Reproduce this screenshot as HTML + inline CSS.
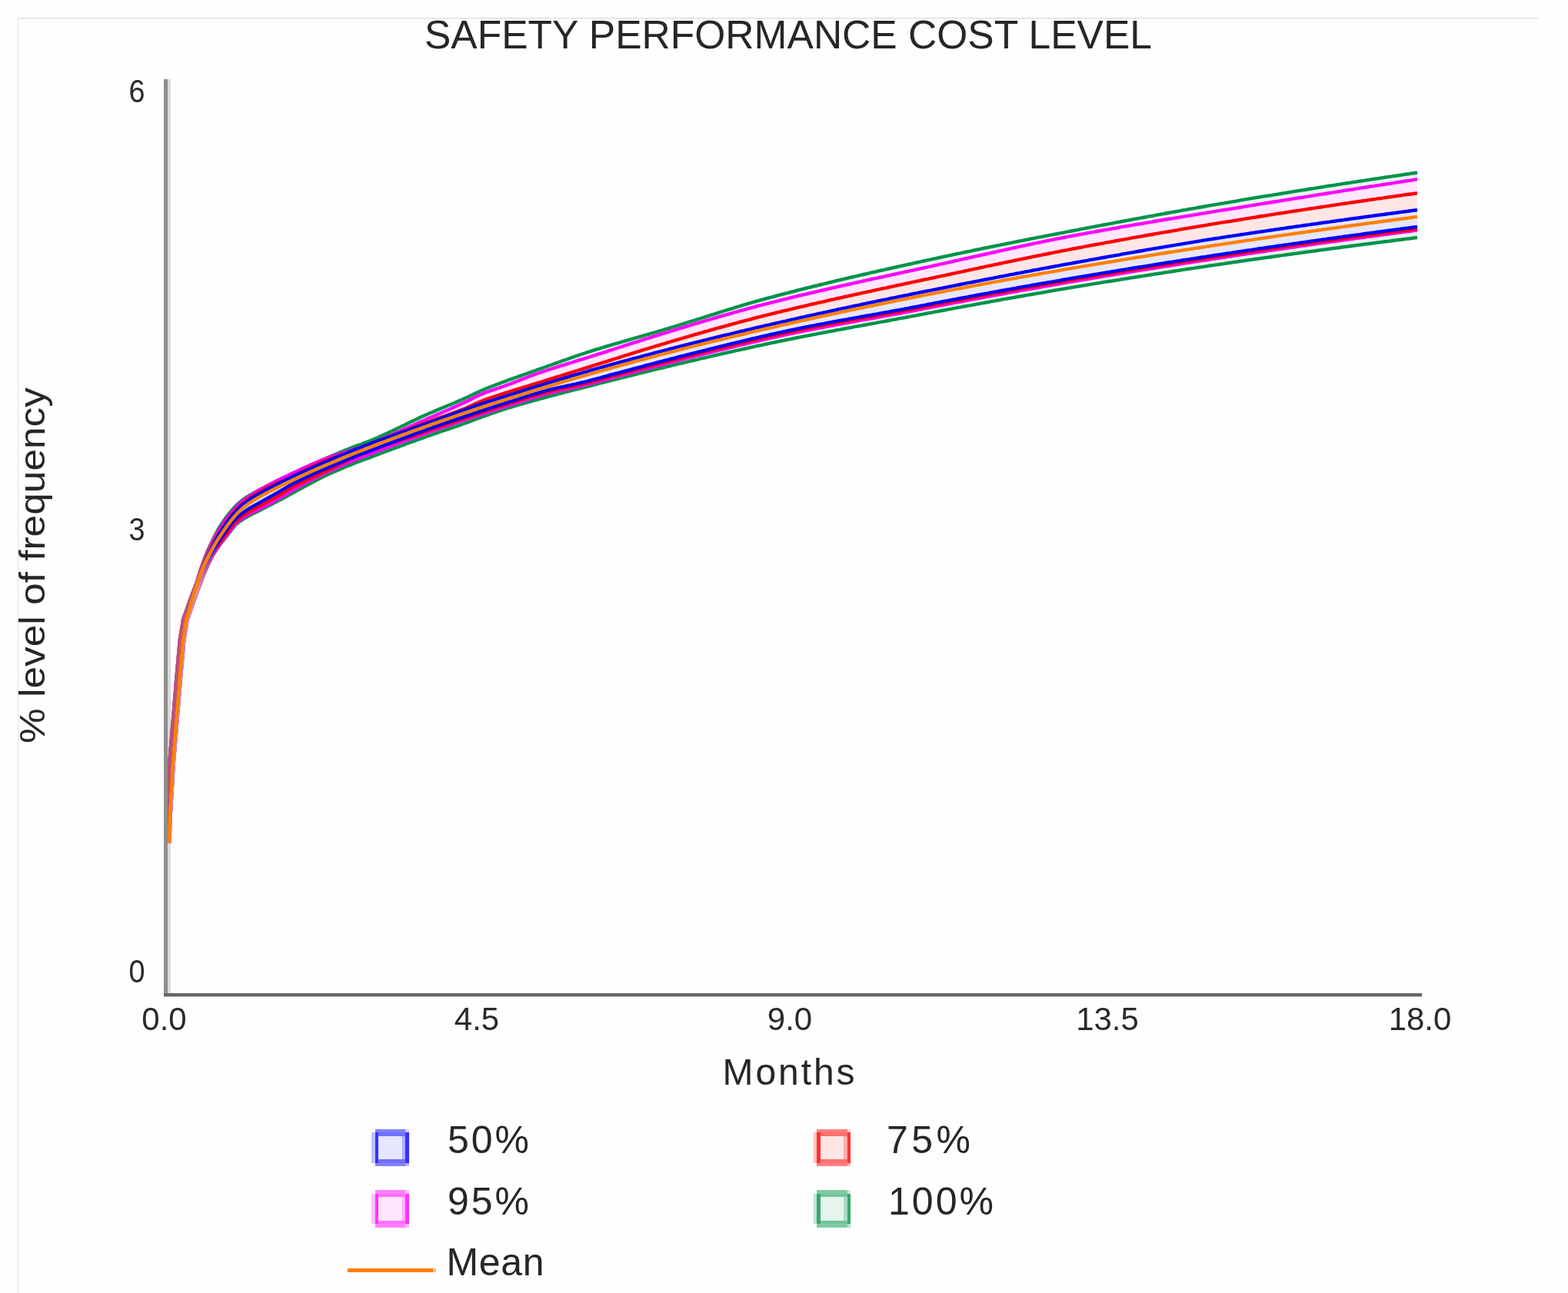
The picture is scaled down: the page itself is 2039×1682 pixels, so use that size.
<!DOCTYPE html>
<html><head><meta charset="utf-8"><title>Safety Performance Cost Level</title>
<style>
html,body{margin:0;padding:0;background:#fefefe;}
body{width:2039px;height:1682px;overflow:hidden;position:relative;}
svg{position:absolute;left:0;top:0;}
</style></head><body>
<svg width="2039" height="1682" viewBox="0 0 2039 1682">
<rect x="23" y="23" width="1977" height="1.3" fill="#dcdcdc"/>
<rect x="23" y="23" width="1.3" height="1659" fill="#e6e6e6"/>
<text x="552" y="62.6" font-size="51.5" fill="#262626" font-family="'Liberation Sans', Arial, sans-serif" textLength="946" lengthAdjust="spacing">SAFETY PERFORMANCE COST LEVEL</text>
<g font-family="'Liberation Sans', Arial, sans-serif" font-size="42" fill="#2a2a2a">
<text transform="translate(178,132.5) scale(0.9,1.03)" text-anchor="middle">6</text>
<text transform="translate(178,702.5) scale(0.9,1.03)" text-anchor="middle">3</text>
<text transform="translate(178,1277.5) scale(0.9,1.03)" text-anchor="middle">0</text>
<text x="213.5" y="1340" text-anchor="middle">0.0</text>
<text x="620" y="1340" text-anchor="middle">4.5</text>
<text x="1027" y="1340" text-anchor="middle">9.0</text>
<text x="1440" y="1340" text-anchor="middle">13.5</text>
<text x="1846.5" y="1340" text-anchor="middle">18.0</text>
</g>
<text x="939.5" y="1411" font-size="48" fill="#262626" font-family="'Liberation Sans', Arial, sans-serif" textLength="172" lengthAdjust="spacing">Months</text>
<text transform="translate(58,967) rotate(-90)" font-size="47" fill="#262626" font-family="'Liberation Sans', Arial, sans-serif" textLength="463" lengthAdjust="spacingAndGlyphs">% level of frequency</text>
<rect x="218" y="103" width="4" height="1189" fill="#d9d9d9"/>
<defs><clipPath id="pc"><rect x="218" y="100" width="1700" height="1192"/></clipPath></defs>
<g clip-path="url(#pc)">
<polygon points="215.0,1096.9 216.0,1064.8 220.1,994.7 224.7,939.7 229.2,884.7 233.8,832.6 238.2,805.3 239.5,801.8 240.7,798.6 241.9,795.4 243.1,792.1 244.2,788.8 245.4,785.4 246.6,782.1 247.8,778.8 249.0,775.5 250.2,772.3 251.4,769.1 252.6,766.0 253.8,762.9 255.0,759.9 256.1,757.0 257.0,754.1 257.8,751.2 258.6,748.4 259.5,745.7 260.3,743.1 261.1,740.5 262.0,738.0 262.8,735.6 263.6,733.2 264.5,730.9 265.3,728.6 266.1,726.4 267.0,724.2 267.8,722.1 268.7,720.0 269.5,717.9 270.4,715.9 271.3,713.9 272.1,712.0 273.0,710.1 273.8,708.2 274.7,706.3 275.6,704.5 276.4,702.7 277.3,700.9 278.2,699.2 279.1,697.4 279.9,695.7 280.8,694.1 281.7,692.4 282.6,690.8 283.4,689.1 284.3,687.5 285.3,686.0 286.2,684.5 287.2,683.0 288.2,681.5 289.1,680.1 290.1,678.6 291.1,677.2 292.1,675.8 293.0,674.4 294.0,673.0 295.1,671.7 296.1,670.3 297.1,669.0 298.2,667.8 299.2,666.5 300.2,665.3 301.3,664.1 302.3,662.9 303.3,661.7 304.4,660.5 305.4,659.4 306.5,658.3 307.5,657.2 308.6,656.2 309.7,655.2 310.7,654.2 311.8,653.3 312.9,652.4 314.0,651.5 315.0,650.7 316.1,649.9 317.2,649.1 318.3,648.4 319.4,647.6 320.4,646.9 321.5,646.2 322.6,645.6 323.6,644.9 324.7,644.3 325.8,643.6 326.8,643.0 327.9,642.4 328.9,641.8 330.0,641.2 331.0,640.6 332.0,640.1 333.1,639.5 334.1,638.9 335.1,638.4 336.2,637.8 337.2,637.3 338.2,636.8 339.2,636.2 340.2,635.7 341.3,635.2 342.3,634.6 343.3,634.1 344.3,633.6 345.3,633.0 346.4,632.5 347.4,632.0 348.4,631.5 349.4,630.9 350.4,630.4 351.4,629.9 352.4,629.4 353.5,628.9 354.5,628.3 355.5,627.8 356.5,627.3 357.5,626.8 358.5,626.3 359.5,625.8 360.5,625.3 361.6,624.8 362.6,624.3 363.6,623.8 364.6,623.3 365.6,622.8 366.6,622.3 367.6,621.8 368.6,621.3 369.6,620.9 370.6,620.4 371.7,619.9 372.7,619.4 373.7,618.9 374.7,618.4 375.7,617.9 376.7,617.5 377.7,617.0 378.7,616.5 379.7,616.0 380.7,615.5 381.7,615.1 382.7,614.6 383.7,614.1 384.7,613.6 385.7,613.2 386.8,612.7 387.8,612.2 388.8,611.8 389.8,611.3 390.8,610.8 391.8,610.4 392.8,609.9 393.8,609.5 394.8,609.0 395.8,608.5 396.7,608.1 399.7,606.8 402.7,605.4 405.8,604.1 408.8,602.7 411.8,601.4 414.8,600.1 417.8,598.8 420.9,597.5 423.9,596.2 427.0,594.8 430.1,593.6 433.1,592.3 436.2,591.0 439.2,589.7 442.3,588.4 445.3,587.2 448.4,585.9 451.5,584.7 454.5,583.5 457.6,582.2 460.6,581.0 463.7,579.9 466.8,578.8 469.9,577.7 472.9,576.5 476.0,575.4 479.1,574.2 482.1,573.0 485.1,571.8 488.1,570.5 491.2,569.2 494.2,567.8 497.2,566.5 500.2,565.1 503.2,563.7 506.2,562.3 509.2,560.9 512.2,559.5 515.2,558.0 518.2,556.6 521.2,555.1 524.2,553.7 527.2,552.2 530.2,550.7 533.2,549.3 536.3,547.8 539.3,546.4 542.3,545.0 545.3,543.5 548.4,542.1 551.4,540.7 554.5,539.4 557.5,538.0 560.6,536.7 563.6,535.4 566.7,534.1 569.8,532.8 572.8,531.6 575.9,530.3 579.0,529.0 582.0,527.8 585.1,526.5 588.2,525.2 591.2,523.9 594.3,522.6 597.4,521.3 600.5,520.0 603.5,518.6 606.6,517.2 609.7,515.7 612.8,514.2 615.9,512.8 619.0,511.3 622.0,509.9 625.0,508.5 628.0,507.2 631.0,505.9 634.0,504.7 637.0,503.5 640.0,502.4 643.0,501.2 646.0,500.1 649.0,499.0 652.0,497.8 655.0,496.7 658.0,495.6 661.0,494.5 664.0,493.4 667.0,492.4 670.0,491.3 673.0,490.2 676.0,489.1 679.0,488.1 682.0,487.0 685.0,486.0 688.0,484.9 691.0,483.8 694.0,482.8 697.0,481.7 700.0,480.7 703.0,479.6 706.0,478.5 709.0,477.5 712.0,476.4 715.0,475.3 718.0,474.2 721.0,473.1 724.0,472.1 727.0,471.0 730.0,469.9 733.0,468.8 736.0,467.8 739.0,466.7 742.0,465.6 745.0,464.6 748.0,463.5 751.0,462.5 754.0,461.5 757.0,460.5 760.0,459.5 763.0,458.5 766.0,457.5 769.0,456.6 772.0,455.6 775.0,454.7 778.0,453.8 781.0,452.9 784.0,452.0 787.0,451.1 790.0,450.2 793.0,449.3 796.0,448.4 799.0,447.5 802.0,446.6 805.0,445.8 808.0,444.9 811.0,444.0 814.0,443.2 817.0,442.3 820.0,441.4 823.0,440.6 826.0,439.7 829.0,438.9 832.0,438.0 835.0,437.2 838.0,436.3 841.0,435.4 844.0,434.6 847.0,433.7 850.0,432.9 853.0,432.0 856.0,431.1 859.0,430.2 862.0,429.3 865.0,428.4 868.0,427.5 871.0,426.6 874.0,425.7 877.0,424.8 880.0,423.9 883.0,422.9 886.0,422.0 889.0,421.1 892.0,420.1 895.0,419.2 898.0,418.2 901.0,417.3 904.0,416.4 907.0,415.4 910.0,414.5 913.0,413.5 916.0,412.6 919.0,411.6 922.0,410.7 925.0,409.7 928.0,408.8 931.0,407.8 934.0,406.9 937.0,405.9 940.0,405.0 943.0,404.0 946.0,403.1 949.0,402.2 952.0,401.3 955.0,400.3 958.0,399.4 961.0,398.5 964.0,397.6 967.0,396.7 970.0,395.8 973.0,394.9 976.0,394.1 979.0,393.2 982.0,392.3 985.0,391.5 988.0,390.6 991.0,389.8 994.0,389.0 997.0,388.2 1000.0,387.4 1003.0,386.6 1006.0,385.8 1009.0,385.0 1012.0,384.2 1015.0,383.4 1018.0,382.6 1021.0,381.8 1024.0,381.1 1027.0,380.3 1030.0,379.5 1033.0,378.8 1036.0,378.0 1039.0,377.2 1042.0,376.5 1045.0,375.7 1048.0,375.0 1051.0,374.2 1054.0,373.5 1057.0,372.7 1060.0,372.0 1063.0,371.3 1066.0,370.5 1069.0,369.8 1072.0,369.1 1075.0,368.3 1078.0,367.6 1081.0,366.9 1084.0,366.2 1087.0,365.4 1090.0,364.7 1093.0,364.0 1096.0,363.3 1099.0,362.6 1102.0,361.9 1105.0,361.2 1108.0,360.5 1111.0,359.8 1114.0,359.1 1117.0,358.4 1120.0,357.7 1123.0,357.0 1126.0,356.3 1129.0,355.6 1132.0,354.9 1135.0,354.2 1138.0,353.6 1141.0,352.9 1144.0,352.2 1147.0,351.5 1150.0,350.8 1153.0,350.2 1156.0,349.5 1159.0,348.8 1162.0,348.1 1165.0,347.5 1168.0,346.8 1171.0,346.1 1174.0,345.5 1177.0,344.8 1180.0,344.1 1183.0,343.5 1186.0,342.8 1189.0,342.2 1192.0,341.5 1195.0,340.8 1198.0,340.2 1201.0,339.5 1204.0,338.9 1207.0,338.2 1210.0,337.6 1213.0,336.9 1216.0,336.3 1219.0,335.6 1222.0,335.0 1225.0,334.3 1228.0,333.7 1231.0,333.1 1234.0,332.4 1237.0,331.8 1240.0,331.2 1243.0,330.5 1246.0,329.9 1249.0,329.3 1252.0,328.6 1255.0,328.0 1258.0,327.4 1261.0,326.8 1264.0,326.1 1267.0,325.5 1270.0,324.9 1273.0,324.3 1276.0,323.7 1279.0,323.0 1282.0,322.4 1285.0,321.8 1288.0,321.2 1291.0,320.6 1294.0,320.0 1297.0,319.4 1300.0,318.8 1303.0,318.2 1306.0,317.6 1309.0,317.0 1312.0,316.4 1315.0,315.8 1318.0,315.2 1321.0,314.6 1324.0,314.0 1327.0,313.4 1330.0,312.8 1333.0,312.2 1336.0,311.6 1339.0,311.0 1342.0,310.4 1345.0,309.8 1348.0,309.2 1351.0,308.7 1354.0,308.1 1357.0,307.5 1360.0,306.9 1363.0,306.3 1366.0,305.7 1369.0,305.2 1372.0,304.6 1375.0,304.0 1378.0,303.4 1381.0,302.8 1384.0,302.3 1387.0,301.7 1390.0,301.1 1393.0,300.5 1396.0,300.0 1399.0,299.4 1402.0,298.8 1405.0,298.2 1408.0,297.7 1411.0,297.1 1414.0,296.5 1417.0,295.9 1420.0,295.4 1423.0,294.8 1426.0,294.2 1429.0,293.7 1432.0,293.1 1435.0,292.5 1438.0,292.0 1441.0,291.4 1444.0,290.8 1447.0,290.3 1450.0,289.7 1453.0,289.1 1456.0,288.6 1459.0,288.0 1462.0,287.5 1465.0,286.9 1468.0,286.3 1471.0,285.8 1474.0,285.2 1477.0,284.7 1480.0,284.1 1483.0,283.6 1486.0,283.0 1489.0,282.5 1492.0,281.9 1495.0,281.4 1498.0,280.8 1501.0,280.3 1504.0,279.7 1507.0,279.2 1510.0,278.6 1513.0,278.1 1516.0,277.5 1519.0,277.0 1522.0,276.4 1525.0,275.9 1528.0,275.4 1531.0,274.8 1534.0,274.3 1537.0,273.7 1540.0,273.2 1543.0,272.7 1546.0,272.1 1549.0,271.6 1552.0,271.1 1555.0,270.6 1558.0,270.0 1561.0,269.5 1564.0,269.0 1567.0,268.5 1570.0,267.9 1573.0,267.4 1576.0,266.9 1579.0,266.4 1582.0,265.9 1585.0,265.3 1588.0,264.8 1591.0,264.3 1594.0,263.8 1597.0,263.3 1600.0,262.8 1603.0,262.3 1606.0,261.8 1609.0,261.3 1612.0,260.7 1615.0,260.2 1618.0,259.7 1621.0,259.2 1624.0,258.7 1627.0,258.2 1630.0,257.7 1633.0,257.2 1636.0,256.7 1639.0,256.2 1642.0,255.7 1645.0,255.2 1648.0,254.8 1651.0,254.3 1654.0,253.8 1657.0,253.3 1660.0,252.8 1663.0,252.3 1666.0,251.8 1669.0,251.3 1672.0,250.8 1675.0,250.3 1678.0,249.9 1681.0,249.4 1684.0,248.9 1687.0,248.4 1690.0,247.9 1693.0,247.4 1696.0,247.0 1699.0,246.5 1702.0,246.0 1705.0,245.5 1708.0,245.1 1711.0,244.6 1714.0,244.1 1717.0,243.6 1720.0,243.2 1723.0,242.7 1726.0,242.2 1729.0,241.7 1732.0,241.3 1735.0,240.8 1738.0,240.3 1741.0,239.9 1744.0,239.4 1747.0,238.9 1750.0,238.5 1753.0,238.0 1756.0,237.6 1759.0,237.1 1762.0,236.6 1765.0,236.2 1768.0,235.7 1771.0,235.3 1774.0,234.8 1777.0,234.3 1780.0,233.9 1783.0,233.4 1786.0,233.0 1789.0,232.5 1792.0,232.1 1795.0,231.6 1798.0,231.2 1801.0,230.7 1804.0,230.3 1807.0,229.8 1810.0,229.4 1813.0,228.9 1816.0,228.5 1819.0,228.1 1822.0,227.6 1825.0,227.2 1828.0,226.7 1831.0,226.3 1834.0,225.8 1837.0,225.4 1840.0,225.0 1843.0,224.5 1843.0,309.0 1840.0,309.4 1837.0,309.8 1834.0,310.2 1831.0,310.5 1828.0,310.9 1825.0,311.3 1822.0,311.7 1819.0,312.0 1816.0,312.4 1813.0,312.8 1810.0,313.2 1807.0,313.6 1804.0,314.0 1801.0,314.3 1798.0,314.7 1795.0,315.1 1792.0,315.5 1789.0,315.9 1786.0,316.3 1783.0,316.7 1780.0,317.0 1777.0,317.4 1774.0,317.8 1771.0,318.2 1768.0,318.6 1765.0,319.0 1762.0,319.4 1759.0,319.8 1756.0,320.2 1753.0,320.6 1750.0,321.0 1747.0,321.4 1744.0,321.8 1741.0,322.2 1738.0,322.6 1735.0,323.0 1732.0,323.4 1729.0,323.8 1726.0,324.2 1723.0,324.6 1720.0,325.0 1717.0,325.4 1714.0,325.8 1711.0,326.2 1708.0,326.6 1705.0,327.0 1702.0,327.4 1699.0,327.8 1696.0,328.2 1693.0,328.6 1690.0,329.0 1687.0,329.5 1684.0,329.9 1681.0,330.3 1678.0,330.7 1675.0,331.1 1672.0,331.5 1669.0,331.9 1666.0,332.4 1663.0,332.8 1660.0,333.2 1657.0,333.6 1654.0,334.0 1651.0,334.5 1648.0,334.9 1645.0,335.3 1642.0,335.7 1639.0,336.2 1636.0,336.6 1633.0,337.0 1630.0,337.4 1627.0,337.9 1624.0,338.3 1621.0,338.7 1618.0,339.2 1615.0,339.6 1612.0,340.0 1609.0,340.5 1606.0,340.9 1603.0,341.3 1600.0,341.8 1597.0,342.2 1594.0,342.6 1591.0,343.1 1588.0,343.5 1585.0,344.0 1582.0,344.4 1579.0,344.9 1576.0,345.3 1573.0,345.7 1570.0,346.2 1567.0,346.6 1564.0,347.1 1561.0,347.5 1558.0,348.0 1555.0,348.4 1552.0,348.9 1549.0,349.3 1546.0,349.8 1543.0,350.2 1540.0,350.7 1537.0,351.2 1534.0,351.6 1531.0,352.1 1528.0,352.5 1525.0,353.0 1522.0,353.5 1519.0,353.9 1516.0,354.4 1513.0,354.8 1510.0,355.3 1507.0,355.8 1504.0,356.2 1501.0,356.7 1498.0,357.2 1495.0,357.6 1492.0,358.1 1489.0,358.6 1486.0,359.1 1483.0,359.5 1480.0,360.0 1477.0,360.5 1474.0,361.0 1471.0,361.4 1468.0,361.9 1465.0,362.4 1462.0,362.9 1459.0,363.3 1456.0,363.8 1453.0,364.3 1450.0,364.8 1447.0,365.3 1444.0,365.8 1441.0,366.2 1438.0,366.7 1435.0,367.2 1432.0,367.7 1429.0,368.2 1426.0,368.7 1423.0,369.2 1420.0,369.7 1417.0,370.2 1414.0,370.7 1411.0,371.2 1408.0,371.7 1405.0,372.2 1402.0,372.7 1399.0,373.2 1396.0,373.7 1393.0,374.2 1390.0,374.7 1387.0,375.2 1384.0,375.7 1381.0,376.2 1378.0,376.7 1375.0,377.2 1372.0,377.7 1369.0,378.2 1366.0,378.7 1363.0,379.2 1360.0,379.8 1357.0,380.3 1354.0,380.8 1351.0,381.3 1348.0,381.8 1345.0,382.3 1342.0,382.9 1339.0,383.4 1336.0,383.9 1333.0,384.4 1330.0,385.0 1327.0,385.5 1324.0,386.0 1321.0,386.5 1318.0,387.1 1315.0,387.6 1312.0,388.1 1309.0,388.7 1306.0,389.2 1303.0,389.7 1300.0,390.3 1297.0,390.8 1294.0,391.4 1291.0,391.9 1288.0,392.4 1285.0,393.0 1282.0,393.5 1279.0,394.1 1276.0,394.6 1273.0,395.2 1270.0,395.7 1267.0,396.3 1264.0,396.8 1261.0,397.4 1258.0,397.9 1255.0,398.5 1252.0,399.0 1249.0,399.6 1246.0,400.1 1243.0,400.7 1240.0,401.2 1237.0,401.8 1234.0,402.3 1231.0,402.9 1228.0,403.5 1225.0,404.0 1222.0,404.6 1219.0,405.2 1216.0,405.7 1213.0,406.3 1210.0,406.8 1207.0,407.4 1204.0,408.0 1201.0,408.6 1198.0,409.1 1195.0,409.7 1192.0,410.3 1189.0,410.8 1186.0,411.4 1183.0,411.9 1180.0,412.5 1177.0,413.1 1174.0,413.6 1171.0,414.2 1168.0,414.7 1165.0,415.3 1162.0,415.8 1159.0,416.4 1156.0,417.0 1153.0,417.5 1150.0,418.1 1147.0,418.6 1144.0,419.2 1141.0,419.7 1138.0,420.3 1135.0,420.8 1132.0,421.4 1129.0,421.9 1126.0,422.5 1123.0,423.0 1120.0,423.6 1117.0,424.1 1114.0,424.7 1111.0,425.2 1108.0,425.8 1105.0,426.3 1102.0,426.9 1099.0,427.5 1096.0,428.0 1093.0,428.6 1090.0,429.1 1087.0,429.7 1084.0,430.3 1081.0,430.8 1078.0,431.4 1075.0,432.0 1072.0,432.5 1069.0,433.1 1066.0,433.7 1063.0,434.2 1060.0,434.8 1057.0,435.4 1054.0,436.0 1051.0,436.6 1048.0,437.1 1045.0,437.7 1042.0,438.3 1039.0,438.9 1036.0,439.5 1033.0,440.1 1030.0,440.7 1027.0,441.3 1024.0,441.9 1021.0,442.5 1018.0,443.1 1015.0,443.7 1012.0,444.4 1009.0,445.0 1006.0,445.6 1003.0,446.2 1000.0,446.9 997.0,447.5 994.0,448.1 991.0,448.8 988.0,449.4 985.0,450.0 982.0,450.7 979.0,451.3 976.0,452.0 973.0,452.6 970.0,453.3 967.0,454.0 964.0,454.6 961.0,455.3 958.0,455.9 955.0,456.6 952.0,457.3 949.0,458.0 946.0,458.6 943.0,459.3 940.0,460.0 937.0,460.7 934.0,461.3 931.0,462.0 928.0,462.7 925.0,463.4 922.0,464.1 919.0,464.8 916.0,465.5 913.0,466.2 910.0,466.9 907.0,467.6 904.0,468.3 901.0,469.0 898.0,469.7 895.0,470.4 892.0,471.1 889.0,471.8 886.0,472.5 883.0,473.2 880.0,473.9 877.0,474.6 874.0,475.4 871.0,476.1 868.0,476.8 865.0,477.5 862.0,478.3 859.0,479.0 856.0,479.7 853.0,480.4 850.0,481.2 847.0,481.9 844.0,482.6 841.0,483.4 838.0,484.1 835.0,484.8 832.0,485.6 829.0,486.3 826.0,487.1 823.0,487.8 820.0,488.6 817.0,489.3 814.0,490.1 811.0,490.8 808.0,491.6 805.0,492.3 802.0,493.1 799.0,493.9 796.0,494.6 793.0,495.4 790.0,496.1 787.0,496.9 784.0,497.7 781.0,498.4 778.0,499.2 775.0,500.0 772.0,500.7 769.0,501.5 766.0,502.3 763.0,503.1 760.0,503.8 757.0,504.6 754.0,505.3 751.0,506.1 748.0,506.9 745.0,507.6 742.0,508.4 739.0,509.2 736.0,509.9 733.0,510.7 730.0,511.5 727.0,512.2 724.0,513.0 721.0,513.8 718.0,514.6 715.0,515.4 712.0,516.2 709.0,517.0 706.0,517.8 703.0,518.6 700.0,519.5 697.0,520.3 694.0,521.1 691.0,522.0 688.0,522.8 685.0,523.6 682.0,524.5 679.0,525.3 676.0,526.2 673.0,527.1 670.0,527.9 667.0,528.8 664.0,529.8 661.0,530.7 658.0,531.6 655.0,532.6 652.0,533.6 649.0,534.6 646.0,535.6 643.0,536.7 640.0,537.7 637.0,538.8 634.0,539.8 631.0,540.9 628.0,542.0 625.0,543.1 622.0,544.2 619.0,545.3 616.1,546.4 613.1,547.5 610.2,548.6 607.3,549.7 604.3,550.7 601.4,551.8 598.5,552.8 595.5,553.8 592.6,554.8 589.6,555.8 586.7,556.8 583.8,557.8 580.8,558.8 577.9,559.8 575.0,560.8 572.0,561.9 569.1,562.9 566.2,563.9 563.2,564.9 560.3,566.0 557.4,567.0 554.4,568.0 551.5,569.1 548.6,570.1 545.6,571.2 542.7,572.2 539.8,573.3 536.8,574.3 533.9,575.4 531.0,576.5 528.0,577.5 525.1,578.6 522.2,579.7 519.3,580.8 516.3,581.8 513.4,582.9 510.5,584.0 507.5,585.1 504.6,586.2 501.7,587.3 498.8,588.4 495.8,589.5 492.9,590.6 490.0,591.7 487.1,592.8 484.1,593.9 481.2,595.1 478.3,596.1 475.3,597.2 472.4,598.3 469.4,599.3 466.5,600.4 463.6,601.5 460.6,602.7 457.7,603.9 454.8,605.1 451.9,606.3 449.0,607.5 446.1,608.7 443.2,610.0 440.3,611.2 437.4,612.5 434.5,613.7 431.6,615.0 428.7,616.3 425.9,617.6 422.9,618.9 420.0,620.3 417.1,621.7 414.2,623.2 411.3,624.7 408.4,626.2 405.5,627.8 404.7,628.2 403.7,628.7 402.8,629.3 401.8,629.8 400.9,630.3 399.9,630.8 398.9,631.3 398.0,631.9 397.0,632.4 396.1,632.9 395.1,633.4 394.2,634.0 393.2,634.5 392.3,635.0 391.3,635.5 390.3,636.1 389.4,636.6 388.4,637.1 387.5,637.6 386.5,638.1 385.5,638.6 384.6,639.2 383.6,639.7 382.7,640.2 381.7,640.7 380.7,641.3 379.8,641.8 378.8,642.3 377.9,642.9 376.9,643.4 376.0,643.9 375.0,644.5 374.0,645.0 373.1,645.5 372.1,646.1 371.2,646.6 370.2,647.1 369.2,647.6 368.3,648.2 367.3,648.7 366.3,649.2 365.4,649.7 364.4,650.2 363.4,650.7 362.4,651.2 361.5,651.7 360.5,652.2 359.5,652.7 358.5,653.2 357.5,653.7 356.5,654.2 355.6,654.7 354.6,655.2 353.6,655.7 352.6,656.2 351.6,656.7 350.7,657.2 349.7,657.8 348.7,658.3 347.7,658.8 346.7,659.3 345.8,659.8 344.8,660.3 343.8,660.9 342.9,661.4 341.9,661.9 340.9,662.4 340.0,662.9 339.0,663.3 338.1,663.8 337.1,664.3 336.2,664.8 335.2,665.3 334.2,665.7 333.3,666.2 332.3,666.7 331.4,667.1 330.4,667.6 329.4,668.1 328.5,668.6 327.5,669.1 326.5,669.6 325.5,670.1 324.5,670.6 323.5,671.2 322.5,671.7 321.5,672.3 320.4,672.9 319.3,673.5 318.2,674.2 317.1,674.8 315.9,675.6 314.8,676.3 313.6,677.1 312.4,677.9 311.2,678.8 310.0,679.7 308.8,680.7 307.6,681.6 306.4,682.7 305.4,683.9 304.4,685.1 303.4,686.4 302.4,687.6 301.4,688.9 300.4,690.3 299.3,691.6 298.3,693.0 297.3,694.3 296.3,695.7 295.2,697.1 294.1,698.4 292.9,699.8 291.8,701.2 290.7,702.6 289.6,704.1 288.4,705.5 287.3,707.0 286.2,708.6 285.1,710.1 283.9,711.7 282.8,713.3 281.7,714.9 280.5,716.6 279.4,718.3 278.2,720.1 277.1,721.9 276.1,723.8 275.1,725.7 274.1,727.7 273.1,729.7 272.0,731.8 271.0,733.9 270.0,736.1 269.0,738.3 268.0,740.6 267.0,742.9 266.0,745.4 264.9,747.9 263.9,750.4 262.9,753.1 261.9,755.8 260.9,758.7 259.8,761.5 258.6,764.5 257.5,767.5 256.3,770.6 255.1,773.8 254.0,777.0 252.8,780.3 251.7,783.6 250.5,786.9 249.4,790.3 248.2,793.6 247.0,797.0 245.9,800.2 244.7,803.4 243.6,806.3 239.3,833.2 234.7,885.1 230.2,940.1 225.6,995.1 221.5,1065.1 220.5,1097.0" fill="#e5f4ec"/>
<polygon points="215.0,1096.9 216.0,1064.8 220.1,994.7 224.7,939.7 229.2,884.7 233.8,832.6 238.2,805.3 239.5,801.8 240.7,798.6 241.9,795.4 243.1,792.1 244.2,788.8 245.4,785.4 246.6,782.1 247.8,778.8 249.0,775.5 250.2,772.3 251.4,769.1 252.6,766.0 253.8,762.9 255.0,759.9 256.1,757.0 257.0,754.1 257.8,751.2 258.6,748.4 259.5,745.7 260.3,743.1 261.1,740.5 262.0,738.0 262.8,735.6 263.6,733.2 264.5,730.9 265.3,728.6 266.1,726.4 267.0,724.2 267.8,722.1 268.7,720.0 269.5,717.9 270.5,715.9 271.4,714.0 272.3,712.1 273.2,710.2 274.2,708.4 275.1,706.5 276.0,704.8 276.9,703.0 277.9,701.3 278.8,699.6 279.7,697.9 280.6,696.2 281.6,694.6 282.5,692.9 283.4,691.3 284.4,689.8 285.3,688.2 286.3,686.7 287.3,685.2 288.3,683.8 289.3,682.3 290.3,680.9 291.3,679.5 292.2,678.1 293.2,676.7 294.2,675.3 295.3,673.9 296.3,672.6 297.3,671.3 298.3,670.0 299.4,668.8 300.4,667.5 301.4,666.3 302.4,665.1 303.5,664.0 304.5,662.8 305.5,661.7 306.6,660.6 307.6,659.5 308.6,658.4 309.6,657.4 310.6,656.3 311.7,655.4 312.7,654.4 313.7,653.5 314.7,652.6 315.8,651.7 316.8,650.8 317.8,650.0 318.9,649.2 319.9,648.4 320.9,647.7 322.0,647.0 323.0,646.2 324.0,645.5 325.1,644.8 326.1,644.2 327.1,643.5 328.2,642.9 329.2,642.2 330.2,641.6 331.2,641.0 332.2,640.4 333.3,639.8 334.3,639.2 335.3,638.7 336.3,638.1 337.3,637.5 338.3,637.0 339.3,636.4 340.3,635.8 341.3,635.3 342.4,634.7 343.4,634.2 344.4,633.6 345.4,633.1 346.4,632.6 347.4,632.0 348.4,631.5 349.4,631.0 350.4,630.4 351.4,629.9 352.4,629.4 353.4,628.8 354.5,628.3 355.5,627.8 356.5,627.3 357.5,626.8 358.5,626.3 359.5,625.8 360.5,625.3 361.5,624.8 362.6,624.3 363.6,623.8 364.6,623.3 365.6,622.8 366.6,622.3 367.6,621.8 368.6,621.3 369.6,620.8 370.6,620.4 371.7,619.9 372.7,619.4 373.7,618.9 374.7,618.4 375.7,617.9 376.7,617.5 377.7,617.0 378.7,616.5 379.7,616.0 380.7,615.5 381.7,615.1 382.7,614.6 383.7,614.1 384.7,613.6 385.7,613.2 386.8,612.7 387.8,612.2 388.8,611.8 389.8,611.3 390.8,610.8 391.8,610.4 392.8,609.9 393.8,609.5 394.8,609.0 395.8,608.5 396.7,608.1 399.7,606.8 402.7,605.4 405.8,604.1 408.8,602.7 411.8,601.4 414.8,600.1 417.8,598.8 420.9,597.5 424.0,596.3 427.1,595.2 430.3,594.1 433.4,593.1 436.6,592.1 439.7,591.1 442.9,590.1 446.0,589.2 449.2,588.2 452.3,587.3 455.4,586.3 458.5,585.2 461.6,584.2 464.7,583.2 467.8,582.2 470.8,581.2 473.9,580.1 477.0,579.0 480.0,577.9 483.0,576.7 486.0,575.4 489.0,574.2 492.0,573.0 495.0,571.7 498.0,570.5 501.0,569.2 504.0,567.9 507.0,566.6 510.0,565.3 513.0,563.9 516.0,562.6 519.0,561.3 522.0,559.9 525.0,558.6 528.0,557.2 531.0,555.9 534.0,554.5 537.0,553.2 540.0,551.8 543.0,550.5 546.0,549.1 549.0,547.8 552.1,546.5 555.1,545.1 558.1,543.8 561.1,542.5 564.1,541.2 567.2,539.9 570.2,538.6 573.2,537.3 576.3,535.9 579.3,534.6 582.3,533.3 585.4,531.9 588.4,530.6 591.5,529.2 594.5,527.9 597.6,526.5 600.6,525.1 603.7,523.7 606.7,522.2 609.8,520.7 612.8,519.2 615.9,517.6 619.0,516.1 622.0,514.7 625.0,513.3 628.0,512.1 631.0,510.9 634.0,509.8 637.0,508.7 640.0,507.7 643.0,506.6 646.0,505.6 649.0,504.6 652.0,503.5 655.0,502.5 658.0,501.4 661.0,500.3 664.0,499.2 667.0,498.1 670.0,496.9 673.0,495.7 676.0,494.6 679.0,493.4 682.0,492.2 685.0,491.0 688.0,489.9 691.0,488.7 694.0,487.6 697.0,486.5 700.0,485.5 703.0,484.5 706.0,483.5 709.0,482.5 712.0,481.5 715.0,480.5 718.0,479.5 721.0,478.6 724.0,477.6 727.0,476.7 730.0,475.7 733.0,474.8 736.0,473.8 739.0,472.9 742.0,472.0 745.0,471.0 748.0,470.1 751.0,469.2 754.0,468.2 757.0,467.3 760.0,466.4 763.0,465.5 766.0,464.5 769.0,463.6 772.0,462.6 775.0,461.7 778.0,460.7 781.0,459.8 784.0,458.8 787.0,457.9 790.0,456.9 793.0,455.9 796.0,455.0 799.0,454.0 802.0,453.0 805.0,452.0 808.0,451.1 811.0,450.1 814.0,449.1 817.0,448.2 820.0,447.2 823.0,446.2 826.0,445.3 829.0,444.3 832.0,443.3 835.0,442.4 838.0,441.4 841.0,440.5 844.0,439.6 847.0,438.6 850.0,437.7 853.0,436.8 856.0,435.8 859.0,434.9 862.0,434.0 865.0,433.1 868.0,432.2 871.0,431.2 874.0,430.3 877.0,429.4 880.0,428.5 883.0,427.6 886.0,426.7 889.0,425.8 892.0,424.9 895.0,424.0 898.0,423.0 901.0,422.1 904.0,421.2 907.0,420.3 910.0,419.5 913.0,418.6 916.0,417.7 919.0,416.8 922.0,415.9 925.0,415.0 928.0,414.1 931.0,413.3 934.0,412.4 937.0,411.5 940.0,410.7 943.0,409.8 946.0,409.0 949.0,408.1 952.0,407.3 955.0,406.4 958.0,405.6 961.0,404.7 964.0,403.9 967.0,403.1 970.0,402.3 973.0,401.4 976.0,400.6 979.0,399.8 982.0,399.0 985.0,398.2 988.0,397.4 991.0,396.7 994.0,395.9 997.0,395.1 1000.0,394.4 1003.0,393.6 1006.0,392.8 1009.0,392.1 1012.0,391.3 1015.0,390.6 1018.0,389.8 1021.0,389.1 1024.0,388.4 1027.0,387.6 1030.0,386.9 1033.0,386.2 1036.0,385.5 1039.0,384.7 1042.0,384.0 1045.0,383.3 1048.0,382.6 1051.0,381.9 1054.0,381.2 1057.0,380.5 1060.0,379.8 1063.0,379.1 1066.0,378.4 1069.0,377.7 1072.0,377.0 1075.0,376.3 1078.0,375.6 1081.0,374.9 1084.0,374.2 1087.0,373.6 1090.0,372.9 1093.0,372.2 1096.0,371.5 1099.0,370.9 1102.0,370.2 1105.0,369.5 1108.0,368.8 1111.0,368.2 1114.0,367.5 1117.0,366.8 1120.0,366.2 1123.0,365.5 1126.0,364.9 1129.0,364.2 1132.0,363.5 1135.0,362.9 1138.0,362.2 1141.0,361.6 1144.0,360.9 1147.0,360.3 1150.0,359.6 1153.0,358.9 1156.0,358.3 1159.0,357.6 1162.0,357.0 1165.0,356.3 1168.0,355.7 1171.0,355.0 1174.0,354.4 1177.0,353.7 1180.0,353.1 1183.0,352.4 1186.0,351.8 1189.0,351.1 1192.0,350.5 1195.0,349.8 1198.0,349.2 1201.0,348.5 1204.0,347.9 1207.0,347.2 1210.0,346.6 1213.0,345.9 1216.0,345.2 1219.0,344.6 1222.0,343.9 1225.0,343.2 1228.0,342.6 1231.0,341.9 1234.0,341.2 1237.0,340.6 1240.0,339.9 1243.0,339.2 1246.0,338.6 1249.0,337.9 1252.0,337.2 1255.0,336.5 1258.0,335.9 1261.0,335.2 1264.0,334.5 1267.0,333.8 1270.0,333.2 1273.0,332.5 1276.0,331.8 1279.0,331.2 1282.0,330.5 1285.0,329.8 1288.0,329.1 1291.0,328.5 1294.0,327.8 1297.0,327.1 1300.0,326.5 1303.0,325.8 1306.0,325.2 1309.0,324.5 1312.0,323.8 1315.0,323.2 1318.0,322.5 1321.0,321.9 1324.0,321.2 1327.0,320.6 1330.0,319.9 1333.0,319.3 1336.0,318.6 1339.0,318.0 1342.0,317.4 1345.0,316.7 1348.0,316.1 1351.0,315.5 1354.0,314.9 1357.0,314.2 1360.0,313.6 1363.0,313.0 1366.0,312.4 1369.0,311.8 1372.0,311.2 1375.0,310.6 1378.0,310.0 1381.0,309.4 1384.0,308.8 1387.0,308.2 1390.0,307.7 1393.0,307.1 1396.0,306.5 1399.0,306.0 1402.0,305.4 1405.0,304.9 1408.0,304.3 1411.0,303.8 1414.0,303.2 1417.0,302.7 1420.0,302.1 1423.0,301.6 1426.0,301.0 1429.0,300.5 1432.0,300.0 1435.0,299.4 1438.0,298.9 1441.0,298.4 1444.0,297.8 1447.0,297.3 1450.0,296.8 1453.0,296.3 1456.0,295.7 1459.0,295.2 1462.0,294.7 1465.0,294.2 1468.0,293.7 1471.0,293.1 1474.0,292.6 1477.0,292.1 1480.0,291.6 1483.0,291.1 1486.0,290.6 1489.0,290.1 1492.0,289.6 1495.0,289.1 1498.0,288.6 1501.0,288.0 1504.0,287.5 1507.0,287.0 1510.0,286.5 1513.0,286.0 1516.0,285.5 1519.0,285.0 1522.0,284.5 1525.0,284.1 1528.0,283.6 1531.0,283.1 1534.0,282.6 1537.0,282.1 1540.0,281.6 1543.0,281.1 1546.0,280.6 1549.0,280.1 1552.0,279.6 1555.0,279.1 1558.0,278.6 1561.0,278.1 1564.0,277.6 1567.0,277.2 1570.0,276.7 1573.0,276.2 1576.0,275.7 1579.0,275.2 1582.0,274.7 1585.0,274.2 1588.0,273.7 1591.0,273.2 1594.0,272.8 1597.0,272.3 1600.0,271.8 1603.0,271.3 1606.0,270.8 1609.0,270.3 1612.0,269.8 1615.0,269.3 1618.0,268.8 1621.0,268.4 1624.0,267.9 1627.0,267.4 1630.0,266.9 1633.0,266.4 1636.0,265.9 1639.0,265.4 1642.0,265.0 1645.0,264.5 1648.0,264.0 1651.0,263.5 1654.0,263.0 1657.0,262.5 1660.0,262.0 1663.0,261.6 1666.0,261.1 1669.0,260.6 1672.0,260.1 1675.0,259.6 1678.0,259.2 1681.0,258.7 1684.0,258.2 1687.0,257.7 1690.0,257.2 1693.0,256.8 1696.0,256.3 1699.0,255.8 1702.0,255.3 1705.0,254.8 1708.0,254.4 1711.0,253.9 1714.0,253.4 1717.0,252.9 1720.0,252.5 1723.0,252.0 1726.0,251.5 1729.0,251.0 1732.0,250.6 1735.0,250.1 1738.0,249.6 1741.0,249.1 1744.0,248.7 1747.0,248.2 1750.0,247.7 1753.0,247.2 1756.0,246.8 1759.0,246.3 1762.0,245.8 1765.0,245.4 1768.0,244.9 1771.0,244.4 1774.0,243.9 1777.0,243.5 1780.0,243.0 1783.0,242.5 1786.0,242.1 1789.0,241.6 1792.0,241.1 1795.0,240.7 1798.0,240.2 1801.0,239.7 1804.0,239.3 1807.0,238.8 1810.0,238.3 1813.0,237.9 1816.0,237.4 1819.0,236.9 1822.0,236.5 1825.0,236.0 1828.0,235.5 1831.0,235.1 1834.0,234.6 1837.0,234.2 1840.0,233.7 1843.0,233.2 1843.0,299.5 1840.0,299.9 1837.0,300.3 1834.0,300.7 1831.0,301.1 1828.0,301.5 1825.0,301.9 1822.0,302.3 1819.0,302.7 1816.0,303.1 1813.0,303.5 1810.0,303.9 1807.0,304.3 1804.0,304.7 1801.0,305.1 1798.0,305.5 1795.0,305.9 1792.0,306.3 1789.0,306.7 1786.0,307.1 1783.0,307.5 1780.0,307.9 1777.0,308.3 1774.0,308.7 1771.0,309.1 1768.0,309.5 1765.0,309.9 1762.0,310.3 1759.0,310.7 1756.0,311.1 1753.0,311.5 1750.0,312.0 1747.0,312.4 1744.0,312.8 1741.0,313.2 1738.0,313.6 1735.0,314.0 1732.0,314.4 1729.0,314.9 1726.0,315.3 1723.0,315.7 1720.0,316.1 1717.0,316.5 1714.0,316.9 1711.0,317.4 1708.0,317.8 1705.0,318.2 1702.0,318.6 1699.0,319.1 1696.0,319.5 1693.0,319.9 1690.0,320.3 1687.0,320.8 1684.0,321.2 1681.0,321.6 1678.0,322.0 1675.0,322.5 1672.0,322.9 1669.0,323.3 1666.0,323.8 1663.0,324.2 1660.0,324.6 1657.0,325.1 1654.0,325.5 1651.0,325.9 1648.0,326.4 1645.0,326.8 1642.0,327.3 1639.0,327.7 1636.0,328.1 1633.0,328.6 1630.0,329.0 1627.0,329.5 1624.0,329.9 1621.0,330.3 1618.0,330.8 1615.0,331.2 1612.0,331.7 1609.0,332.1 1606.0,332.6 1603.0,333.0 1600.0,333.5 1597.0,333.9 1594.0,334.4 1591.0,334.8 1588.0,335.3 1585.0,335.7 1582.0,336.2 1579.0,336.6 1576.0,337.1 1573.0,337.6 1570.0,338.0 1567.0,338.5 1564.0,338.9 1561.0,339.4 1558.0,339.9 1555.0,340.3 1552.0,340.8 1549.0,341.3 1546.0,341.7 1543.0,342.2 1540.0,342.7 1537.0,343.1 1534.0,343.6 1531.0,344.1 1528.0,344.5 1525.0,345.0 1522.0,345.5 1519.0,346.0 1516.0,346.4 1513.0,346.9 1510.0,347.4 1507.0,347.9 1504.0,348.3 1501.0,348.8 1498.0,349.3 1495.0,349.8 1492.0,350.3 1489.0,350.7 1486.0,351.2 1483.0,351.7 1480.0,352.2 1477.0,352.7 1474.0,353.2 1471.0,353.7 1468.0,354.2 1465.0,354.6 1462.0,355.1 1459.0,355.6 1456.0,356.1 1453.0,356.6 1450.0,357.1 1447.0,357.6 1444.0,358.1 1441.0,358.6 1438.0,359.1 1435.0,359.6 1432.0,360.1 1429.0,360.6 1426.0,361.1 1423.0,361.6 1420.0,362.1 1417.0,362.6 1414.0,363.1 1411.0,363.6 1408.0,364.1 1405.0,364.6 1402.0,365.1 1399.0,365.7 1396.0,366.2 1393.0,366.7 1390.0,367.2 1387.0,367.7 1384.0,368.2 1381.0,368.7 1378.0,369.3 1375.0,369.8 1372.0,370.3 1369.0,370.8 1366.0,371.3 1363.0,371.9 1360.0,372.4 1357.0,372.9 1354.0,373.4 1351.0,374.0 1348.0,374.5 1345.0,375.0 1342.0,375.5 1339.0,376.1 1336.0,376.6 1333.0,377.1 1330.0,377.7 1327.0,378.2 1324.0,378.7 1321.0,379.3 1318.0,379.8 1315.0,380.4 1312.0,380.9 1309.0,381.4 1306.0,382.0 1303.0,382.5 1300.0,383.1 1297.0,383.6 1294.0,384.2 1291.0,384.7 1288.0,385.3 1285.0,385.8 1282.0,386.4 1279.0,386.9 1276.0,387.5 1273.0,388.0 1270.0,388.6 1267.0,389.1 1264.0,389.7 1261.0,390.3 1258.0,390.8 1255.0,391.4 1252.0,392.0 1249.0,392.5 1246.0,393.1 1243.0,393.7 1240.0,394.2 1237.0,394.8 1234.0,395.4 1231.0,395.9 1228.0,396.5 1225.0,397.1 1222.0,397.7 1219.0,398.2 1216.0,398.8 1213.0,399.4 1210.0,400.0 1207.0,400.6 1204.0,401.2 1201.0,401.7 1198.0,402.3 1195.0,402.9 1192.0,403.5 1189.0,404.1 1186.0,404.6 1183.0,405.2 1180.0,405.8 1177.0,406.3 1174.0,406.9 1171.0,407.5 1168.0,408.0 1165.0,408.6 1162.0,409.1 1159.0,409.7 1156.0,410.2 1153.0,410.8 1150.0,411.3 1147.0,411.8 1144.0,412.4 1141.0,412.9 1138.0,413.5 1135.0,414.0 1132.0,414.6 1129.0,415.1 1126.0,415.6 1123.0,416.2 1120.0,416.7 1117.0,417.2 1114.0,417.8 1111.0,418.3 1108.0,418.9 1105.0,419.4 1102.0,420.0 1099.0,420.5 1096.0,421.1 1093.0,421.6 1090.0,422.2 1087.0,422.7 1084.0,423.3 1081.0,423.8 1078.0,424.4 1075.0,424.9 1072.0,425.5 1069.0,426.1 1066.0,426.6 1063.0,427.2 1060.0,427.8 1057.0,428.4 1054.0,429.0 1051.0,429.6 1048.0,430.1 1045.0,430.7 1042.0,431.3 1039.0,432.0 1036.0,432.6 1033.0,433.2 1030.0,433.8 1027.0,434.4 1024.0,435.1 1021.0,435.7 1018.0,436.4 1015.0,437.0 1012.0,437.7 1009.0,438.3 1006.0,439.0 1003.0,439.7 1000.0,440.4 997.0,441.0 994.0,441.7 991.0,442.4 988.0,443.1 985.0,443.8 982.0,444.5 979.0,445.2 976.0,445.9 973.0,446.6 970.0,447.3 967.0,448.0 964.0,448.7 961.0,449.4 958.0,450.2 955.0,450.9 952.0,451.6 949.0,452.3 946.0,453.0 943.0,453.8 940.0,454.5 937.0,455.2 934.0,455.9 931.0,456.7 928.0,457.4 925.0,458.1 922.0,458.9 919.0,459.6 916.0,460.4 913.0,461.1 910.0,461.9 907.0,462.6 904.0,463.4 901.0,464.1 898.0,464.9 895.0,465.6 892.0,466.4 889.0,467.1 886.0,467.9 883.0,468.7 880.0,469.4 877.0,470.2 874.0,471.0 871.0,471.7 868.0,472.5 865.0,473.3 862.0,474.1 859.0,474.8 856.0,475.6 853.0,476.4 850.0,477.2 847.0,478.0 844.0,478.8 841.0,479.6 838.0,480.4 835.0,481.1 832.0,481.9 829.0,482.7 826.0,483.5 823.0,484.3 820.0,485.1 817.0,485.9 814.0,486.7 811.0,487.5 808.0,488.3 805.0,489.1 802.0,489.9 799.0,490.7 796.0,491.5 793.0,492.3 790.0,493.1 787.0,494.0 784.0,494.8 781.0,495.6 778.0,496.4 775.0,497.2 772.0,498.0 769.0,498.8 766.0,499.6 763.0,500.4 760.0,501.1 757.0,501.8 754.0,502.5 751.0,503.2 748.0,503.9 745.0,504.5 742.0,505.2 739.0,505.8 736.0,506.5 733.0,507.1 730.0,507.8 727.0,508.4 724.0,509.1 721.0,509.8 718.0,510.5 715.0,511.2 712.0,512.0 709.0,512.8 706.0,513.6 703.0,514.5 700.0,515.4 697.0,516.3 694.0,517.2 691.0,518.2 688.0,519.1 685.0,520.0 682.0,521.0 679.0,521.9 676.0,522.9 673.0,523.8 670.0,524.8 667.0,525.8 664.0,526.7 661.0,527.7 658.0,528.6 655.0,529.6 652.0,530.5 649.0,531.5 646.0,532.5 643.0,533.4 640.0,534.4 637.0,535.3 634.0,536.3 631.0,537.3 628.0,538.3 625.0,539.3 622.0,540.3 619.0,541.3 616.1,542.2 613.1,543.2 610.1,544.2 607.2,545.2 604.2,546.2 601.3,547.2 598.3,548.2 595.3,549.2 592.4,550.2 589.4,551.2 586.5,552.3 583.5,553.3 580.5,554.3 577.6,555.3 574.6,556.4 571.7,557.4 568.7,558.4 565.8,559.4 562.8,560.5 559.9,561.5 556.9,562.6 553.9,563.6 551.0,564.7 548.0,565.7 545.1,566.8 542.1,567.9 539.2,568.9 536.2,570.0 533.3,571.1 530.3,572.2 527.4,573.2 524.4,574.3 521.5,575.4 518.5,576.5 515.6,577.6 512.6,578.7 509.7,579.8 506.7,580.9 503.8,582.0 500.8,583.2 497.9,584.3 494.9,585.4 492.0,586.5 489.0,587.7 486.1,588.8 483.1,589.9 480.2,591.1 477.2,592.2 474.2,593.3 471.3,594.4 468.3,595.5 465.4,596.6 462.4,597.8 459.5,599.0 456.5,600.2 453.6,601.4 450.7,602.7 447.7,603.9 444.8,605.2 441.9,606.5 439.0,607.9 436.1,609.2 433.2,610.5 430.4,611.9 427.5,613.3 424.6,614.6 421.7,616.0 418.8,617.4 415.8,618.9 412.9,620.3 410.0,621.8 407.1,623.3 404.2,624.8 403.3,625.3 402.4,625.8 401.4,626.3 400.5,626.8 399.5,627.3 398.5,627.8 397.6,628.3 396.6,628.8 395.6,629.4 394.7,629.9 393.7,630.4 392.8,630.9 391.8,631.5 390.8,632.0 389.9,632.5 388.9,633.0 388.0,633.6 387.0,634.1 386.1,634.6 385.1,635.2 384.1,635.7 383.2,636.2 382.2,636.8 381.3,637.3 380.3,637.9 379.4,638.5 378.4,639.0 377.5,639.6 376.6,640.2 375.6,640.8 374.7,641.3 373.8,641.9 372.8,642.5 371.9,643.1 370.9,643.6 370.0,644.2 369.1,644.8 368.1,645.4 367.2,645.9 366.2,646.5 365.3,647.1 364.3,647.6 363.3,648.2 362.4,648.7 361.4,649.2 360.4,649.8 359.5,650.3 358.5,650.8 357.5,651.3 356.6,651.9 355.6,652.4 354.6,652.9 353.7,653.5 352.7,654.0 351.7,654.5 350.7,655.1 349.8,655.6 348.8,656.2 347.8,656.7 346.9,657.2 345.9,657.8 344.9,658.3 343.9,658.8 343.0,659.3 342.0,659.9 341.0,660.4 340.1,660.9 339.1,661.4 338.1,661.8 337.2,662.3 336.2,662.8 335.2,663.3 334.2,663.7 333.3,664.2 332.3,664.7 331.3,665.2 330.3,665.6 329.3,666.1 328.3,666.6 327.3,667.1 326.3,667.6 325.3,668.1 324.3,668.6 323.3,669.2 322.3,669.8 321.3,670.3 320.2,671.0 319.1,671.6 318.1,672.3 317.0,673.0 315.9,673.7 314.8,674.5 313.7,675.3 312.5,676.2 311.4,677.1 310.3,678.0 309.1,679.0 308.0,680.0 306.8,681.0 305.7,682.1 304.7,683.3 303.7,684.5 302.7,685.8 301.7,687.1 300.7,688.4 299.7,689.8 298.7,691.1 297.7,692.5 296.6,693.9 295.6,695.3 294.6,696.6 293.5,698.0 292.4,699.4 291.3,700.9 290.2,702.3 289.1,703.8 288.0,705.3 286.9,706.8 285.9,708.4 284.8,709.9 283.7,711.5 282.6,713.2 281.5,714.8 280.4,716.5 279.3,718.3 278.2,720.1 277.1,721.9 276.1,723.8 275.1,725.7 274.1,727.7 273.1,729.7 272.0,731.8 271.0,733.9 270.0,736.1 269.0,738.3 268.0,740.6 267.0,742.9 266.0,745.4 264.9,747.9 263.9,750.4 262.9,753.1 261.9,755.8 260.9,758.7 259.8,761.5 258.6,764.5 257.5,767.5 256.3,770.6 255.1,773.8 254.0,777.0 252.8,780.3 251.7,783.6 250.5,786.9 249.4,790.3 248.2,793.6 247.0,797.0 245.9,800.2 244.7,803.4 243.6,806.3 239.3,833.2 234.7,885.1 230.2,940.1 225.6,995.1 221.5,1065.1 220.5,1097.0" fill="#ffe6ff"/>
<polygon points="216.0,1096.9 217.0,1064.8 221.1,994.8 225.7,939.7 230.2,884.7 234.8,832.7 239.2,805.5 240.4,802.1 241.6,798.9 242.7,795.7 243.9,792.4 245.0,789.0 246.2,785.7 247.4,782.3 248.5,779.0 249.7,775.7 250.8,772.5 252.0,769.3 253.2,766.1 254.3,763.1 255.5,760.1 256.6,757.2 257.5,754.3 258.3,751.4 259.2,748.7 260.0,746.0 260.9,743.4 261.8,740.8 262.6,738.3 263.5,735.9 264.3,733.5 265.2,731.2 266.1,729.0 266.9,726.8 267.8,724.6 268.7,722.5 269.6,720.4 270.4,718.4 271.4,716.5 272.4,714.6 273.4,712.7 274.4,710.9 275.4,709.1 276.4,707.3 277.3,705.5 278.3,703.8 279.3,702.1 280.3,700.5 281.3,698.9 282.3,697.2 283.3,695.7 284.2,694.1 285.2,692.5 286.2,691.0 287.2,689.5 288.2,688.0 289.2,686.6 290.2,685.1 291.2,683.7 292.2,682.3 293.2,680.9 294.2,679.5 295.2,678.1 296.2,676.8 297.2,675.5 298.2,674.1 299.2,672.8 300.2,671.5 301.1,670.3 302.1,669.0 303.1,667.8 304.1,666.6 305.1,665.5 306.1,664.3 307.1,663.2 308.1,662.1 309.1,661.1 310.1,660.0 311.1,659.0 312.1,658.1 313.1,657.1 314.2,656.2 315.2,655.3 316.2,654.4 317.2,653.6 318.2,652.7 319.2,651.9 320.2,651.1 321.2,650.3 322.2,649.6 323.2,648.9 324.2,648.1 325.2,647.4 326.2,646.7 327.2,646.1 328.3,645.4 329.3,644.8 330.3,644.1 331.3,643.5 332.3,642.9 333.3,642.3 334.3,641.7 335.3,641.2 336.4,640.6 337.4,640.1 338.4,639.5 339.4,639.0 340.4,638.4 341.4,637.9 342.5,637.4 343.5,636.8 344.5,636.3 345.5,635.8 346.5,635.3 347.6,634.8 348.6,634.3 349.6,633.8 350.6,633.3 351.6,632.8 352.7,632.3 353.7,631.8 354.7,631.3 355.7,630.8 356.7,630.3 357.8,629.8 358.8,629.4 359.8,628.9 360.8,628.4 361.9,628.0 362.9,627.5 363.9,627.0 365.0,626.6 366.0,626.1 367.0,625.7 368.0,625.2 369.1,624.8 370.1,624.3 371.1,623.9 372.1,623.4 373.1,622.9 374.1,622.5 375.1,622.0 376.2,621.5 377.2,621.0 378.2,620.6 379.2,620.1 380.2,619.6 381.2,619.1 382.2,618.6 383.2,618.1 384.2,617.6 385.1,617.2 386.1,616.7 387.1,616.2 388.1,615.7 389.1,615.2 390.1,614.7 391.1,614.2 392.1,613.7 393.1,613.2 394.1,612.8 395.1,612.3 396.1,611.8 397.0,611.3 397.9,610.9 400.9,609.4 403.9,608.0 406.9,606.6 409.8,605.2 412.8,603.8 415.8,602.5 418.8,601.1 421.9,599.9 425.0,598.6 428.0,597.4 431.1,596.3 434.2,595.1 437.3,594.0 440.4,592.9 443.5,591.7 446.5,590.6 449.6,589.5 452.7,588.4 455.7,587.2 458.8,586.1 461.8,584.9 464.8,583.7 467.9,582.5 470.9,581.4 473.9,580.2 477.0,579.0 480.0,577.9 483.0,576.7 486.0,575.5 489.1,574.3 492.1,573.2 495.1,572.0 498.1,570.8 501.2,569.7 504.2,568.5 507.2,567.4 510.2,566.2 513.2,565.1 516.3,564.0 519.3,562.8 522.3,561.7 525.3,560.6 528.3,559.4 531.4,558.3 534.4,557.2 537.4,556.1 540.4,554.9 543.4,553.8 546.5,552.7 549.5,551.6 552.5,550.5 555.5,549.4 558.5,548.3 561.6,547.2 564.6,546.1 567.6,545.0 570.6,543.9 573.6,542.8 576.7,541.7 579.7,540.7 582.7,539.6 585.7,538.5 588.8,537.4 591.8,536.3 594.8,535.2 597.8,534.0 600.8,532.9 603.9,531.7 606.9,530.4 609.9,529.1 612.9,527.7 616.0,526.2 619.0,524.8 622.0,523.5 625.0,522.2 628.0,521.0 631.0,519.9 634.0,518.9 637.0,517.9 640.0,516.8 643.0,515.8 646.0,514.8 649.0,513.9 652.0,512.9 655.0,511.9 658.0,510.9 661.0,510.0 664.0,509.0 667.0,508.1 670.0,507.1 673.0,506.2 676.0,505.3 679.0,504.3 682.0,503.4 685.0,502.5 688.0,501.6 691.0,500.6 694.0,499.7 697.0,498.8 700.0,497.9 703.0,497.0 706.0,496.0 709.0,495.1 712.0,494.2 715.0,493.2 718.0,492.3 721.0,491.4 724.0,490.4 727.0,489.5 730.0,488.5 733.0,487.6 736.0,486.7 739.0,485.7 742.0,484.8 745.0,483.8 748.0,482.9 751.0,482.0 754.0,481.0 757.0,480.1 760.0,479.2 763.0,478.2 766.0,477.3 769.0,476.4 772.0,475.4 775.0,474.5 778.0,473.6 781.0,472.7 784.0,471.7 787.0,470.8 790.0,469.8 793.0,468.9 796.0,467.9 799.0,467.0 802.0,466.0 805.0,465.1 808.0,464.1 811.0,463.2 814.0,462.2 817.0,461.3 820.0,460.3 823.0,459.4 826.0,458.5 829.0,457.5 832.0,456.6 835.0,455.7 838.0,454.7 841.0,453.8 844.0,452.9 847.0,452.0 850.0,451.1 853.0,450.2 856.0,449.3 859.0,448.4 862.0,447.5 865.0,446.6 868.0,445.7 871.0,444.8 874.0,443.9 877.0,443.0 880.0,442.2 883.0,441.3 886.0,440.4 889.0,439.5 892.0,438.6 895.0,437.8 898.0,436.9 901.0,436.0 904.0,435.2 907.0,434.3 910.0,433.4 913.0,432.6 916.0,431.7 919.0,430.9 922.0,430.0 925.0,429.2 928.0,428.3 931.0,427.5 934.0,426.6 937.0,425.8 940.0,425.0 943.0,424.1 946.0,423.3 949.0,422.5 952.0,421.7 955.0,420.9 958.0,420.1 961.0,419.2 964.0,418.4 967.0,417.6 970.0,416.9 973.0,416.1 976.0,415.3 979.0,414.5 982.0,413.7 985.0,412.9 988.0,412.2 991.0,411.4 994.0,410.7 997.0,409.9 1000.0,409.2 1003.0,408.4 1006.0,407.7 1009.0,406.9 1012.0,406.2 1015.0,405.5 1018.0,404.7 1021.0,404.0 1024.0,403.3 1027.0,402.6 1030.0,401.8 1033.0,401.1 1036.0,400.4 1039.0,399.7 1042.0,399.0 1045.0,398.3 1048.0,397.6 1051.0,396.9 1054.0,396.2 1057.0,395.5 1060.0,394.8 1063.0,394.1 1066.0,393.4 1069.0,392.8 1072.0,392.1 1075.0,391.4 1078.0,390.7 1081.0,390.0 1084.0,389.4 1087.0,388.7 1090.0,388.0 1093.0,387.3 1096.0,386.7 1099.0,386.0 1102.0,385.4 1105.0,384.7 1108.0,384.0 1111.0,383.4 1114.0,382.7 1117.0,382.1 1120.0,381.4 1123.0,380.7 1126.0,380.1 1129.0,379.4 1132.0,378.8 1135.0,378.1 1138.0,377.5 1141.0,376.8 1144.0,376.2 1147.0,375.5 1150.0,374.9 1153.0,374.3 1156.0,373.6 1159.0,373.0 1162.0,372.3 1165.0,371.7 1168.0,371.0 1171.0,370.4 1174.0,369.8 1177.0,369.1 1180.0,368.5 1183.0,367.9 1186.0,367.2 1189.0,366.6 1192.0,365.9 1195.0,365.3 1198.0,364.7 1201.0,364.0 1204.0,363.4 1207.0,362.8 1210.0,362.1 1213.0,361.5 1216.0,360.8 1219.0,360.2 1222.0,359.6 1225.0,358.9 1228.0,358.3 1231.0,357.6 1234.0,357.0 1237.0,356.3 1240.0,355.7 1243.0,355.1 1246.0,354.4 1249.0,353.8 1252.0,353.1 1255.0,352.5 1258.0,351.9 1261.0,351.2 1264.0,350.6 1267.0,349.9 1270.0,349.3 1273.0,348.7 1276.0,348.0 1279.0,347.4 1282.0,346.7 1285.0,346.1 1288.0,345.5 1291.0,344.8 1294.0,344.2 1297.0,343.6 1300.0,342.9 1303.0,342.3 1306.0,341.7 1309.0,341.0 1312.0,340.4 1315.0,339.8 1318.0,339.2 1321.0,338.5 1324.0,337.9 1327.0,337.3 1330.0,336.7 1333.0,336.1 1336.0,335.4 1339.0,334.8 1342.0,334.2 1345.0,333.6 1348.0,333.0 1351.0,332.4 1354.0,331.8 1357.0,331.2 1360.0,330.6 1363.0,330.0 1366.0,329.4 1369.0,328.8 1372.0,328.2 1375.0,327.6 1378.0,327.0 1381.0,326.4 1384.0,325.8 1387.0,325.3 1390.0,324.7 1393.0,324.1 1396.0,323.5 1399.0,323.0 1402.0,322.4 1405.0,321.8 1408.0,321.3 1411.0,320.7 1414.0,320.2 1417.0,319.6 1420.0,319.0 1423.0,318.5 1426.0,317.9 1429.0,317.4 1432.0,316.8 1435.0,316.3 1438.0,315.7 1441.0,315.2 1444.0,314.6 1447.0,314.1 1450.0,313.5 1453.0,313.0 1456.0,312.4 1459.0,311.9 1462.0,311.4 1465.0,310.8 1468.0,310.3 1471.0,309.7 1474.0,309.2 1477.0,308.7 1480.0,308.1 1483.0,307.6 1486.0,307.1 1489.0,306.5 1492.0,306.0 1495.0,305.5 1498.0,305.0 1501.0,304.4 1504.0,303.9 1507.0,303.4 1510.0,302.9 1513.0,302.4 1516.0,301.8 1519.0,301.3 1522.0,300.8 1525.0,300.3 1528.0,299.8 1531.0,299.3 1534.0,298.7 1537.0,298.2 1540.0,297.7 1543.0,297.2 1546.0,296.7 1549.0,296.2 1552.0,295.7 1555.0,295.2 1558.0,294.7 1561.0,294.2 1564.0,293.7 1567.0,293.2 1570.0,292.7 1573.0,292.2 1576.0,291.7 1579.0,291.2 1582.0,290.7 1585.0,290.2 1588.0,289.7 1591.0,289.2 1594.0,288.7 1597.0,288.3 1600.0,287.8 1603.0,287.3 1606.0,286.8 1609.0,286.3 1612.0,285.8 1615.0,285.3 1618.0,284.9 1621.0,284.4 1624.0,283.9 1627.0,283.4 1630.0,282.9 1633.0,282.5 1636.0,282.0 1639.0,281.5 1642.0,281.0 1645.0,280.6 1648.0,280.1 1651.0,279.6 1654.0,279.1 1657.0,278.7 1660.0,278.2 1663.0,277.7 1666.0,277.3 1669.0,276.8 1672.0,276.3 1675.0,275.9 1678.0,275.4 1681.0,274.9 1684.0,274.5 1687.0,274.0 1690.0,273.6 1693.0,273.1 1696.0,272.6 1699.0,272.2 1702.0,271.7 1705.0,271.3 1708.0,270.8 1711.0,270.4 1714.0,269.9 1717.0,269.5 1720.0,269.0 1723.0,268.6 1726.0,268.1 1729.0,267.7 1732.0,267.2 1735.0,266.8 1738.0,266.3 1741.0,265.9 1744.0,265.4 1747.0,265.0 1750.0,264.5 1753.0,264.1 1756.0,263.6 1759.0,263.2 1762.0,262.8 1765.0,262.3 1768.0,261.9 1771.0,261.5 1774.0,261.0 1777.0,260.6 1780.0,260.1 1783.0,259.7 1786.0,259.3 1789.0,258.9 1792.0,258.4 1795.0,258.0 1798.0,257.6 1801.0,257.1 1804.0,256.7 1807.0,256.3 1810.0,255.9 1813.0,255.4 1816.0,255.0 1819.0,254.6 1822.0,254.2 1825.0,253.7 1828.0,253.3 1831.0,252.9 1834.0,252.5 1837.0,252.1 1840.0,251.6 1843.0,251.2 1843.0,297.5 1840.0,297.9 1837.0,298.3 1834.0,298.7 1831.0,299.1 1828.0,299.5 1825.0,299.8 1822.0,300.2 1819.0,300.6 1816.0,301.0 1813.0,301.4 1810.0,301.8 1807.0,302.2 1804.0,302.6 1801.0,303.0 1798.0,303.4 1795.0,303.8 1792.0,304.1 1789.0,304.5 1786.0,304.9 1783.0,305.3 1780.0,305.7 1777.0,306.1 1774.0,306.5 1771.0,306.9 1768.0,307.3 1765.0,307.7 1762.0,308.1 1759.0,308.5 1756.0,308.9 1753.0,309.3 1750.0,309.7 1747.0,310.2 1744.0,310.6 1741.0,311.0 1738.0,311.4 1735.0,311.8 1732.0,312.2 1729.0,312.6 1726.0,313.0 1723.0,313.4 1720.0,313.8 1717.0,314.3 1714.0,314.7 1711.0,315.1 1708.0,315.5 1705.0,315.9 1702.0,316.3 1699.0,316.8 1696.0,317.2 1693.0,317.6 1690.0,318.0 1687.0,318.4 1684.0,318.9 1681.0,319.3 1678.0,319.7 1675.0,320.1 1672.0,320.6 1669.0,321.0 1666.0,321.4 1663.0,321.8 1660.0,322.3 1657.0,322.7 1654.0,323.1 1651.0,323.6 1648.0,324.0 1645.0,324.4 1642.0,324.9 1639.0,325.3 1636.0,325.7 1633.0,326.2 1630.0,326.6 1627.0,327.1 1624.0,327.5 1621.0,327.9 1618.0,328.4 1615.0,328.8 1612.0,329.3 1609.0,329.7 1606.0,330.2 1603.0,330.6 1600.0,331.1 1597.0,331.5 1594.0,332.0 1591.0,332.4 1588.0,332.9 1585.0,333.3 1582.0,333.8 1579.0,334.2 1576.0,334.7 1573.0,335.2 1570.0,335.6 1567.0,336.1 1564.0,336.5 1561.0,337.0 1558.0,337.5 1555.0,337.9 1552.0,338.4 1549.0,338.8 1546.0,339.3 1543.0,339.8 1540.0,340.2 1537.0,340.7 1534.0,341.2 1531.0,341.6 1528.0,342.1 1525.0,342.6 1522.0,343.0 1519.0,343.5 1516.0,344.0 1513.0,344.5 1510.0,344.9 1507.0,345.4 1504.0,345.9 1501.0,346.4 1498.0,346.8 1495.0,347.3 1492.0,347.8 1489.0,348.3 1486.0,348.8 1483.0,349.3 1480.0,349.7 1477.0,350.2 1474.0,350.7 1471.0,351.2 1468.0,351.7 1465.0,352.2 1462.0,352.7 1459.0,353.1 1456.0,353.6 1453.0,354.1 1450.0,354.6 1447.0,355.1 1444.0,355.6 1441.0,356.1 1438.0,356.6 1435.0,357.1 1432.0,357.6 1429.0,358.1 1426.0,358.6 1423.0,359.1 1420.0,359.6 1417.0,360.1 1414.0,360.6 1411.0,361.1 1408.0,361.6 1405.0,362.1 1402.0,362.6 1399.0,363.2 1396.0,363.7 1393.0,364.2 1390.0,364.7 1387.0,365.2 1384.0,365.7 1381.0,366.2 1378.0,366.8 1375.0,367.3 1372.0,367.8 1369.0,368.3 1366.0,368.8 1363.0,369.4 1360.0,369.9 1357.0,370.4 1354.0,370.9 1351.0,371.5 1348.0,372.0 1345.0,372.5 1342.0,373.0 1339.0,373.6 1336.0,374.1 1333.0,374.6 1330.0,375.2 1327.0,375.7 1324.0,376.2 1321.0,376.8 1318.0,377.3 1315.0,377.9 1312.0,378.4 1309.0,378.9 1306.0,379.5 1303.0,380.0 1300.0,380.6 1297.0,381.1 1294.0,381.7 1291.0,382.2 1288.0,382.8 1285.0,383.3 1282.0,383.9 1279.0,384.4 1276.0,385.0 1273.0,385.5 1270.0,386.1 1267.0,386.6 1264.0,387.2 1261.0,387.8 1258.0,388.3 1255.0,388.9 1252.0,389.5 1249.0,390.0 1246.0,390.6 1243.0,391.2 1240.0,391.7 1237.0,392.3 1234.0,392.9 1231.0,393.4 1228.0,394.0 1225.0,394.6 1222.0,395.2 1219.0,395.7 1216.0,396.3 1213.0,396.9 1210.0,397.5 1207.0,398.1 1204.0,398.7 1201.0,399.2 1198.0,399.8 1195.0,400.4 1192.0,401.0 1189.0,401.6 1186.0,402.1 1183.0,402.7 1180.0,403.3 1177.0,403.8 1174.0,404.4 1171.0,405.0 1168.0,405.5 1165.0,406.1 1162.0,406.6 1159.0,407.2 1156.0,407.7 1153.0,408.2 1150.0,408.8 1147.0,409.3 1144.0,409.9 1141.0,410.4 1138.0,411.0 1135.0,411.5 1132.0,412.0 1129.0,412.6 1126.0,413.1 1123.0,413.6 1120.0,414.2 1117.0,414.7 1114.0,415.3 1111.0,415.8 1108.0,416.3 1105.0,416.9 1102.0,417.4 1099.0,418.0 1096.0,418.5 1093.0,419.1 1090.0,419.6 1087.0,420.2 1084.0,420.7 1081.0,421.3 1078.0,421.8 1075.0,422.4 1072.0,423.0 1069.0,423.5 1066.0,424.1 1063.0,424.7 1060.0,425.3 1057.0,425.8 1054.0,426.4 1051.0,427.0 1048.0,427.6 1045.0,428.2 1042.0,428.8 1039.0,429.4 1036.0,430.0 1033.0,430.7 1030.0,431.3 1027.0,431.9 1024.0,432.5 1021.0,433.2 1018.0,433.8 1015.0,434.5 1012.0,435.1 1009.0,435.8 1006.0,436.5 1003.0,437.2 1000.0,437.9 997.0,438.5 994.0,439.2 991.0,439.9 988.0,440.6 985.0,441.3 982.0,442.0 979.0,442.7 976.0,443.4 973.0,444.1 970.0,444.8 967.0,445.6 964.0,446.3 961.0,447.0 958.0,447.7 955.0,448.4 952.0,449.1 949.0,449.9 946.0,450.6 943.0,451.3 940.0,452.0 937.0,452.8 934.0,453.5 931.0,454.2 928.0,455.0 925.0,455.7 922.0,456.4 919.0,457.2 916.0,457.9 913.0,458.7 910.0,459.4 907.0,460.2 904.0,460.9 901.0,461.7 898.0,462.4 895.0,463.2 892.0,463.9 889.0,464.7 886.0,465.5 883.0,466.2 880.0,467.0 877.0,467.8 874.0,468.5 871.0,469.3 868.0,470.1 865.0,470.9 862.0,471.7 859.0,472.4 856.0,473.2 853.0,474.0 850.0,474.8 847.0,475.6 844.0,476.4 841.0,477.2 838.0,478.0 835.0,478.8 832.0,479.6 829.0,480.4 826.0,481.2 823.0,482.0 820.0,482.8 817.0,483.6 814.0,484.4 811.0,485.2 808.0,486.0 805.0,486.8 802.0,487.6 799.0,488.4 796.0,489.2 793.0,490.0 790.0,490.8 787.0,491.6 784.0,492.4 781.0,493.3 778.0,494.1 775.0,494.9 772.0,495.7 769.0,496.5 766.0,497.3 763.0,498.1 760.0,498.8 757.0,499.5 754.0,500.2 751.0,500.9 748.0,501.6 745.0,502.2 742.0,502.9 739.0,503.5 736.0,504.1 733.0,504.8 730.0,505.4 727.0,506.1 724.0,506.7 721.0,507.4 718.0,508.1 715.0,508.9 712.0,509.6 709.0,510.4 706.0,511.2 703.0,512.1 700.0,513.0 697.0,513.9 694.0,514.8 691.0,515.7 688.0,516.7 685.0,517.6 682.0,518.5 679.0,519.5 676.0,520.4 673.0,521.4 670.0,522.3 667.0,523.3 664.0,524.2 661.0,525.2 658.0,526.1 655.0,527.1 652.0,528.1 649.0,529.0 646.0,530.0 643.0,531.0 640.0,531.9 637.0,532.9 634.0,533.9 631.0,534.9 628.0,535.9 625.0,536.9 622.0,537.9 619.0,538.9 616.0,539.9 613.1,540.8 610.1,541.8 607.1,542.8 604.2,543.8 601.2,544.8 598.2,545.9 595.2,546.9 592.3,547.9 589.3,548.9 586.3,549.9 583.4,550.9 580.4,552.0 577.4,553.0 574.5,554.0 571.5,555.0 568.5,556.1 565.6,557.1 562.6,558.2 559.6,559.2 556.7,560.2 553.7,561.3 550.7,562.3 547.7,563.3 544.8,564.3 541.8,565.3 538.8,566.4 535.8,567.4 532.9,568.4 529.9,569.4 526.9,570.4 523.9,571.4 520.9,572.4 518.0,573.4 515.0,574.4 512.0,575.5 509.0,576.5 506.0,577.6 503.0,578.6 500.0,579.7 497.1,580.7 494.1,581.8 491.1,582.9 488.1,584.0 485.1,585.2 482.2,586.3 479.2,587.5 476.2,588.6 473.3,589.8 470.3,591.0 467.3,592.1 464.4,593.3 461.4,594.5 458.4,595.7 455.5,597.0 452.6,598.3 449.7,599.7 446.8,601.2 443.9,602.6 441.0,604.1 438.2,605.6 435.3,607.1 432.5,608.6 429.6,610.1 426.8,611.5 423.9,612.9 420.9,614.3 418.0,615.7 415.0,617.0 412.1,618.4 409.1,619.8 406.1,621.1 403.2,622.5 402.3,622.9 401.3,623.4 400.3,623.8 399.3,624.3 398.3,624.7 397.3,625.2 396.4,625.7 395.4,626.2 394.4,626.6 393.4,627.1 392.4,627.6 391.4,628.0 390.4,628.5 389.5,629.0 388.5,629.5 387.5,630.0 386.5,630.5 385.5,631.0 384.5,631.5 383.6,631.9 382.6,632.4 381.6,633.0 380.6,633.5 379.7,634.0 378.7,634.6 377.8,635.1 376.8,635.7 375.9,636.2 374.9,636.8 374.0,637.4 373.0,638.0 372.1,638.6 371.2,639.2 370.2,639.8 369.3,640.4 368.4,640.9 367.4,641.5 366.5,642.1 365.5,642.7 364.6,643.3 363.6,643.9 362.7,644.4 361.7,645.0 360.8,645.5 359.8,646.1 358.8,646.6 357.8,647.1 356.9,647.7 355.9,648.2 354.9,648.7 353.9,649.3 353.0,649.8 352.0,650.4 351.0,650.9 350.0,651.4 349.1,652.0 348.1,652.5 347.1,653.1 346.1,653.6 345.2,654.2 344.2,654.7 343.2,655.2 342.2,655.8 341.2,656.3 340.3,656.8 339.3,657.4 338.3,657.9 337.3,658.4 336.4,658.9 335.4,659.4 334.4,660.0 333.4,660.5 332.5,661.0 331.5,661.5 330.5,662.0 329.5,662.6 328.5,663.1 327.5,663.6 326.6,664.2 325.6,664.7 324.6,665.3 323.6,665.9 322.6,666.5 321.6,667.1 320.5,667.8 319.5,668.4 318.5,669.1 317.4,669.8 316.4,670.5 315.3,671.3 314.2,672.1 313.1,673.0 312.0,673.8 310.9,674.8 309.8,675.7 308.7,676.7 307.6,677.7 306.5,678.8 305.4,679.8 304.2,680.9 303.2,682.2 302.2,683.4 301.2,684.7 300.2,686.0 299.2,687.4 298.2,688.7 297.2,690.1 296.2,691.4 295.2,692.8 294.1,694.3 293.1,695.7 292.0,697.1 291.0,698.5 289.9,700.0 288.9,701.5 287.8,703.0 286.8,704.5 285.7,706.1 284.7,707.6 283.6,709.3 282.6,710.9 281.5,712.6 280.4,714.3 279.4,716.0 278.3,717.8 277.3,719.6 276.2,721.4 275.2,723.3 274.2,725.3 273.2,727.3 272.3,729.3 271.3,731.4 270.3,733.6 269.3,735.7 268.3,738.0 267.3,740.3 266.3,742.7 265.4,745.1 264.4,747.6 263.4,750.2 262.4,752.9 261.4,755.7 260.4,758.5 259.3,761.4 258.1,764.3 257.0,767.4 255.8,770.5 254.7,773.6 253.5,776.8 252.4,780.1 251.2,783.4 250.0,786.8 248.9,790.1 247.7,793.5 246.6,796.8 245.4,800.1 244.2,803.3 243.1,806.2 238.8,833.1 234.2,885.1 229.7,940.1 225.1,995.0 221.0,1065.0 220.0,1097.0" fill="#ffe6e6"/>
<polygon points="219.5,1097.0 220.5,1065.0 224.5,995.0 229.0,940.0 233.4,885.0 237.9,833.0 242.1,806.0 243.1,802.9 244.1,799.7 245.1,796.4 246.1,793.0 247.1,789.6 248.1,786.2 249.1,782.8 250.1,779.5 251.1,776.1 252.1,772.8 253.1,769.6 254.1,766.4 255.1,763.3 256.1,760.3 257.1,757.4 258.0,754.4 258.9,751.6 259.7,748.9 260.6,746.2 261.5,743.6 262.4,741.1 263.3,738.6 264.2,736.2 265.1,733.9 266.0,731.6 266.8,729.3 267.7,727.2 268.6,725.0 269.5,722.9 270.4,720.9 271.3,718.9 272.3,716.9 273.3,715.0 274.3,713.2 275.2,711.3 276.2,709.5 277.2,707.8 278.2,706.0 279.1,704.3 280.1,702.6 281.1,701.0 282.1,699.3 283.1,697.7 284.0,696.2 285.0,694.6 286.0,693.0 287.0,691.5 288.0,690.0 288.9,688.5 289.9,687.1 290.9,685.6 291.9,684.2 292.9,682.8 293.9,681.4 294.9,680.0 295.9,678.7 296.9,677.3 297.9,676.0 298.9,674.7 299.9,673.4 300.9,672.2 301.9,670.9 302.9,669.7 303.9,668.5 304.9,667.3 305.9,666.2 306.9,665.1 307.9,664.0 308.9,662.9 309.9,661.9 310.9,660.8 311.9,659.9 312.9,658.9 313.9,658.0 314.9,657.1 315.9,656.2 316.9,655.4 317.9,654.6 319.0,653.8 320.0,653.0 321.0,652.3 322.0,651.5 323.0,650.8 324.0,650.1 325.1,649.4 326.1,648.8 327.1,648.1 328.1,647.5 329.1,646.8 330.1,646.2 331.1,645.6 332.2,645.0 333.2,644.4 334.2,643.8 335.2,643.3 336.2,642.7 337.2,642.1 338.2,641.6 339.2,641.0 340.2,640.5 341.2,639.9 342.3,639.4 343.3,638.9 344.3,638.3 345.3,637.8 346.3,637.3 347.3,636.7 348.3,636.2 349.3,635.7 350.3,635.2 351.3,634.6 352.3,634.1 353.3,633.6 354.4,633.1 355.4,632.6 356.4,632.0 357.4,631.5 358.4,631.0 359.4,630.5 360.4,630.0 361.4,629.5 362.4,629.0 363.4,628.4 364.4,627.9 365.4,627.4 366.4,626.9 367.4,626.4 368.4,625.9 369.4,625.4 370.4,624.9 371.4,624.4 372.4,624.0 373.4,623.5 374.4,623.0 375.4,622.5 376.4,622.0 377.4,621.5 378.4,621.0 379.4,620.6 380.4,620.1 381.4,619.6 382.4,619.1 383.4,618.7 384.4,618.2 385.4,617.7 386.4,617.3 387.4,616.8 388.4,616.3 389.4,615.9 390.4,615.4 391.4,615.0 392.4,614.5 393.5,614.1 394.5,613.6 395.5,613.1 396.5,612.7 397.5,612.2 398.4,611.8 401.4,610.5 404.4,609.2 407.4,607.8 410.4,606.5 413.4,605.2 416.4,603.9 419.4,602.6 422.5,601.3 425.5,600.0 428.5,598.7 431.5,597.4 434.6,596.1 437.6,594.8 440.6,593.5 443.6,592.3 446.7,591.0 449.7,589.7 452.7,588.5 455.7,587.3 458.8,586.0 461.8,584.8 464.8,583.7 467.9,582.5 470.9,581.3 473.9,580.2 477.0,579.0 480.0,577.9 483.0,576.7 486.1,575.6 489.1,574.4 492.1,573.3 495.2,572.2 498.2,571.1 501.2,570.0 504.2,568.9 507.3,567.8 510.3,566.7 513.3,565.6 516.4,564.5 519.4,563.4 522.4,562.3 525.4,561.3 528.5,560.2 531.5,559.1 534.5,558.1 537.5,557.0 540.5,555.9 543.6,554.9 546.6,553.8 549.6,552.7 552.6,551.7 555.6,550.6 558.7,549.5 561.7,548.5 564.7,547.4 567.7,546.3 570.7,545.2 573.7,544.1 576.8,543.0 579.8,541.9 582.8,540.8 585.8,539.7 588.8,538.6 591.8,537.5 594.8,536.4 597.9,535.3 600.9,534.2 603.9,533.2 606.9,532.1 609.9,531.1 613.0,530.0 616.0,529.0 619.0,527.9 622.0,526.9 625.0,525.9 628.0,524.9 631.0,523.9 634.0,522.9 637.0,522.0 640.0,521.0 643.0,520.1 646.0,519.1 649.0,518.2 652.0,517.2 655.0,516.3 658.0,515.3 661.0,514.4 664.0,513.4 667.0,512.5 670.0,511.5 673.0,510.5 676.0,509.6 679.0,508.6 682.0,507.7 685.0,506.8 688.0,505.8 691.0,504.9 694.0,503.9 697.0,503.0 700.0,502.1 703.0,501.2 706.0,500.2 709.0,499.3 712.0,498.4 715.0,497.5 718.0,496.6 721.0,495.7 724.0,494.8 727.0,493.9 730.0,493.0 733.0,492.1 736.0,491.2 739.0,490.3 742.0,489.4 745.0,488.5 748.0,487.6 751.0,486.8 754.0,485.9 757.0,485.0 760.0,484.1 763.0,483.3 766.0,482.4 769.0,481.5 772.0,480.7 775.0,479.8 778.0,479.0 781.0,478.1 784.0,477.3 787.0,476.5 790.0,475.6 793.0,474.8 796.0,474.0 799.0,473.2 802.0,472.3 805.0,471.5 808.0,470.7 811.0,469.9 814.0,469.1 817.0,468.3 820.0,467.5 823.0,466.7 826.0,465.9 829.0,465.1 832.0,464.3 835.0,463.5 838.0,462.7 841.0,461.9 844.0,461.1 847.0,460.3 850.0,459.5 853.0,458.7 856.0,457.9 859.0,457.1 862.0,456.4 865.0,455.6 868.0,454.8 871.0,454.0 874.0,453.2 877.0,452.5 880.0,451.7 883.0,450.9 886.0,450.2 889.0,449.4 892.0,448.6 895.0,447.9 898.0,447.1 901.0,446.4 904.0,445.6 907.0,444.9 910.0,444.1 913.0,443.4 916.0,442.6 919.0,441.9 922.0,441.1 925.0,440.4 928.0,439.7 931.0,438.9 934.0,438.2 937.0,437.5 940.0,436.7 943.0,436.0 946.0,435.3 949.0,434.6 952.0,433.8 955.0,433.1 958.0,432.4 961.0,431.7 964.0,431.0 967.0,430.3 970.0,429.5 973.0,428.8 976.0,428.1 979.0,427.4 982.0,426.7 985.0,426.0 988.0,425.3 991.0,424.6 994.0,423.9 997.0,423.2 1000.0,422.6 1003.0,421.9 1006.0,421.2 1009.0,420.5 1012.0,419.8 1015.0,419.1 1018.0,418.4 1021.0,417.8 1024.0,417.1 1027.0,416.4 1030.0,415.7 1033.0,415.1 1036.0,414.4 1039.0,413.7 1042.0,413.0 1045.0,412.4 1048.0,411.7 1051.0,411.0 1054.0,410.4 1057.0,409.7 1060.0,409.1 1063.0,408.4 1066.0,407.7 1069.0,407.1 1072.0,406.4 1075.0,405.8 1078.0,405.1 1081.0,404.5 1084.0,403.8 1087.0,403.2 1090.0,402.5 1093.0,401.9 1096.0,401.2 1099.0,400.6 1102.0,399.9 1105.0,399.3 1108.0,398.7 1111.0,398.0 1114.0,397.4 1117.0,396.8 1120.0,396.1 1123.0,395.5 1126.0,394.9 1129.0,394.2 1132.0,393.6 1135.0,393.0 1138.0,392.4 1141.0,391.7 1144.0,391.1 1147.0,390.5 1150.0,389.9 1153.0,389.3 1156.0,388.6 1159.0,388.0 1162.0,387.4 1165.0,386.8 1168.0,386.2 1171.0,385.6 1174.0,385.0 1177.0,384.4 1180.0,383.8 1183.0,383.1 1186.0,382.5 1189.0,381.9 1192.0,381.3 1195.0,380.7 1198.0,380.1 1201.0,379.5 1204.0,378.9 1207.0,378.3 1210.0,377.8 1213.0,377.2 1216.0,376.6 1219.0,376.0 1222.0,375.4 1225.0,374.8 1228.0,374.2 1231.0,373.6 1234.0,373.0 1237.0,372.4 1240.0,371.8 1243.0,371.2 1246.0,370.6 1249.0,370.0 1252.0,369.4 1255.0,368.8 1258.0,368.2 1261.0,367.7 1264.0,367.1 1267.0,366.5 1270.0,365.9 1273.0,365.3 1276.0,364.7 1279.0,364.1 1282.0,363.5 1285.0,363.0 1288.0,362.4 1291.0,361.8 1294.0,361.2 1297.0,360.6 1300.0,360.0 1303.0,359.5 1306.0,358.9 1309.0,358.3 1312.0,357.7 1315.0,357.1 1318.0,356.6 1321.0,356.0 1324.0,355.4 1327.0,354.9 1330.0,354.3 1333.0,353.7 1336.0,353.1 1339.0,352.6 1342.0,352.0 1345.0,351.4 1348.0,350.9 1351.0,350.3 1354.0,349.7 1357.0,349.2 1360.0,348.6 1363.0,348.1 1366.0,347.5 1369.0,347.0 1372.0,346.4 1375.0,345.8 1378.0,345.3 1381.0,344.7 1384.0,344.2 1387.0,343.6 1390.0,343.1 1393.0,342.6 1396.0,342.0 1399.0,341.5 1402.0,340.9 1405.0,340.4 1408.0,339.8 1411.0,339.3 1414.0,338.8 1417.0,338.2 1420.0,337.7 1423.0,337.1 1426.0,336.6 1429.0,336.1 1432.0,335.5 1435.0,335.0 1438.0,334.5 1441.0,333.9 1444.0,333.4 1447.0,332.9 1450.0,332.3 1453.0,331.8 1456.0,331.3 1459.0,330.7 1462.0,330.2 1465.0,329.7 1468.0,329.1 1471.0,328.6 1474.0,328.1 1477.0,327.5 1480.0,327.0 1483.0,326.5 1486.0,326.0 1489.0,325.4 1492.0,324.9 1495.0,324.4 1498.0,323.9 1501.0,323.4 1504.0,322.9 1507.0,322.3 1510.0,321.8 1513.0,321.3 1516.0,320.8 1519.0,320.3 1522.0,319.8 1525.0,319.3 1528.0,318.8 1531.0,318.3 1534.0,317.8 1537.0,317.3 1540.0,316.8 1543.0,316.3 1546.0,315.8 1549.0,315.3 1552.0,314.8 1555.0,314.3 1558.0,313.8 1561.0,313.4 1564.0,312.9 1567.0,312.4 1570.0,311.9 1573.0,311.4 1576.0,311.0 1579.0,310.5 1582.0,310.0 1585.0,309.6 1588.0,309.1 1591.0,308.6 1594.0,308.2 1597.0,307.7 1600.0,307.3 1603.0,306.8 1606.0,306.4 1609.0,305.9 1612.0,305.5 1615.0,305.0 1618.0,304.6 1621.0,304.1 1624.0,303.7 1627.0,303.2 1630.0,302.8 1633.0,302.3 1636.0,301.9 1639.0,301.5 1642.0,301.0 1645.0,300.6 1648.0,300.1 1651.0,299.7 1654.0,299.3 1657.0,298.8 1660.0,298.4 1663.0,298.0 1666.0,297.5 1669.0,297.1 1672.0,296.6 1675.0,296.2 1678.0,295.8 1681.0,295.4 1684.0,294.9 1687.0,294.5 1690.0,294.1 1693.0,293.6 1696.0,293.2 1699.0,292.8 1702.0,292.4 1705.0,291.9 1708.0,291.5 1711.0,291.1 1714.0,290.7 1717.0,290.2 1720.0,289.8 1723.0,289.4 1726.0,289.0 1729.0,288.6 1732.0,288.1 1735.0,287.7 1738.0,287.3 1741.0,286.9 1744.0,286.5 1747.0,286.1 1750.0,285.6 1753.0,285.2 1756.0,284.8 1759.0,284.4 1762.0,284.0 1765.0,283.6 1768.0,283.2 1771.0,282.8 1774.0,282.3 1777.0,281.9 1780.0,281.5 1783.0,281.1 1786.0,280.7 1789.0,280.3 1792.0,279.9 1795.0,279.5 1798.0,279.1 1801.0,278.7 1804.0,278.3 1807.0,277.9 1810.0,277.5 1813.0,277.1 1816.0,276.7 1819.0,276.3 1822.0,275.9 1825.0,275.5 1828.0,275.1 1831.0,274.7 1834.0,274.3 1837.0,273.9 1840.0,273.5 1843.0,273.1 1843.0,295.0 1840.0,295.4 1837.0,295.8 1834.0,296.2 1831.0,296.6 1828.0,297.0 1825.0,297.4 1822.0,297.8 1819.0,298.2 1816.0,298.6 1813.0,299.0 1810.0,299.4 1807.0,299.8 1804.0,300.2 1801.0,300.6 1798.0,301.0 1795.0,301.4 1792.0,301.8 1789.0,302.2 1786.0,302.6 1783.0,303.0 1780.0,303.4 1777.0,303.8 1774.0,304.2 1771.0,304.6 1768.0,305.1 1765.0,305.5 1762.0,305.9 1759.0,306.3 1756.0,306.7 1753.0,307.1 1750.0,307.5 1747.0,307.9 1744.0,308.4 1741.0,308.8 1738.0,309.2 1735.0,309.6 1732.0,310.0 1729.0,310.4 1726.0,310.8 1723.0,311.3 1720.0,311.7 1717.0,312.1 1714.0,312.5 1711.0,313.0 1708.0,313.4 1705.0,313.8 1702.0,314.2 1699.0,314.6 1696.0,315.1 1693.0,315.5 1690.0,315.9 1687.0,316.4 1684.0,316.8 1681.0,317.2 1678.0,317.6 1675.0,318.1 1672.0,318.5 1669.0,318.9 1666.0,319.4 1663.0,319.8 1660.0,320.2 1657.0,320.7 1654.0,321.1 1651.0,321.5 1648.0,322.0 1645.0,322.4 1642.0,322.9 1639.0,323.3 1636.0,323.7 1633.0,324.2 1630.0,324.6 1627.0,325.1 1624.0,325.5 1621.0,325.9 1618.0,326.4 1615.0,326.8 1612.0,327.3 1609.0,327.7 1606.0,328.2 1603.0,328.6 1600.0,329.1 1597.0,329.5 1594.0,330.0 1591.0,330.4 1588.0,330.9 1585.0,331.3 1582.0,331.8 1579.0,332.2 1576.0,332.7 1573.0,333.2 1570.0,333.6 1567.0,334.1 1564.0,334.5 1561.0,335.0 1558.0,335.5 1555.0,335.9 1552.0,336.4 1549.0,336.8 1546.0,337.3 1543.0,337.8 1540.0,338.2 1537.0,338.7 1534.0,339.2 1531.0,339.6 1528.0,340.1 1525.0,340.6 1522.0,341.0 1519.0,341.5 1516.0,342.0 1513.0,342.5 1510.0,342.9 1507.0,343.4 1504.0,343.9 1501.0,344.4 1498.0,344.8 1495.0,345.3 1492.0,345.8 1489.0,346.3 1486.0,346.8 1483.0,347.3 1480.0,347.7 1477.0,348.2 1474.0,348.7 1471.0,349.2 1468.0,349.7 1465.0,350.2 1462.0,350.7 1459.0,351.1 1456.0,351.6 1453.0,352.1 1450.0,352.6 1447.0,353.1 1444.0,353.6 1441.0,354.1 1438.0,354.6 1435.0,355.1 1432.0,355.6 1429.0,356.1 1426.0,356.6 1423.0,357.1 1420.0,357.6 1417.0,358.1 1414.0,358.6 1411.0,359.1 1408.0,359.6 1405.0,360.1 1402.0,360.6 1399.0,361.2 1396.0,361.7 1393.0,362.2 1390.0,362.7 1387.0,363.2 1384.0,363.7 1381.0,364.2 1378.0,364.8 1375.0,365.3 1372.0,365.8 1369.0,366.3 1366.0,366.8 1363.0,367.3 1360.0,367.9 1357.0,368.4 1354.0,368.9 1351.0,369.4 1348.0,370.0 1345.0,370.5 1342.0,371.0 1339.0,371.6 1336.0,372.1 1333.0,372.6 1330.0,373.2 1327.0,373.7 1324.0,374.2 1321.0,374.8 1318.0,375.3 1315.0,375.8 1312.0,376.4 1309.0,376.9 1306.0,377.5 1303.0,378.0 1300.0,378.5 1297.0,379.1 1294.0,379.6 1291.0,380.2 1288.0,380.7 1285.0,381.3 1282.0,381.8 1279.0,382.4 1276.0,382.9 1273.0,383.5 1270.0,384.0 1267.0,384.6 1264.0,385.2 1261.0,385.7 1258.0,386.3 1255.0,386.8 1252.0,387.4 1249.0,388.0 1246.0,388.5 1243.0,389.1 1240.0,389.7 1237.0,390.2 1234.0,390.8 1231.0,391.4 1228.0,391.9 1225.0,392.5 1222.0,393.1 1219.0,393.7 1216.0,394.2 1213.0,394.8 1210.0,395.4 1207.0,396.0 1204.0,396.6 1201.0,397.1 1198.0,397.7 1195.0,398.3 1192.0,398.9 1189.0,399.5 1186.0,400.0 1183.0,400.6 1180.0,401.2 1177.0,401.7 1174.0,402.3 1171.0,402.8 1168.0,403.4 1165.0,403.9 1162.0,404.5 1159.0,405.0 1156.0,405.6 1153.0,406.1 1150.0,406.6 1147.0,407.2 1144.0,407.7 1141.0,408.3 1138.0,408.8 1135.0,409.3 1132.0,409.9 1129.0,410.4 1126.0,410.9 1123.0,411.5 1120.0,412.0 1117.0,412.6 1114.0,413.1 1111.0,413.6 1108.0,414.2 1105.0,414.7 1102.0,415.3 1099.0,415.8 1096.0,416.3 1093.0,416.9 1090.0,417.4 1087.0,418.0 1084.0,418.5 1081.0,419.1 1078.0,419.7 1075.0,420.2 1072.0,420.8 1069.0,421.3 1066.0,421.9 1063.0,422.5 1060.0,423.1 1057.0,423.7 1054.0,424.2 1051.0,424.8 1048.0,425.4 1045.0,426.0 1042.0,426.6 1039.0,427.2 1036.0,427.8 1033.0,428.5 1030.0,429.1 1027.0,429.7 1024.0,430.3 1021.0,431.0 1018.0,431.6 1015.0,432.3 1012.0,432.9 1009.0,433.6 1006.0,434.3 1003.0,435.0 1000.0,435.7 997.0,436.3 994.0,437.0 991.0,437.7 988.0,438.4 985.0,439.1 982.0,439.8 979.0,440.5 976.0,441.2 973.0,442.0 970.0,442.7 967.0,443.4 964.0,444.1 961.0,444.8 958.0,445.5 955.0,446.3 952.0,447.0 949.0,447.7 946.0,448.4 943.0,449.2 940.0,449.9 937.0,450.6 934.0,451.4 931.0,452.1 928.0,452.9 925.0,453.6 922.0,454.3 919.0,455.1 916.0,455.8 913.0,456.6 910.0,457.3 907.0,458.1 904.0,458.9 901.0,459.6 898.0,460.4 895.0,461.1 892.0,461.9 889.0,462.7 886.0,463.4 883.0,464.2 880.0,465.0 877.0,465.8 874.0,466.5 871.0,467.3 868.0,468.1 865.0,468.9 862.0,469.7 859.0,470.4 856.0,471.2 853.0,472.0 850.0,472.8 847.0,473.6 844.0,474.4 841.0,475.2 838.0,476.0 835.0,476.8 832.0,477.6 829.0,478.4 826.0,479.2 823.0,480.0 820.0,480.8 817.0,481.6 814.0,482.4 811.0,483.2 808.0,484.0 805.0,484.8 802.0,485.6 799.0,486.4 796.0,487.2 793.0,488.0 790.0,488.8 787.0,489.6 784.0,490.4 781.0,491.3 778.0,492.1 775.0,492.9 772.0,493.7 769.0,494.5 766.0,495.3 763.0,496.1 760.0,496.8 757.0,497.5 754.0,498.2 751.0,498.9 748.0,499.6 745.0,500.2 742.0,500.9 739.0,501.5 736.0,502.1 733.0,502.8 730.0,503.4 727.0,504.1 724.0,504.7 721.0,505.4 718.0,506.1 715.0,506.9 712.0,507.6 709.0,508.4 706.0,509.2 703.0,510.1 700.0,511.0 697.0,511.9 694.0,512.8 691.0,513.7 688.0,514.7 685.0,515.6 682.0,516.5 679.0,517.5 676.0,518.4 673.0,519.4 670.0,520.3 667.0,521.3 664.0,522.2 661.0,523.2 658.0,524.1 655.0,525.1 652.0,526.0 649.0,527.0 646.0,528.0 643.0,528.9 640.0,529.9 637.0,530.8 634.0,531.8 631.0,532.8 628.0,533.8 625.0,534.8 622.0,535.8 619.0,536.8 616.0,537.8 613.0,538.8 610.1,539.8 607.1,540.8 604.1,541.8 601.1,542.8 598.1,543.8 595.2,544.8 592.2,545.8 589.2,546.8 586.2,547.9 583.3,548.9 580.3,549.9 577.3,551.0 574.3,552.0 571.3,553.1 568.4,554.1 565.4,555.2 562.4,556.2 559.4,557.3 556.5,558.3 553.5,559.4 550.5,560.5 547.5,561.6 544.6,562.6 541.6,563.7 538.6,564.8 535.6,565.9 532.7,567.0 529.7,568.1 526.7,569.2 523.7,570.3 520.8,571.4 517.8,572.5 514.8,573.6 511.8,574.8 508.9,575.9 505.9,577.0 502.9,578.1 500.0,579.3 497.0,580.4 494.0,581.5 491.0,582.7 488.1,583.8 485.1,585.0 482.1,586.1 479.2,587.3 476.2,588.4 473.2,589.5 470.2,590.5 467.2,591.6 464.2,592.7 461.2,593.9 458.2,595.1 455.2,596.3 452.3,597.5 449.3,598.7 446.3,599.9 443.4,601.2 440.4,602.4 437.4,603.7 434.5,604.9 431.5,606.2 428.5,607.4 425.6,608.7 422.6,610.0 419.6,611.3 416.7,612.6 413.7,613.9 410.7,615.3 407.7,616.6 404.7,618.0 401.7,619.3 400.9,619.7 399.9,620.2 398.9,620.7 397.9,621.1 396.9,621.6 395.9,622.0 394.9,622.5 393.9,623.0 392.9,623.4 391.9,623.9 390.9,624.4 389.9,624.9 389.0,625.3 388.0,625.8 387.0,626.3 386.0,626.8 385.0,627.2 384.0,627.7 383.0,628.2 382.0,628.7 381.0,629.2 380.1,629.7 379.1,630.2 378.1,630.7 377.1,631.2 376.2,631.8 375.2,632.3 374.2,632.9 373.3,633.4 372.3,634.0 371.4,634.6 370.4,635.1 369.5,635.7 368.5,636.3 367.6,636.9 366.6,637.4 365.7,638.0 364.7,638.6 363.7,639.2 362.8,639.7 361.8,640.3 360.9,640.9 359.9,641.4 358.9,642.0 358.0,642.5 357.0,643.1 356.0,643.6 355.0,644.1 354.0,644.7 353.1,645.2 352.1,645.8 351.1,646.3 350.1,646.9 349.1,647.4 348.2,648.0 347.2,648.5 346.2,649.1 345.2,649.6 344.2,650.2 343.3,650.7 342.3,651.3 341.3,651.8 340.3,652.4 339.3,652.9 338.3,653.4 337.3,654.0 336.4,654.5 335.4,655.1 334.4,655.6 333.4,656.2 332.4,656.7 331.4,657.2 330.4,657.8 329.4,658.3 328.4,658.9 327.4,659.5 326.4,660.0 325.4,660.6 324.4,661.2 323.4,661.8 322.4,662.5 321.4,663.1 320.4,663.8 319.3,664.5 318.3,665.2 317.3,665.9 316.3,666.7 315.2,667.5 314.2,668.3 313.1,669.1 312.0,670.0 311.0,670.9 309.9,671.9 308.8,672.9 307.7,673.9 306.6,674.9 305.6,676.0 304.5,677.1 303.4,678.3 302.3,679.4 301.3,680.7 300.3,682.0 299.3,683.3 298.3,684.6 297.3,686.0 296.3,687.3 295.3,688.7 294.3,690.1 293.3,691.5 292.2,693.0 291.3,694.4 290.3,695.9 289.3,697.4 288.3,698.9 287.3,700.4 286.3,702.0 285.3,703.6 284.3,705.2 283.3,706.8 282.3,708.5 281.3,710.2 280.3,711.9 279.3,713.6 278.3,715.4 277.3,717.2 276.3,719.1 275.3,720.9 274.3,722.8 273.3,724.8 272.3,726.8 271.2,728.8 270.2,730.9 269.2,733.1 268.2,735.3 267.2,737.5 266.1,739.8 265.1,742.2 264.1,744.6 263.1,747.1 262.1,749.7 261.0,752.4 260.0,755.2 259.0,758.0 257.9,760.9 256.8,763.9 255.7,767.0 254.6,770.1 253.5,773.3 252.4,776.5 251.4,779.8 250.3,783.2 249.2,786.5 248.1,789.9 247.0,793.3 245.9,796.6 244.8,799.9 243.7,803.1 242.6,806.1 238.3,833.0 233.7,885.0 229.2,940.0 224.6,995.0 220.5,1065.0 219.5,1097.0" fill="#e6e6ff"/>
<polyline points="215.0,1096.9 216.0,1064.8 220.1,994.7 224.7,939.7 229.2,884.7 233.8,832.6 238.2,805.3 239.5,801.8 240.7,798.6 241.9,795.4 243.1,792.1 244.2,788.8 245.4,785.4 246.6,782.1 247.8,778.8 249.0,775.5 250.2,772.3 251.4,769.1 252.6,766.0 253.8,762.9 255.0,759.9 256.1,757.0 257.0,754.1 257.8,751.2 258.6,748.4 259.5,745.7 260.3,743.1 261.1,740.5 262.0,738.0 262.8,735.6 263.6,733.2 264.5,730.9 265.3,728.6 266.1,726.4 267.0,724.2 267.8,722.1 268.7,720.0 269.5,717.9 270.4,715.9 271.3,713.9 272.1,712.0 273.0,710.1 273.8,708.2 274.7,706.3 275.6,704.5 276.4,702.7 277.3,700.9 278.2,699.2 279.1,697.4 279.9,695.7 280.8,694.1 281.7,692.4 282.6,690.8 283.4,689.1 284.3,687.5 285.3,686.0 286.2,684.5 287.2,683.0 288.2,681.5 289.1,680.1 290.1,678.6 291.1,677.2 292.1,675.8 293.0,674.4 294.0,673.0 295.1,671.7 296.1,670.3 297.1,669.0 298.2,667.8 299.2,666.5 300.2,665.3 301.3,664.1 302.3,662.9 303.3,661.7 304.4,660.5 305.4,659.4 306.5,658.3 307.5,657.2 308.6,656.2 309.7,655.2 310.7,654.2 311.8,653.3 312.9,652.4 314.0,651.5 315.0,650.7 316.1,649.9 317.2,649.1 318.3,648.4 319.4,647.6 320.4,646.9 321.5,646.2 322.6,645.6 323.6,644.9 324.7,644.3 325.8,643.6 326.8,643.0 327.9,642.4 328.9,641.8 330.0,641.2 331.0,640.6 332.0,640.1 333.1,639.5 334.1,638.9 335.1,638.4 336.2,637.8 337.2,637.3 338.2,636.8 339.2,636.2 340.2,635.7 341.3,635.2 342.3,634.6 343.3,634.1 344.3,633.6 345.3,633.0 346.4,632.5 347.4,632.0 348.4,631.5 349.4,630.9 350.4,630.4 351.4,629.9 352.4,629.4 353.5,628.9 354.5,628.3 355.5,627.8 356.5,627.3 357.5,626.8 358.5,626.3 359.5,625.8 360.5,625.3 361.6,624.8 362.6,624.3 363.6,623.8 364.6,623.3 365.6,622.8 366.6,622.3 367.6,621.8 368.6,621.3 369.6,620.9 370.6,620.4 371.7,619.9 372.7,619.4 373.7,618.9 374.7,618.4 375.7,617.9 376.7,617.5 377.7,617.0 378.7,616.5 379.7,616.0 380.7,615.5 381.7,615.1 382.7,614.6 383.7,614.1 384.7,613.6 385.7,613.2 386.8,612.7 387.8,612.2 388.8,611.8 389.8,611.3 390.8,610.8 391.8,610.4 392.8,609.9 393.8,609.5 394.8,609.0 395.8,608.5 396.7,608.1 399.7,606.8 402.7,605.4 405.8,604.1 408.8,602.7 411.8,601.4 414.8,600.1 417.8,598.8 420.9,597.5 423.9,596.2 427.0,594.8 430.1,593.6 433.1,592.3 436.2,591.0 439.2,589.7 442.3,588.4 445.3,587.2 448.4,585.9 451.5,584.7 454.5,583.5 457.6,582.2 460.6,581.0 463.7,579.9 466.8,578.8 469.9,577.7 472.9,576.5 476.0,575.4 479.1,574.2 482.1,573.0 485.1,571.8 488.1,570.5 491.2,569.2 494.2,567.8 497.2,566.5 500.2,565.1 503.2,563.7 506.2,562.3 509.2,560.9 512.2,559.5 515.2,558.0 518.2,556.6 521.2,555.1 524.2,553.7 527.2,552.2 530.2,550.7 533.2,549.3 536.3,547.8 539.3,546.4 542.3,545.0 545.3,543.5 548.4,542.1 551.4,540.7 554.5,539.4 557.5,538.0 560.6,536.7 563.6,535.4 566.7,534.1 569.8,532.8 572.8,531.6 575.9,530.3 579.0,529.0 582.0,527.8 585.1,526.5 588.2,525.2 591.2,523.9 594.3,522.6 597.4,521.3 600.5,520.0 603.5,518.6 606.6,517.2 609.7,515.7 612.8,514.2 615.9,512.8 619.0,511.3 622.0,509.9 625.0,508.5 628.0,507.2 631.0,505.9 634.0,504.7 637.0,503.5 640.0,502.4 643.0,501.2 646.0,500.1 649.0,499.0 652.0,497.8 655.0,496.7 658.0,495.6 661.0,494.5 664.0,493.4 667.0,492.4 670.0,491.3 673.0,490.2 676.0,489.1 679.0,488.1 682.0,487.0 685.0,486.0 688.0,484.9 691.0,483.8 694.0,482.8 697.0,481.7 700.0,480.7 703.0,479.6 706.0,478.5 709.0,477.5 712.0,476.4 715.0,475.3 718.0,474.2 721.0,473.1 724.0,472.1 727.0,471.0 730.0,469.9 733.0,468.8 736.0,467.8 739.0,466.7 742.0,465.6 745.0,464.6 748.0,463.5 751.0,462.5 754.0,461.5 757.0,460.5 760.0,459.5 763.0,458.5 766.0,457.5 769.0,456.6 772.0,455.6 775.0,454.7 778.0,453.8 781.0,452.9 784.0,452.0 787.0,451.1 790.0,450.2 793.0,449.3 796.0,448.4 799.0,447.5 802.0,446.6 805.0,445.8 808.0,444.9 811.0,444.0 814.0,443.2 817.0,442.3 820.0,441.4 823.0,440.6 826.0,439.7 829.0,438.9 832.0,438.0 835.0,437.2 838.0,436.3 841.0,435.4 844.0,434.6 847.0,433.7 850.0,432.9 853.0,432.0 856.0,431.1 859.0,430.2 862.0,429.3 865.0,428.4 868.0,427.5 871.0,426.6 874.0,425.7 877.0,424.8 880.0,423.9 883.0,422.9 886.0,422.0 889.0,421.1 892.0,420.1 895.0,419.2 898.0,418.2 901.0,417.3 904.0,416.4 907.0,415.4 910.0,414.5 913.0,413.5 916.0,412.6 919.0,411.6 922.0,410.7 925.0,409.7 928.0,408.8 931.0,407.8 934.0,406.9 937.0,405.9 940.0,405.0 943.0,404.0 946.0,403.1 949.0,402.2 952.0,401.3 955.0,400.3 958.0,399.4 961.0,398.5 964.0,397.6 967.0,396.7 970.0,395.8 973.0,394.9 976.0,394.1 979.0,393.2 982.0,392.3 985.0,391.5 988.0,390.6 991.0,389.8 994.0,389.0 997.0,388.2 1000.0,387.4 1003.0,386.6 1006.0,385.8 1009.0,385.0 1012.0,384.2 1015.0,383.4 1018.0,382.6 1021.0,381.8 1024.0,381.1 1027.0,380.3 1030.0,379.5 1033.0,378.8 1036.0,378.0 1039.0,377.2 1042.0,376.5 1045.0,375.7 1048.0,375.0 1051.0,374.2 1054.0,373.5 1057.0,372.7 1060.0,372.0 1063.0,371.3 1066.0,370.5 1069.0,369.8 1072.0,369.1 1075.0,368.3 1078.0,367.6 1081.0,366.9 1084.0,366.2 1087.0,365.4 1090.0,364.7 1093.0,364.0 1096.0,363.3 1099.0,362.6 1102.0,361.9 1105.0,361.2 1108.0,360.5 1111.0,359.8 1114.0,359.1 1117.0,358.4 1120.0,357.7 1123.0,357.0 1126.0,356.3 1129.0,355.6 1132.0,354.9 1135.0,354.2 1138.0,353.6 1141.0,352.9 1144.0,352.2 1147.0,351.5 1150.0,350.8 1153.0,350.2 1156.0,349.5 1159.0,348.8 1162.0,348.1 1165.0,347.5 1168.0,346.8 1171.0,346.1 1174.0,345.5 1177.0,344.8 1180.0,344.1 1183.0,343.5 1186.0,342.8 1189.0,342.2 1192.0,341.5 1195.0,340.8 1198.0,340.2 1201.0,339.5 1204.0,338.9 1207.0,338.2 1210.0,337.6 1213.0,336.9 1216.0,336.3 1219.0,335.6 1222.0,335.0 1225.0,334.3 1228.0,333.7 1231.0,333.1 1234.0,332.4 1237.0,331.8 1240.0,331.2 1243.0,330.5 1246.0,329.9 1249.0,329.3 1252.0,328.6 1255.0,328.0 1258.0,327.4 1261.0,326.8 1264.0,326.1 1267.0,325.5 1270.0,324.9 1273.0,324.3 1276.0,323.7 1279.0,323.0 1282.0,322.4 1285.0,321.8 1288.0,321.2 1291.0,320.6 1294.0,320.0 1297.0,319.4 1300.0,318.8 1303.0,318.2 1306.0,317.6 1309.0,317.0 1312.0,316.4 1315.0,315.8 1318.0,315.2 1321.0,314.6 1324.0,314.0 1327.0,313.4 1330.0,312.8 1333.0,312.2 1336.0,311.6 1339.0,311.0 1342.0,310.4 1345.0,309.8 1348.0,309.2 1351.0,308.7 1354.0,308.1 1357.0,307.5 1360.0,306.9 1363.0,306.3 1366.0,305.7 1369.0,305.2 1372.0,304.6 1375.0,304.0 1378.0,303.4 1381.0,302.8 1384.0,302.3 1387.0,301.7 1390.0,301.1 1393.0,300.5 1396.0,300.0 1399.0,299.4 1402.0,298.8 1405.0,298.2 1408.0,297.7 1411.0,297.1 1414.0,296.5 1417.0,295.9 1420.0,295.4 1423.0,294.8 1426.0,294.2 1429.0,293.7 1432.0,293.1 1435.0,292.5 1438.0,292.0 1441.0,291.4 1444.0,290.8 1447.0,290.3 1450.0,289.7 1453.0,289.1 1456.0,288.6 1459.0,288.0 1462.0,287.5 1465.0,286.9 1468.0,286.3 1471.0,285.8 1474.0,285.2 1477.0,284.7 1480.0,284.1 1483.0,283.6 1486.0,283.0 1489.0,282.5 1492.0,281.9 1495.0,281.4 1498.0,280.8 1501.0,280.3 1504.0,279.7 1507.0,279.2 1510.0,278.6 1513.0,278.1 1516.0,277.5 1519.0,277.0 1522.0,276.4 1525.0,275.9 1528.0,275.4 1531.0,274.8 1534.0,274.3 1537.0,273.7 1540.0,273.2 1543.0,272.7 1546.0,272.1 1549.0,271.6 1552.0,271.1 1555.0,270.6 1558.0,270.0 1561.0,269.5 1564.0,269.0 1567.0,268.5 1570.0,267.9 1573.0,267.4 1576.0,266.9 1579.0,266.4 1582.0,265.9 1585.0,265.3 1588.0,264.8 1591.0,264.3 1594.0,263.8 1597.0,263.3 1600.0,262.8 1603.0,262.3 1606.0,261.8 1609.0,261.3 1612.0,260.7 1615.0,260.2 1618.0,259.7 1621.0,259.2 1624.0,258.7 1627.0,258.2 1630.0,257.7 1633.0,257.2 1636.0,256.7 1639.0,256.2 1642.0,255.7 1645.0,255.2 1648.0,254.8 1651.0,254.3 1654.0,253.8 1657.0,253.3 1660.0,252.8 1663.0,252.3 1666.0,251.8 1669.0,251.3 1672.0,250.8 1675.0,250.3 1678.0,249.9 1681.0,249.4 1684.0,248.9 1687.0,248.4 1690.0,247.9 1693.0,247.4 1696.0,247.0 1699.0,246.5 1702.0,246.0 1705.0,245.5 1708.0,245.1 1711.0,244.6 1714.0,244.1 1717.0,243.6 1720.0,243.2 1723.0,242.7 1726.0,242.2 1729.0,241.7 1732.0,241.3 1735.0,240.8 1738.0,240.3 1741.0,239.9 1744.0,239.4 1747.0,238.9 1750.0,238.5 1753.0,238.0 1756.0,237.6 1759.0,237.1 1762.0,236.6 1765.0,236.2 1768.0,235.7 1771.0,235.3 1774.0,234.8 1777.0,234.3 1780.0,233.9 1783.0,233.4 1786.0,233.0 1789.0,232.5 1792.0,232.1 1795.0,231.6 1798.0,231.2 1801.0,230.7 1804.0,230.3 1807.0,229.8 1810.0,229.4 1813.0,228.9 1816.0,228.5 1819.0,228.1 1822.0,227.6 1825.0,227.2 1828.0,226.7 1831.0,226.3 1834.0,225.8 1837.0,225.4 1840.0,225.0 1843.0,224.5" fill="none" stroke="#00934a" stroke-width="4.4" stroke-linejoin="round"/>
<polyline points="220.5,1097.0 221.5,1065.1 225.6,995.1 230.2,940.1 234.7,885.1 239.3,833.2 243.6,806.3 244.7,803.4 245.9,800.2 247.0,797.0 248.2,793.6 249.4,790.3 250.5,786.9 251.7,783.6 252.8,780.3 254.0,777.0 255.1,773.8 256.3,770.6 257.5,767.5 258.6,764.5 259.8,761.5 260.9,758.7 261.9,755.8 262.9,753.1 263.9,750.4 264.9,747.9 266.0,745.4 267.0,742.9 268.0,740.6 269.0,738.3 270.0,736.1 271.0,733.9 272.0,731.8 273.1,729.7 274.1,727.7 275.1,725.7 276.1,723.8 277.1,721.9 278.2,720.1 279.4,718.3 280.5,716.6 281.7,714.9 282.8,713.3 283.9,711.7 285.1,710.1 286.2,708.6 287.3,707.0 288.4,705.5 289.6,704.1 290.7,702.6 291.8,701.2 292.9,699.8 294.1,698.4 295.2,697.1 296.3,695.7 297.3,694.3 298.3,693.0 299.3,691.6 300.4,690.3 301.4,688.9 302.4,687.6 303.4,686.4 304.4,685.1 305.4,683.9 306.4,682.7 307.6,681.6 308.8,680.7 310.0,679.7 311.2,678.8 312.4,677.9 313.6,677.1 314.8,676.3 315.9,675.6 317.1,674.8 318.2,674.2 319.3,673.5 320.4,672.9 321.5,672.3 322.5,671.7 323.5,671.2 324.5,670.6 325.5,670.1 326.5,669.6 327.5,669.1 328.5,668.6 329.4,668.1 330.4,667.6 331.4,667.1 332.3,666.7 333.3,666.2 334.2,665.7 335.2,665.3 336.2,664.8 337.1,664.3 338.1,663.8 339.0,663.3 340.0,662.9 340.9,662.4 341.9,661.9 342.9,661.4 343.8,660.9 344.8,660.3 345.8,659.8 346.7,659.3 347.7,658.8 348.7,658.3 349.7,657.8 350.7,657.2 351.6,656.7 352.6,656.2 353.6,655.7 354.6,655.2 355.6,654.7 356.5,654.2 357.5,653.7 358.5,653.2 359.5,652.7 360.5,652.2 361.5,651.7 362.4,651.2 363.4,650.7 364.4,650.2 365.4,649.7 366.3,649.2 367.3,648.7 368.3,648.2 369.2,647.6 370.2,647.1 371.2,646.6 372.1,646.1 373.1,645.5 374.0,645.0 375.0,644.5 376.0,643.9 376.9,643.4 377.9,642.9 378.8,642.3 379.8,641.8 380.7,641.3 381.7,640.7 382.7,640.2 383.6,639.7 384.6,639.2 385.5,638.6 386.5,638.1 387.5,637.6 388.4,637.1 389.4,636.6 390.3,636.1 391.3,635.5 392.3,635.0 393.2,634.5 394.2,634.0 395.1,633.4 396.1,632.9 397.0,632.4 398.0,631.9 398.9,631.3 399.9,630.8 400.9,630.3 401.8,629.8 402.8,629.3 403.7,628.7 404.7,628.2 405.5,627.8 408.4,626.2 411.3,624.7 414.2,623.2 417.1,621.7 420.0,620.3 422.9,618.9 425.9,617.6 428.7,616.3 431.6,615.0 434.5,613.7 437.4,612.5 440.3,611.2 443.2,610.0 446.1,608.7 449.0,607.5 451.9,606.3 454.8,605.1 457.7,603.9 460.6,602.7 463.6,601.5 466.5,600.4 469.4,599.3 472.4,598.3 475.3,597.2 478.3,596.1 481.2,595.1 484.1,593.9 487.1,592.8 490.0,591.7 492.9,590.6 495.8,589.5 498.8,588.4 501.7,587.3 504.6,586.2 507.5,585.1 510.5,584.0 513.4,582.9 516.3,581.8 519.3,580.8 522.2,579.7 525.1,578.6 528.0,577.5 531.0,576.5 533.9,575.4 536.8,574.3 539.8,573.3 542.7,572.2 545.6,571.2 548.6,570.1 551.5,569.1 554.4,568.0 557.4,567.0 560.3,566.0 563.2,564.9 566.2,563.9 569.1,562.9 572.0,561.9 575.0,560.8 577.9,559.8 580.8,558.8 583.8,557.8 586.7,556.8 589.6,555.8 592.6,554.8 595.5,553.8 598.5,552.8 601.4,551.8 604.3,550.7 607.3,549.7 610.2,548.6 613.1,547.5 616.1,546.4 619.0,545.3 622.0,544.2 625.0,543.1 628.0,542.0 631.0,540.9 634.0,539.8 637.0,538.8 640.0,537.7 643.0,536.7 646.0,535.6 649.0,534.6 652.0,533.6 655.0,532.6 658.0,531.6 661.0,530.7 664.0,529.8 667.0,528.8 670.0,527.9 673.0,527.1 676.0,526.2 679.0,525.3 682.0,524.5 685.0,523.6 688.0,522.8 691.0,522.0 694.0,521.1 697.0,520.3 700.0,519.5 703.0,518.6 706.0,517.8 709.0,517.0 712.0,516.2 715.0,515.4 718.0,514.6 721.0,513.8 724.0,513.0 727.0,512.2 730.0,511.5 733.0,510.7 736.0,509.9 739.0,509.2 742.0,508.4 745.0,507.6 748.0,506.9 751.0,506.1 754.0,505.3 757.0,504.6 760.0,503.8 763.0,503.1 766.0,502.3 769.0,501.5 772.0,500.7 775.0,500.0 778.0,499.2 781.0,498.4 784.0,497.7 787.0,496.9 790.0,496.1 793.0,495.4 796.0,494.6 799.0,493.9 802.0,493.1 805.0,492.3 808.0,491.6 811.0,490.8 814.0,490.1 817.0,489.3 820.0,488.6 823.0,487.8 826.0,487.1 829.0,486.3 832.0,485.6 835.0,484.8 838.0,484.1 841.0,483.4 844.0,482.6 847.0,481.9 850.0,481.2 853.0,480.4 856.0,479.7 859.0,479.0 862.0,478.3 865.0,477.5 868.0,476.8 871.0,476.1 874.0,475.4 877.0,474.6 880.0,473.9 883.0,473.2 886.0,472.5 889.0,471.8 892.0,471.1 895.0,470.4 898.0,469.7 901.0,469.0 904.0,468.3 907.0,467.6 910.0,466.9 913.0,466.2 916.0,465.5 919.0,464.8 922.0,464.1 925.0,463.4 928.0,462.7 931.0,462.0 934.0,461.3 937.0,460.7 940.0,460.0 943.0,459.3 946.0,458.6 949.0,458.0 952.0,457.3 955.0,456.6 958.0,455.9 961.0,455.3 964.0,454.6 967.0,454.0 970.0,453.3 973.0,452.6 976.0,452.0 979.0,451.3 982.0,450.7 985.0,450.0 988.0,449.4 991.0,448.8 994.0,448.1 997.0,447.5 1000.0,446.9 1003.0,446.2 1006.0,445.6 1009.0,445.0 1012.0,444.4 1015.0,443.7 1018.0,443.1 1021.0,442.5 1024.0,441.9 1027.0,441.3 1030.0,440.7 1033.0,440.1 1036.0,439.5 1039.0,438.9 1042.0,438.3 1045.0,437.7 1048.0,437.1 1051.0,436.6 1054.0,436.0 1057.0,435.4 1060.0,434.8 1063.0,434.2 1066.0,433.7 1069.0,433.1 1072.0,432.5 1075.0,432.0 1078.0,431.4 1081.0,430.8 1084.0,430.3 1087.0,429.7 1090.0,429.1 1093.0,428.6 1096.0,428.0 1099.0,427.5 1102.0,426.9 1105.0,426.3 1108.0,425.8 1111.0,425.2 1114.0,424.7 1117.0,424.1 1120.0,423.6 1123.0,423.0 1126.0,422.5 1129.0,421.9 1132.0,421.4 1135.0,420.8 1138.0,420.3 1141.0,419.7 1144.0,419.2 1147.0,418.6 1150.0,418.1 1153.0,417.5 1156.0,417.0 1159.0,416.4 1162.0,415.8 1165.0,415.3 1168.0,414.7 1171.0,414.2 1174.0,413.6 1177.0,413.1 1180.0,412.5 1183.0,411.9 1186.0,411.4 1189.0,410.8 1192.0,410.3 1195.0,409.7 1198.0,409.1 1201.0,408.6 1204.0,408.0 1207.0,407.4 1210.0,406.8 1213.0,406.3 1216.0,405.7 1219.0,405.2 1222.0,404.6 1225.0,404.0 1228.0,403.5 1231.0,402.9 1234.0,402.3 1237.0,401.8 1240.0,401.2 1243.0,400.7 1246.0,400.1 1249.0,399.6 1252.0,399.0 1255.0,398.5 1258.0,397.9 1261.0,397.4 1264.0,396.8 1267.0,396.3 1270.0,395.7 1273.0,395.2 1276.0,394.6 1279.0,394.1 1282.0,393.5 1285.0,393.0 1288.0,392.4 1291.0,391.9 1294.0,391.4 1297.0,390.8 1300.0,390.3 1303.0,389.7 1306.0,389.2 1309.0,388.7 1312.0,388.1 1315.0,387.6 1318.0,387.1 1321.0,386.5 1324.0,386.0 1327.0,385.5 1330.0,385.0 1333.0,384.4 1336.0,383.9 1339.0,383.4 1342.0,382.9 1345.0,382.3 1348.0,381.8 1351.0,381.3 1354.0,380.8 1357.0,380.3 1360.0,379.8 1363.0,379.2 1366.0,378.7 1369.0,378.2 1372.0,377.7 1375.0,377.2 1378.0,376.7 1381.0,376.2 1384.0,375.7 1387.0,375.2 1390.0,374.7 1393.0,374.2 1396.0,373.7 1399.0,373.2 1402.0,372.7 1405.0,372.2 1408.0,371.7 1411.0,371.2 1414.0,370.7 1417.0,370.2 1420.0,369.7 1423.0,369.2 1426.0,368.7 1429.0,368.2 1432.0,367.7 1435.0,367.2 1438.0,366.7 1441.0,366.2 1444.0,365.8 1447.0,365.3 1450.0,364.8 1453.0,364.3 1456.0,363.8 1459.0,363.3 1462.0,362.9 1465.0,362.4 1468.0,361.9 1471.0,361.4 1474.0,361.0 1477.0,360.5 1480.0,360.0 1483.0,359.5 1486.0,359.1 1489.0,358.6 1492.0,358.1 1495.0,357.6 1498.0,357.2 1501.0,356.7 1504.0,356.2 1507.0,355.8 1510.0,355.3 1513.0,354.8 1516.0,354.4 1519.0,353.9 1522.0,353.5 1525.0,353.0 1528.0,352.5 1531.0,352.1 1534.0,351.6 1537.0,351.2 1540.0,350.7 1543.0,350.2 1546.0,349.8 1549.0,349.3 1552.0,348.9 1555.0,348.4 1558.0,348.0 1561.0,347.5 1564.0,347.1 1567.0,346.6 1570.0,346.2 1573.0,345.7 1576.0,345.3 1579.0,344.9 1582.0,344.4 1585.0,344.0 1588.0,343.5 1591.0,343.1 1594.0,342.6 1597.0,342.2 1600.0,341.8 1603.0,341.3 1606.0,340.9 1609.0,340.5 1612.0,340.0 1615.0,339.6 1618.0,339.2 1621.0,338.7 1624.0,338.3 1627.0,337.9 1630.0,337.4 1633.0,337.0 1636.0,336.6 1639.0,336.2 1642.0,335.7 1645.0,335.3 1648.0,334.9 1651.0,334.5 1654.0,334.0 1657.0,333.6 1660.0,333.2 1663.0,332.8 1666.0,332.4 1669.0,331.9 1672.0,331.5 1675.0,331.1 1678.0,330.7 1681.0,330.3 1684.0,329.9 1687.0,329.5 1690.0,329.0 1693.0,328.6 1696.0,328.2 1699.0,327.8 1702.0,327.4 1705.0,327.0 1708.0,326.6 1711.0,326.2 1714.0,325.8 1717.0,325.4 1720.0,325.0 1723.0,324.6 1726.0,324.2 1729.0,323.8 1732.0,323.4 1735.0,323.0 1738.0,322.6 1741.0,322.2 1744.0,321.8 1747.0,321.4 1750.0,321.0 1753.0,320.6 1756.0,320.2 1759.0,319.8 1762.0,319.4 1765.0,319.0 1768.0,318.6 1771.0,318.2 1774.0,317.8 1777.0,317.4 1780.0,317.0 1783.0,316.7 1786.0,316.3 1789.0,315.9 1792.0,315.5 1795.0,315.1 1798.0,314.7 1801.0,314.3 1804.0,314.0 1807.0,313.6 1810.0,313.2 1813.0,312.8 1816.0,312.4 1819.0,312.0 1822.0,311.7 1825.0,311.3 1828.0,310.9 1831.0,310.5 1834.0,310.2 1837.0,309.8 1840.0,309.4 1843.0,309.0" fill="none" stroke="#00934a" stroke-width="4.4" stroke-linejoin="round"/>
<polyline points="215.0,1096.9 216.0,1064.8 220.1,994.7 224.7,939.7 229.2,884.7 233.8,832.6 238.2,805.3 239.5,801.8 240.7,798.6 241.9,795.4 243.1,792.1 244.2,788.8 245.4,785.4 246.6,782.1 247.8,778.8 249.0,775.5 250.2,772.3 251.4,769.1 252.6,766.0 253.8,762.9 255.0,759.9 256.1,757.0 257.0,754.1 257.8,751.2 258.6,748.4 259.5,745.7 260.3,743.1 261.1,740.5 262.0,738.0 262.8,735.6 263.6,733.2 264.5,730.9 265.3,728.6 266.1,726.4 267.0,724.2 267.8,722.1 268.7,720.0 269.5,717.9 270.5,715.9 271.4,714.0 272.3,712.1 273.2,710.2 274.2,708.4 275.1,706.5 276.0,704.8 276.9,703.0 277.9,701.3 278.8,699.6 279.7,697.9 280.6,696.2 281.6,694.6 282.5,692.9 283.4,691.3 284.4,689.8 285.3,688.2 286.3,686.7 287.3,685.2 288.3,683.8 289.3,682.3 290.3,680.9 291.3,679.5 292.2,678.1 293.2,676.7 294.2,675.3 295.3,673.9 296.3,672.6 297.3,671.3 298.3,670.0 299.4,668.8 300.4,667.5 301.4,666.3 302.4,665.1 303.5,664.0 304.5,662.8 305.5,661.7 306.6,660.6 307.6,659.5 308.6,658.4 309.6,657.4 310.6,656.3 311.7,655.4 312.7,654.4 313.7,653.5 314.7,652.6 315.8,651.7 316.8,650.8 317.8,650.0 318.9,649.2 319.9,648.4 320.9,647.7 322.0,647.0 323.0,646.2 324.0,645.5 325.1,644.8 326.1,644.2 327.1,643.5 328.2,642.9 329.2,642.2 330.2,641.6 331.2,641.0 332.2,640.4 333.3,639.8 334.3,639.2 335.3,638.7 336.3,638.1 337.3,637.5 338.3,637.0 339.3,636.4 340.3,635.8 341.3,635.3 342.4,634.7 343.4,634.2 344.4,633.6 345.4,633.1 346.4,632.6 347.4,632.0 348.4,631.5 349.4,631.0 350.4,630.4 351.4,629.9 352.4,629.4 353.4,628.8 354.5,628.3 355.5,627.8 356.5,627.3 357.5,626.8 358.5,626.3 359.5,625.8 360.5,625.3 361.5,624.8 362.6,624.3 363.6,623.8 364.6,623.3 365.6,622.8 366.6,622.3 367.6,621.8 368.6,621.3 369.6,620.8 370.6,620.4 371.7,619.9 372.7,619.4 373.7,618.9 374.7,618.4 375.7,617.9 376.7,617.5 377.7,617.0 378.7,616.5 379.7,616.0 380.7,615.5 381.7,615.1 382.7,614.6 383.7,614.1 384.7,613.6 385.7,613.2 386.8,612.7 387.8,612.2 388.8,611.8 389.8,611.3 390.8,610.8 391.8,610.4 392.8,609.9 393.8,609.5 394.8,609.0 395.8,608.5 396.7,608.1 399.7,606.8 402.7,605.4 405.8,604.1 408.8,602.7 411.8,601.4 414.8,600.1 417.8,598.8 420.9,597.5 424.0,596.3 427.1,595.2 430.3,594.1 433.4,593.1 436.6,592.1 439.7,591.1 442.9,590.1 446.0,589.2 449.2,588.2 452.3,587.3 455.4,586.3 458.5,585.2 461.6,584.2 464.7,583.2 467.8,582.2 470.8,581.2 473.9,580.1 477.0,579.0 480.0,577.9 483.0,576.7 486.0,575.4 489.0,574.2 492.0,573.0 495.0,571.7 498.0,570.5 501.0,569.2 504.0,567.9 507.0,566.6 510.0,565.3 513.0,563.9 516.0,562.6 519.0,561.3 522.0,559.9 525.0,558.6 528.0,557.2 531.0,555.9 534.0,554.5 537.0,553.2 540.0,551.8 543.0,550.5 546.0,549.1 549.0,547.8 552.1,546.5 555.1,545.1 558.1,543.8 561.1,542.5 564.1,541.2 567.2,539.9 570.2,538.6 573.2,537.3 576.3,535.9 579.3,534.6 582.3,533.3 585.4,531.9 588.4,530.6 591.5,529.2 594.5,527.9 597.6,526.5 600.6,525.1 603.7,523.7 606.7,522.2 609.8,520.7 612.8,519.2 615.9,517.6 619.0,516.1 622.0,514.7 625.0,513.3 628.0,512.1 631.0,510.9 634.0,509.8 637.0,508.7 640.0,507.7 643.0,506.6 646.0,505.6 649.0,504.6 652.0,503.5 655.0,502.5 658.0,501.4 661.0,500.3 664.0,499.2 667.0,498.1 670.0,496.9 673.0,495.7 676.0,494.6 679.0,493.4 682.0,492.2 685.0,491.0 688.0,489.9 691.0,488.7 694.0,487.6 697.0,486.5 700.0,485.5 703.0,484.5 706.0,483.5 709.0,482.5 712.0,481.5 715.0,480.5 718.0,479.5 721.0,478.6 724.0,477.6 727.0,476.7 730.0,475.7 733.0,474.8 736.0,473.8 739.0,472.9 742.0,472.0 745.0,471.0 748.0,470.1 751.0,469.2 754.0,468.2 757.0,467.3 760.0,466.4 763.0,465.5 766.0,464.5 769.0,463.6 772.0,462.6 775.0,461.7 778.0,460.7 781.0,459.8 784.0,458.8 787.0,457.9 790.0,456.9 793.0,455.9 796.0,455.0 799.0,454.0 802.0,453.0 805.0,452.0 808.0,451.1 811.0,450.1 814.0,449.1 817.0,448.2 820.0,447.2 823.0,446.2 826.0,445.3 829.0,444.3 832.0,443.3 835.0,442.4 838.0,441.4 841.0,440.5 844.0,439.6 847.0,438.6 850.0,437.7 853.0,436.8 856.0,435.8 859.0,434.9 862.0,434.0 865.0,433.1 868.0,432.2 871.0,431.2 874.0,430.3 877.0,429.4 880.0,428.5 883.0,427.6 886.0,426.7 889.0,425.8 892.0,424.9 895.0,424.0 898.0,423.0 901.0,422.1 904.0,421.2 907.0,420.3 910.0,419.5 913.0,418.6 916.0,417.7 919.0,416.8 922.0,415.9 925.0,415.0 928.0,414.1 931.0,413.3 934.0,412.4 937.0,411.5 940.0,410.7 943.0,409.8 946.0,409.0 949.0,408.1 952.0,407.3 955.0,406.4 958.0,405.6 961.0,404.7 964.0,403.9 967.0,403.1 970.0,402.3 973.0,401.4 976.0,400.6 979.0,399.8 982.0,399.0 985.0,398.2 988.0,397.4 991.0,396.7 994.0,395.9 997.0,395.1 1000.0,394.4 1003.0,393.6 1006.0,392.8 1009.0,392.1 1012.0,391.3 1015.0,390.6 1018.0,389.8 1021.0,389.1 1024.0,388.4 1027.0,387.6 1030.0,386.9 1033.0,386.2 1036.0,385.5 1039.0,384.7 1042.0,384.0 1045.0,383.3 1048.0,382.6 1051.0,381.9 1054.0,381.2 1057.0,380.5 1060.0,379.8 1063.0,379.1 1066.0,378.4 1069.0,377.7 1072.0,377.0 1075.0,376.3 1078.0,375.6 1081.0,374.9 1084.0,374.2 1087.0,373.6 1090.0,372.9 1093.0,372.2 1096.0,371.5 1099.0,370.9 1102.0,370.2 1105.0,369.5 1108.0,368.8 1111.0,368.2 1114.0,367.5 1117.0,366.8 1120.0,366.2 1123.0,365.5 1126.0,364.9 1129.0,364.2 1132.0,363.5 1135.0,362.9 1138.0,362.2 1141.0,361.6 1144.0,360.9 1147.0,360.3 1150.0,359.6 1153.0,358.9 1156.0,358.3 1159.0,357.6 1162.0,357.0 1165.0,356.3 1168.0,355.7 1171.0,355.0 1174.0,354.4 1177.0,353.7 1180.0,353.1 1183.0,352.4 1186.0,351.8 1189.0,351.1 1192.0,350.5 1195.0,349.8 1198.0,349.2 1201.0,348.5 1204.0,347.9 1207.0,347.2 1210.0,346.6 1213.0,345.9 1216.0,345.2 1219.0,344.6 1222.0,343.9 1225.0,343.2 1228.0,342.6 1231.0,341.9 1234.0,341.2 1237.0,340.6 1240.0,339.9 1243.0,339.2 1246.0,338.6 1249.0,337.9 1252.0,337.2 1255.0,336.5 1258.0,335.9 1261.0,335.2 1264.0,334.5 1267.0,333.8 1270.0,333.2 1273.0,332.5 1276.0,331.8 1279.0,331.2 1282.0,330.5 1285.0,329.8 1288.0,329.1 1291.0,328.5 1294.0,327.8 1297.0,327.1 1300.0,326.5 1303.0,325.8 1306.0,325.2 1309.0,324.5 1312.0,323.8 1315.0,323.2 1318.0,322.5 1321.0,321.9 1324.0,321.2 1327.0,320.6 1330.0,319.9 1333.0,319.3 1336.0,318.6 1339.0,318.0 1342.0,317.4 1345.0,316.7 1348.0,316.1 1351.0,315.5 1354.0,314.9 1357.0,314.2 1360.0,313.6 1363.0,313.0 1366.0,312.4 1369.0,311.8 1372.0,311.2 1375.0,310.6 1378.0,310.0 1381.0,309.4 1384.0,308.8 1387.0,308.2 1390.0,307.7 1393.0,307.1 1396.0,306.5 1399.0,306.0 1402.0,305.4 1405.0,304.9 1408.0,304.3 1411.0,303.8 1414.0,303.2 1417.0,302.7 1420.0,302.1 1423.0,301.6 1426.0,301.0 1429.0,300.5 1432.0,300.0 1435.0,299.4 1438.0,298.9 1441.0,298.4 1444.0,297.8 1447.0,297.3 1450.0,296.8 1453.0,296.3 1456.0,295.7 1459.0,295.2 1462.0,294.7 1465.0,294.2 1468.0,293.7 1471.0,293.1 1474.0,292.6 1477.0,292.1 1480.0,291.6 1483.0,291.1 1486.0,290.6 1489.0,290.1 1492.0,289.6 1495.0,289.1 1498.0,288.6 1501.0,288.0 1504.0,287.5 1507.0,287.0 1510.0,286.5 1513.0,286.0 1516.0,285.5 1519.0,285.0 1522.0,284.5 1525.0,284.1 1528.0,283.6 1531.0,283.1 1534.0,282.6 1537.0,282.1 1540.0,281.6 1543.0,281.1 1546.0,280.6 1549.0,280.1 1552.0,279.6 1555.0,279.1 1558.0,278.6 1561.0,278.1 1564.0,277.6 1567.0,277.2 1570.0,276.7 1573.0,276.2 1576.0,275.7 1579.0,275.2 1582.0,274.7 1585.0,274.2 1588.0,273.7 1591.0,273.2 1594.0,272.8 1597.0,272.3 1600.0,271.8 1603.0,271.3 1606.0,270.8 1609.0,270.3 1612.0,269.8 1615.0,269.3 1618.0,268.8 1621.0,268.4 1624.0,267.9 1627.0,267.4 1630.0,266.9 1633.0,266.4 1636.0,265.9 1639.0,265.4 1642.0,265.0 1645.0,264.5 1648.0,264.0 1651.0,263.5 1654.0,263.0 1657.0,262.5 1660.0,262.0 1663.0,261.6 1666.0,261.1 1669.0,260.6 1672.0,260.1 1675.0,259.6 1678.0,259.2 1681.0,258.7 1684.0,258.2 1687.0,257.7 1690.0,257.2 1693.0,256.8 1696.0,256.3 1699.0,255.8 1702.0,255.3 1705.0,254.8 1708.0,254.4 1711.0,253.9 1714.0,253.4 1717.0,252.9 1720.0,252.5 1723.0,252.0 1726.0,251.5 1729.0,251.0 1732.0,250.6 1735.0,250.1 1738.0,249.6 1741.0,249.1 1744.0,248.7 1747.0,248.2 1750.0,247.7 1753.0,247.2 1756.0,246.8 1759.0,246.3 1762.0,245.8 1765.0,245.4 1768.0,244.9 1771.0,244.4 1774.0,243.9 1777.0,243.5 1780.0,243.0 1783.0,242.5 1786.0,242.1 1789.0,241.6 1792.0,241.1 1795.0,240.7 1798.0,240.2 1801.0,239.7 1804.0,239.3 1807.0,238.8 1810.0,238.3 1813.0,237.9 1816.0,237.4 1819.0,236.9 1822.0,236.5 1825.0,236.0 1828.0,235.5 1831.0,235.1 1834.0,234.6 1837.0,234.2 1840.0,233.7 1843.0,233.2" fill="none" stroke="#ff00ff" stroke-width="4.4" stroke-linejoin="round"/>
<polyline points="220.5,1097.0 221.5,1065.1 225.6,995.1 230.2,940.1 234.7,885.1 239.3,833.2 243.6,806.3 244.7,803.4 245.9,800.2 247.0,797.0 248.2,793.6 249.4,790.3 250.5,786.9 251.7,783.6 252.8,780.3 254.0,777.0 255.1,773.8 256.3,770.6 257.5,767.5 258.6,764.5 259.8,761.5 260.9,758.7 261.9,755.8 262.9,753.1 263.9,750.4 264.9,747.9 266.0,745.4 267.0,742.9 268.0,740.6 269.0,738.3 270.0,736.1 271.0,733.9 272.0,731.8 273.1,729.7 274.1,727.7 275.1,725.7 276.1,723.8 277.1,721.9 278.2,720.1 279.3,718.3 280.4,716.5 281.5,714.8 282.6,713.2 283.7,711.5 284.8,709.9 285.9,708.4 286.9,706.8 288.0,705.3 289.1,703.8 290.2,702.3 291.3,700.9 292.4,699.4 293.5,698.0 294.6,696.6 295.6,695.3 296.6,693.9 297.7,692.5 298.7,691.1 299.7,689.8 300.7,688.4 301.7,687.1 302.7,685.8 303.7,684.5 304.7,683.3 305.7,682.1 306.8,681.0 308.0,680.0 309.1,679.0 310.3,678.0 311.4,677.1 312.5,676.2 313.7,675.3 314.8,674.5 315.9,673.7 317.0,673.0 318.1,672.3 319.1,671.6 320.2,671.0 321.3,670.3 322.3,669.8 323.3,669.2 324.3,668.6 325.3,668.1 326.3,667.6 327.3,667.1 328.3,666.6 329.3,666.1 330.3,665.6 331.3,665.2 332.3,664.7 333.3,664.2 334.2,663.7 335.2,663.3 336.2,662.8 337.2,662.3 338.1,661.8 339.1,661.4 340.1,660.9 341.0,660.4 342.0,659.9 343.0,659.3 343.9,658.8 344.9,658.3 345.9,657.8 346.9,657.2 347.8,656.7 348.8,656.2 349.8,655.6 350.7,655.1 351.7,654.5 352.7,654.0 353.7,653.5 354.6,652.9 355.6,652.4 356.6,651.9 357.5,651.3 358.5,650.8 359.5,650.3 360.4,649.8 361.4,649.2 362.4,648.7 363.3,648.2 364.3,647.6 365.3,647.1 366.2,646.5 367.2,645.9 368.1,645.4 369.1,644.8 370.0,644.2 370.9,643.6 371.9,643.1 372.8,642.5 373.8,641.9 374.7,641.3 375.6,640.8 376.6,640.2 377.5,639.6 378.4,639.0 379.4,638.5 380.3,637.9 381.3,637.3 382.2,636.8 383.2,636.2 384.1,635.7 385.1,635.2 386.1,634.6 387.0,634.1 388.0,633.6 388.9,633.0 389.9,632.5 390.8,632.0 391.8,631.5 392.8,630.9 393.7,630.4 394.7,629.9 395.6,629.4 396.6,628.8 397.6,628.3 398.5,627.8 399.5,627.3 400.5,626.8 401.4,626.3 402.4,625.8 403.3,625.3 404.2,624.8 407.1,623.3 410.0,621.8 412.9,620.3 415.8,618.9 418.8,617.4 421.7,616.0 424.6,614.6 427.5,613.3 430.4,611.9 433.2,610.5 436.1,609.2 439.0,607.9 441.9,606.5 444.8,605.2 447.7,603.9 450.7,602.7 453.6,601.4 456.5,600.2 459.5,599.0 462.4,597.8 465.4,596.6 468.3,595.5 471.3,594.4 474.2,593.3 477.2,592.2 480.2,591.1 483.1,589.9 486.1,588.8 489.0,587.7 492.0,586.5 494.9,585.4 497.9,584.3 500.8,583.2 503.8,582.0 506.7,580.9 509.7,579.8 512.6,578.7 515.6,577.6 518.5,576.5 521.5,575.4 524.4,574.3 527.4,573.2 530.3,572.2 533.3,571.1 536.2,570.0 539.2,568.9 542.1,567.9 545.1,566.8 548.0,565.7 551.0,564.7 553.9,563.6 556.9,562.6 559.9,561.5 562.8,560.5 565.8,559.4 568.7,558.4 571.7,557.4 574.6,556.4 577.6,555.3 580.5,554.3 583.5,553.3 586.5,552.3 589.4,551.2 592.4,550.2 595.3,549.2 598.3,548.2 601.3,547.2 604.2,546.2 607.2,545.2 610.1,544.2 613.1,543.2 616.1,542.2 619.0,541.3 622.0,540.3 625.0,539.3 628.0,538.3 631.0,537.3 634.0,536.3 637.0,535.3 640.0,534.4 643.0,533.4 646.0,532.5 649.0,531.5 652.0,530.5 655.0,529.6 658.0,528.6 661.0,527.7 664.0,526.7 667.0,525.8 670.0,524.8 673.0,523.8 676.0,522.9 679.0,521.9 682.0,521.0 685.0,520.0 688.0,519.1 691.0,518.2 694.0,517.2 697.0,516.3 700.0,515.4 703.0,514.5 706.0,513.6 709.0,512.8 712.0,512.0 715.0,511.2 718.0,510.5 721.0,509.8 724.0,509.1 727.0,508.4 730.0,507.8 733.0,507.1 736.0,506.5 739.0,505.8 742.0,505.2 745.0,504.5 748.0,503.9 751.0,503.2 754.0,502.5 757.0,501.8 760.0,501.1 763.0,500.4 766.0,499.6 769.0,498.8 772.0,498.0 775.0,497.2 778.0,496.4 781.0,495.6 784.0,494.8 787.0,494.0 790.0,493.1 793.0,492.3 796.0,491.5 799.0,490.7 802.0,489.9 805.0,489.1 808.0,488.3 811.0,487.5 814.0,486.7 817.0,485.9 820.0,485.1 823.0,484.3 826.0,483.5 829.0,482.7 832.0,481.9 835.0,481.1 838.0,480.4 841.0,479.6 844.0,478.8 847.0,478.0 850.0,477.2 853.0,476.4 856.0,475.6 859.0,474.8 862.0,474.1 865.0,473.3 868.0,472.5 871.0,471.7 874.0,471.0 877.0,470.2 880.0,469.4 883.0,468.7 886.0,467.9 889.0,467.1 892.0,466.4 895.0,465.6 898.0,464.9 901.0,464.1 904.0,463.4 907.0,462.6 910.0,461.9 913.0,461.1 916.0,460.4 919.0,459.6 922.0,458.9 925.0,458.1 928.0,457.4 931.0,456.7 934.0,455.9 937.0,455.2 940.0,454.5 943.0,453.8 946.0,453.0 949.0,452.3 952.0,451.6 955.0,450.9 958.0,450.2 961.0,449.4 964.0,448.7 967.0,448.0 970.0,447.3 973.0,446.6 976.0,445.9 979.0,445.2 982.0,444.5 985.0,443.8 988.0,443.1 991.0,442.4 994.0,441.7 997.0,441.0 1000.0,440.4 1003.0,439.7 1006.0,439.0 1009.0,438.3 1012.0,437.7 1015.0,437.0 1018.0,436.4 1021.0,435.7 1024.0,435.1 1027.0,434.4 1030.0,433.8 1033.0,433.2 1036.0,432.6 1039.0,432.0 1042.0,431.3 1045.0,430.7 1048.0,430.1 1051.0,429.6 1054.0,429.0 1057.0,428.4 1060.0,427.8 1063.0,427.2 1066.0,426.6 1069.0,426.1 1072.0,425.5 1075.0,424.9 1078.0,424.4 1081.0,423.8 1084.0,423.3 1087.0,422.7 1090.0,422.2 1093.0,421.6 1096.0,421.1 1099.0,420.5 1102.0,420.0 1105.0,419.4 1108.0,418.9 1111.0,418.3 1114.0,417.8 1117.0,417.2 1120.0,416.7 1123.0,416.2 1126.0,415.6 1129.0,415.1 1132.0,414.6 1135.0,414.0 1138.0,413.5 1141.0,412.9 1144.0,412.4 1147.0,411.8 1150.0,411.3 1153.0,410.8 1156.0,410.2 1159.0,409.7 1162.0,409.1 1165.0,408.6 1168.0,408.0 1171.0,407.5 1174.0,406.9 1177.0,406.3 1180.0,405.8 1183.0,405.2 1186.0,404.6 1189.0,404.1 1192.0,403.5 1195.0,402.9 1198.0,402.3 1201.0,401.7 1204.0,401.2 1207.0,400.6 1210.0,400.0 1213.0,399.4 1216.0,398.8 1219.0,398.2 1222.0,397.7 1225.0,397.1 1228.0,396.5 1231.0,395.9 1234.0,395.4 1237.0,394.8 1240.0,394.2 1243.0,393.7 1246.0,393.1 1249.0,392.5 1252.0,392.0 1255.0,391.4 1258.0,390.8 1261.0,390.3 1264.0,389.7 1267.0,389.1 1270.0,388.6 1273.0,388.0 1276.0,387.5 1279.0,386.9 1282.0,386.4 1285.0,385.8 1288.0,385.3 1291.0,384.7 1294.0,384.2 1297.0,383.6 1300.0,383.1 1303.0,382.5 1306.0,382.0 1309.0,381.4 1312.0,380.9 1315.0,380.4 1318.0,379.8 1321.0,379.3 1324.0,378.7 1327.0,378.2 1330.0,377.7 1333.0,377.1 1336.0,376.6 1339.0,376.1 1342.0,375.5 1345.0,375.0 1348.0,374.5 1351.0,374.0 1354.0,373.4 1357.0,372.9 1360.0,372.4 1363.0,371.9 1366.0,371.3 1369.0,370.8 1372.0,370.3 1375.0,369.8 1378.0,369.3 1381.0,368.7 1384.0,368.2 1387.0,367.7 1390.0,367.2 1393.0,366.7 1396.0,366.2 1399.0,365.7 1402.0,365.1 1405.0,364.6 1408.0,364.1 1411.0,363.6 1414.0,363.1 1417.0,362.6 1420.0,362.1 1423.0,361.6 1426.0,361.1 1429.0,360.6 1432.0,360.1 1435.0,359.6 1438.0,359.1 1441.0,358.6 1444.0,358.1 1447.0,357.6 1450.0,357.1 1453.0,356.6 1456.0,356.1 1459.0,355.6 1462.0,355.1 1465.0,354.6 1468.0,354.2 1471.0,353.7 1474.0,353.2 1477.0,352.7 1480.0,352.2 1483.0,351.7 1486.0,351.2 1489.0,350.7 1492.0,350.3 1495.0,349.8 1498.0,349.3 1501.0,348.8 1504.0,348.3 1507.0,347.9 1510.0,347.4 1513.0,346.9 1516.0,346.4 1519.0,346.0 1522.0,345.5 1525.0,345.0 1528.0,344.5 1531.0,344.1 1534.0,343.6 1537.0,343.1 1540.0,342.7 1543.0,342.2 1546.0,341.7 1549.0,341.3 1552.0,340.8 1555.0,340.3 1558.0,339.9 1561.0,339.4 1564.0,338.9 1567.0,338.5 1570.0,338.0 1573.0,337.6 1576.0,337.1 1579.0,336.6 1582.0,336.2 1585.0,335.7 1588.0,335.3 1591.0,334.8 1594.0,334.4 1597.0,333.9 1600.0,333.5 1603.0,333.0 1606.0,332.6 1609.0,332.1 1612.0,331.7 1615.0,331.2 1618.0,330.8 1621.0,330.3 1624.0,329.9 1627.0,329.5 1630.0,329.0 1633.0,328.6 1636.0,328.1 1639.0,327.7 1642.0,327.3 1645.0,326.8 1648.0,326.4 1651.0,325.9 1654.0,325.5 1657.0,325.1 1660.0,324.6 1663.0,324.2 1666.0,323.8 1669.0,323.3 1672.0,322.9 1675.0,322.5 1678.0,322.0 1681.0,321.6 1684.0,321.2 1687.0,320.8 1690.0,320.3 1693.0,319.9 1696.0,319.5 1699.0,319.1 1702.0,318.6 1705.0,318.2 1708.0,317.8 1711.0,317.4 1714.0,316.9 1717.0,316.5 1720.0,316.1 1723.0,315.7 1726.0,315.3 1729.0,314.9 1732.0,314.4 1735.0,314.0 1738.0,313.6 1741.0,313.2 1744.0,312.8 1747.0,312.4 1750.0,312.0 1753.0,311.5 1756.0,311.1 1759.0,310.7 1762.0,310.3 1765.0,309.9 1768.0,309.5 1771.0,309.1 1774.0,308.7 1777.0,308.3 1780.0,307.9 1783.0,307.5 1786.0,307.1 1789.0,306.7 1792.0,306.3 1795.0,305.9 1798.0,305.5 1801.0,305.1 1804.0,304.7 1807.0,304.3 1810.0,303.9 1813.0,303.5 1816.0,303.1 1819.0,302.7 1822.0,302.3 1825.0,301.9 1828.0,301.5 1831.0,301.1 1834.0,300.7 1837.0,300.3 1840.0,299.9 1843.0,299.5" fill="none" stroke="#ff00ff" stroke-width="4.4" stroke-linejoin="round"/>
<polyline points="216.0,1096.9 217.0,1064.8 221.1,994.8 225.7,939.7 230.2,884.7 234.8,832.7 239.2,805.5 240.4,802.1 241.6,798.9 242.7,795.7 243.9,792.4 245.0,789.0 246.2,785.7 247.4,782.3 248.5,779.0 249.7,775.7 250.8,772.5 252.0,769.3 253.2,766.1 254.3,763.1 255.5,760.1 256.6,757.2 257.5,754.3 258.3,751.4 259.2,748.7 260.0,746.0 260.9,743.4 261.8,740.8 262.6,738.3 263.5,735.9 264.3,733.5 265.2,731.2 266.1,729.0 266.9,726.8 267.8,724.6 268.7,722.5 269.6,720.4 270.4,718.4 271.4,716.5 272.4,714.6 273.4,712.7 274.4,710.9 275.4,709.1 276.4,707.3 277.3,705.5 278.3,703.8 279.3,702.1 280.3,700.5 281.3,698.9 282.3,697.2 283.3,695.7 284.2,694.1 285.2,692.5 286.2,691.0 287.2,689.5 288.2,688.0 289.2,686.6 290.2,685.1 291.2,683.7 292.2,682.3 293.2,680.9 294.2,679.5 295.2,678.1 296.2,676.8 297.2,675.5 298.2,674.1 299.2,672.8 300.2,671.5 301.1,670.3 302.1,669.0 303.1,667.8 304.1,666.6 305.1,665.5 306.1,664.3 307.1,663.2 308.1,662.1 309.1,661.1 310.1,660.0 311.1,659.0 312.1,658.1 313.1,657.1 314.2,656.2 315.2,655.3 316.2,654.4 317.2,653.6 318.2,652.7 319.2,651.9 320.2,651.1 321.2,650.3 322.2,649.6 323.2,648.9 324.2,648.1 325.2,647.4 326.2,646.7 327.2,646.1 328.3,645.4 329.3,644.8 330.3,644.1 331.3,643.5 332.3,642.9 333.3,642.3 334.3,641.7 335.3,641.2 336.4,640.6 337.4,640.1 338.4,639.5 339.4,639.0 340.4,638.4 341.4,637.9 342.5,637.4 343.5,636.8 344.5,636.3 345.5,635.8 346.5,635.3 347.6,634.8 348.6,634.3 349.6,633.8 350.6,633.3 351.6,632.8 352.7,632.3 353.7,631.8 354.7,631.3 355.7,630.8 356.7,630.3 357.8,629.8 358.8,629.4 359.8,628.9 360.8,628.4 361.9,628.0 362.9,627.5 363.9,627.0 365.0,626.6 366.0,626.1 367.0,625.7 368.0,625.2 369.1,624.8 370.1,624.3 371.1,623.9 372.1,623.4 373.1,622.9 374.1,622.5 375.1,622.0 376.2,621.5 377.2,621.0 378.2,620.6 379.2,620.1 380.2,619.6 381.2,619.1 382.2,618.6 383.2,618.1 384.2,617.6 385.1,617.2 386.1,616.7 387.1,616.2 388.1,615.7 389.1,615.2 390.1,614.7 391.1,614.2 392.1,613.7 393.1,613.2 394.1,612.8 395.1,612.3 396.1,611.8 397.0,611.3 397.9,610.9 400.9,609.4 403.9,608.0 406.9,606.6 409.8,605.2 412.8,603.8 415.8,602.5 418.8,601.1 421.9,599.9 425.0,598.6 428.0,597.4 431.1,596.3 434.2,595.1 437.3,594.0 440.4,592.9 443.5,591.7 446.5,590.6 449.6,589.5 452.7,588.4 455.7,587.2 458.8,586.1 461.8,584.9 464.8,583.7 467.9,582.5 470.9,581.4 473.9,580.2 477.0,579.0 480.0,577.9 483.0,576.7 486.0,575.5 489.1,574.3 492.1,573.2 495.1,572.0 498.1,570.8 501.2,569.7 504.2,568.5 507.2,567.4 510.2,566.2 513.2,565.1 516.3,564.0 519.3,562.8 522.3,561.7 525.3,560.6 528.3,559.4 531.4,558.3 534.4,557.2 537.4,556.1 540.4,554.9 543.4,553.8 546.5,552.7 549.5,551.6 552.5,550.5 555.5,549.4 558.5,548.3 561.6,547.2 564.6,546.1 567.6,545.0 570.6,543.9 573.6,542.8 576.7,541.7 579.7,540.7 582.7,539.6 585.7,538.5 588.8,537.4 591.8,536.3 594.8,535.2 597.8,534.0 600.8,532.9 603.9,531.7 606.9,530.4 609.9,529.1 612.9,527.7 616.0,526.2 619.0,524.8 622.0,523.5 625.0,522.2 628.0,521.0 631.0,519.9 634.0,518.9 637.0,517.9 640.0,516.8 643.0,515.8 646.0,514.8 649.0,513.9 652.0,512.9 655.0,511.9 658.0,510.9 661.0,510.0 664.0,509.0 667.0,508.1 670.0,507.1 673.0,506.2 676.0,505.3 679.0,504.3 682.0,503.4 685.0,502.5 688.0,501.6 691.0,500.6 694.0,499.7 697.0,498.8 700.0,497.9 703.0,497.0 706.0,496.0 709.0,495.1 712.0,494.2 715.0,493.2 718.0,492.3 721.0,491.4 724.0,490.4 727.0,489.5 730.0,488.5 733.0,487.6 736.0,486.7 739.0,485.7 742.0,484.8 745.0,483.8 748.0,482.9 751.0,482.0 754.0,481.0 757.0,480.1 760.0,479.2 763.0,478.2 766.0,477.3 769.0,476.4 772.0,475.4 775.0,474.5 778.0,473.6 781.0,472.7 784.0,471.7 787.0,470.8 790.0,469.8 793.0,468.9 796.0,467.9 799.0,467.0 802.0,466.0 805.0,465.1 808.0,464.1 811.0,463.2 814.0,462.2 817.0,461.3 820.0,460.3 823.0,459.4 826.0,458.5 829.0,457.5 832.0,456.6 835.0,455.7 838.0,454.7 841.0,453.8 844.0,452.9 847.0,452.0 850.0,451.1 853.0,450.2 856.0,449.3 859.0,448.4 862.0,447.5 865.0,446.6 868.0,445.7 871.0,444.8 874.0,443.9 877.0,443.0 880.0,442.2 883.0,441.3 886.0,440.4 889.0,439.5 892.0,438.6 895.0,437.8 898.0,436.9 901.0,436.0 904.0,435.2 907.0,434.3 910.0,433.4 913.0,432.6 916.0,431.7 919.0,430.9 922.0,430.0 925.0,429.2 928.0,428.3 931.0,427.5 934.0,426.6 937.0,425.8 940.0,425.0 943.0,424.1 946.0,423.3 949.0,422.5 952.0,421.7 955.0,420.9 958.0,420.1 961.0,419.2 964.0,418.4 967.0,417.6 970.0,416.9 973.0,416.1 976.0,415.3 979.0,414.5 982.0,413.7 985.0,412.9 988.0,412.2 991.0,411.4 994.0,410.7 997.0,409.9 1000.0,409.2 1003.0,408.4 1006.0,407.7 1009.0,406.9 1012.0,406.2 1015.0,405.5 1018.0,404.7 1021.0,404.0 1024.0,403.3 1027.0,402.6 1030.0,401.8 1033.0,401.1 1036.0,400.4 1039.0,399.7 1042.0,399.0 1045.0,398.3 1048.0,397.6 1051.0,396.9 1054.0,396.2 1057.0,395.5 1060.0,394.8 1063.0,394.1 1066.0,393.4 1069.0,392.8 1072.0,392.1 1075.0,391.4 1078.0,390.7 1081.0,390.0 1084.0,389.4 1087.0,388.7 1090.0,388.0 1093.0,387.3 1096.0,386.7 1099.0,386.0 1102.0,385.4 1105.0,384.7 1108.0,384.0 1111.0,383.4 1114.0,382.7 1117.0,382.1 1120.0,381.4 1123.0,380.7 1126.0,380.1 1129.0,379.4 1132.0,378.8 1135.0,378.1 1138.0,377.5 1141.0,376.8 1144.0,376.2 1147.0,375.5 1150.0,374.9 1153.0,374.3 1156.0,373.6 1159.0,373.0 1162.0,372.3 1165.0,371.7 1168.0,371.0 1171.0,370.4 1174.0,369.8 1177.0,369.1 1180.0,368.5 1183.0,367.9 1186.0,367.2 1189.0,366.6 1192.0,365.9 1195.0,365.3 1198.0,364.7 1201.0,364.0 1204.0,363.4 1207.0,362.8 1210.0,362.1 1213.0,361.5 1216.0,360.8 1219.0,360.2 1222.0,359.6 1225.0,358.9 1228.0,358.3 1231.0,357.6 1234.0,357.0 1237.0,356.3 1240.0,355.7 1243.0,355.1 1246.0,354.4 1249.0,353.8 1252.0,353.1 1255.0,352.5 1258.0,351.9 1261.0,351.2 1264.0,350.6 1267.0,349.9 1270.0,349.3 1273.0,348.7 1276.0,348.0 1279.0,347.4 1282.0,346.7 1285.0,346.1 1288.0,345.5 1291.0,344.8 1294.0,344.2 1297.0,343.6 1300.0,342.9 1303.0,342.3 1306.0,341.7 1309.0,341.0 1312.0,340.4 1315.0,339.8 1318.0,339.2 1321.0,338.5 1324.0,337.9 1327.0,337.3 1330.0,336.7 1333.0,336.1 1336.0,335.4 1339.0,334.8 1342.0,334.2 1345.0,333.6 1348.0,333.0 1351.0,332.4 1354.0,331.8 1357.0,331.2 1360.0,330.6 1363.0,330.0 1366.0,329.4 1369.0,328.8 1372.0,328.2 1375.0,327.6 1378.0,327.0 1381.0,326.4 1384.0,325.8 1387.0,325.3 1390.0,324.7 1393.0,324.1 1396.0,323.5 1399.0,323.0 1402.0,322.4 1405.0,321.8 1408.0,321.3 1411.0,320.7 1414.0,320.2 1417.0,319.6 1420.0,319.0 1423.0,318.5 1426.0,317.9 1429.0,317.4 1432.0,316.8 1435.0,316.3 1438.0,315.7 1441.0,315.2 1444.0,314.6 1447.0,314.1 1450.0,313.5 1453.0,313.0 1456.0,312.4 1459.0,311.9 1462.0,311.4 1465.0,310.8 1468.0,310.3 1471.0,309.7 1474.0,309.2 1477.0,308.7 1480.0,308.1 1483.0,307.6 1486.0,307.1 1489.0,306.5 1492.0,306.0 1495.0,305.5 1498.0,305.0 1501.0,304.4 1504.0,303.9 1507.0,303.4 1510.0,302.9 1513.0,302.4 1516.0,301.8 1519.0,301.3 1522.0,300.8 1525.0,300.3 1528.0,299.8 1531.0,299.3 1534.0,298.7 1537.0,298.2 1540.0,297.7 1543.0,297.2 1546.0,296.7 1549.0,296.2 1552.0,295.7 1555.0,295.2 1558.0,294.7 1561.0,294.2 1564.0,293.7 1567.0,293.2 1570.0,292.7 1573.0,292.2 1576.0,291.7 1579.0,291.2 1582.0,290.7 1585.0,290.2 1588.0,289.7 1591.0,289.2 1594.0,288.7 1597.0,288.3 1600.0,287.8 1603.0,287.3 1606.0,286.8 1609.0,286.3 1612.0,285.8 1615.0,285.3 1618.0,284.9 1621.0,284.4 1624.0,283.9 1627.0,283.4 1630.0,282.9 1633.0,282.5 1636.0,282.0 1639.0,281.5 1642.0,281.0 1645.0,280.6 1648.0,280.1 1651.0,279.6 1654.0,279.1 1657.0,278.7 1660.0,278.2 1663.0,277.7 1666.0,277.3 1669.0,276.8 1672.0,276.3 1675.0,275.9 1678.0,275.4 1681.0,274.9 1684.0,274.5 1687.0,274.0 1690.0,273.6 1693.0,273.1 1696.0,272.6 1699.0,272.2 1702.0,271.7 1705.0,271.3 1708.0,270.8 1711.0,270.4 1714.0,269.9 1717.0,269.5 1720.0,269.0 1723.0,268.6 1726.0,268.1 1729.0,267.7 1732.0,267.2 1735.0,266.8 1738.0,266.3 1741.0,265.9 1744.0,265.4 1747.0,265.0 1750.0,264.5 1753.0,264.1 1756.0,263.6 1759.0,263.2 1762.0,262.8 1765.0,262.3 1768.0,261.9 1771.0,261.5 1774.0,261.0 1777.0,260.6 1780.0,260.1 1783.0,259.7 1786.0,259.3 1789.0,258.9 1792.0,258.4 1795.0,258.0 1798.0,257.6 1801.0,257.1 1804.0,256.7 1807.0,256.3 1810.0,255.9 1813.0,255.4 1816.0,255.0 1819.0,254.6 1822.0,254.2 1825.0,253.7 1828.0,253.3 1831.0,252.9 1834.0,252.5 1837.0,252.1 1840.0,251.6 1843.0,251.2" fill="none" stroke="#ff0000" stroke-width="4.4" stroke-linejoin="round"/>
<polyline points="220.0,1097.0 221.0,1065.0 225.1,995.0 229.7,940.1 234.2,885.1 238.8,833.1 243.1,806.2 244.2,803.3 245.4,800.1 246.6,796.8 247.7,793.5 248.9,790.1 250.0,786.8 251.2,783.4 252.4,780.1 253.5,776.8 254.7,773.6 255.8,770.5 257.0,767.4 258.1,764.3 259.3,761.4 260.4,758.5 261.4,755.7 262.4,752.9 263.4,750.2 264.4,747.6 265.4,745.1 266.3,742.7 267.3,740.3 268.3,738.0 269.3,735.7 270.3,733.6 271.3,731.4 272.3,729.3 273.2,727.3 274.2,725.3 275.2,723.3 276.2,721.4 277.3,719.6 278.3,717.8 279.4,716.0 280.4,714.3 281.5,712.6 282.6,710.9 283.6,709.3 284.7,707.6 285.7,706.1 286.8,704.5 287.8,703.0 288.9,701.5 289.9,700.0 291.0,698.5 292.0,697.1 293.1,695.7 294.1,694.3 295.2,692.8 296.2,691.4 297.2,690.1 298.2,688.7 299.2,687.4 300.2,686.0 301.2,684.7 302.2,683.4 303.2,682.2 304.2,680.9 305.4,679.8 306.5,678.8 307.6,677.7 308.7,676.7 309.8,675.7 310.9,674.8 312.0,673.8 313.1,673.0 314.2,672.1 315.3,671.3 316.4,670.5 317.4,669.8 318.5,669.1 319.5,668.4 320.5,667.8 321.6,667.1 322.6,666.5 323.6,665.9 324.6,665.3 325.6,664.7 326.6,664.2 327.5,663.6 328.5,663.1 329.5,662.6 330.5,662.0 331.5,661.5 332.5,661.0 333.4,660.5 334.4,660.0 335.4,659.4 336.4,658.9 337.3,658.4 338.3,657.9 339.3,657.4 340.3,656.8 341.2,656.3 342.2,655.8 343.2,655.2 344.2,654.7 345.2,654.2 346.1,653.6 347.1,653.1 348.1,652.5 349.1,652.0 350.0,651.4 351.0,650.9 352.0,650.4 353.0,649.8 353.9,649.3 354.9,648.7 355.9,648.2 356.9,647.7 357.8,647.1 358.8,646.6 359.8,646.1 360.8,645.5 361.7,645.0 362.7,644.4 363.6,643.9 364.6,643.3 365.5,642.7 366.5,642.1 367.4,641.5 368.4,640.9 369.3,640.4 370.2,639.8 371.2,639.2 372.1,638.6 373.0,638.0 374.0,637.4 374.9,636.8 375.9,636.2 376.8,635.7 377.8,635.1 378.7,634.6 379.7,634.0 380.6,633.5 381.6,633.0 382.6,632.4 383.6,631.9 384.5,631.5 385.5,631.0 386.5,630.5 387.5,630.0 388.5,629.5 389.5,629.0 390.4,628.5 391.4,628.0 392.4,627.6 393.4,627.1 394.4,626.6 395.4,626.2 396.4,625.7 397.3,625.2 398.3,624.7 399.3,624.3 400.3,623.8 401.3,623.4 402.3,622.9 403.2,622.5 406.1,621.1 409.1,619.8 412.1,618.4 415.0,617.0 418.0,615.7 420.9,614.3 423.9,612.9 426.8,611.5 429.6,610.1 432.5,608.6 435.3,607.1 438.2,605.6 441.0,604.1 443.9,602.6 446.8,601.2 449.7,599.7 452.6,598.3 455.5,597.0 458.4,595.7 461.4,594.5 464.4,593.3 467.3,592.1 470.3,591.0 473.3,589.8 476.2,588.6 479.2,587.5 482.2,586.3 485.1,585.2 488.1,584.0 491.1,582.9 494.1,581.8 497.1,580.7 500.0,579.7 503.0,578.6 506.0,577.6 509.0,576.5 512.0,575.5 515.0,574.4 518.0,573.4 520.9,572.4 523.9,571.4 526.9,570.4 529.9,569.4 532.9,568.4 535.8,567.4 538.8,566.4 541.8,565.3 544.8,564.3 547.7,563.3 550.7,562.3 553.7,561.3 556.7,560.2 559.6,559.2 562.6,558.2 565.6,557.1 568.5,556.1 571.5,555.0 574.5,554.0 577.4,553.0 580.4,552.0 583.4,550.9 586.3,549.9 589.3,548.9 592.3,547.9 595.2,546.9 598.2,545.9 601.2,544.8 604.2,543.8 607.1,542.8 610.1,541.8 613.1,540.8 616.0,539.9 619.0,538.9 622.0,537.9 625.0,536.9 628.0,535.9 631.0,534.9 634.0,533.9 637.0,532.9 640.0,531.9 643.0,531.0 646.0,530.0 649.0,529.0 652.0,528.1 655.0,527.1 658.0,526.1 661.0,525.2 664.0,524.2 667.0,523.3 670.0,522.3 673.0,521.4 676.0,520.4 679.0,519.5 682.0,518.5 685.0,517.6 688.0,516.7 691.0,515.7 694.0,514.8 697.0,513.9 700.0,513.0 703.0,512.1 706.0,511.2 709.0,510.4 712.0,509.6 715.0,508.9 718.0,508.1 721.0,507.4 724.0,506.7 727.0,506.1 730.0,505.4 733.0,504.8 736.0,504.1 739.0,503.5 742.0,502.9 745.0,502.2 748.0,501.6 751.0,500.9 754.0,500.2 757.0,499.5 760.0,498.8 763.0,498.1 766.0,497.3 769.0,496.5 772.0,495.7 775.0,494.9 778.0,494.1 781.0,493.3 784.0,492.4 787.0,491.6 790.0,490.8 793.0,490.0 796.0,489.2 799.0,488.4 802.0,487.6 805.0,486.8 808.0,486.0 811.0,485.2 814.0,484.4 817.0,483.6 820.0,482.8 823.0,482.0 826.0,481.2 829.0,480.4 832.0,479.6 835.0,478.8 838.0,478.0 841.0,477.2 844.0,476.4 847.0,475.6 850.0,474.8 853.0,474.0 856.0,473.2 859.0,472.4 862.0,471.7 865.0,470.9 868.0,470.1 871.0,469.3 874.0,468.5 877.0,467.8 880.0,467.0 883.0,466.2 886.0,465.5 889.0,464.7 892.0,463.9 895.0,463.2 898.0,462.4 901.0,461.7 904.0,460.9 907.0,460.2 910.0,459.4 913.0,458.7 916.0,457.9 919.0,457.2 922.0,456.4 925.0,455.7 928.0,455.0 931.0,454.2 934.0,453.5 937.0,452.8 940.0,452.0 943.0,451.3 946.0,450.6 949.0,449.9 952.0,449.1 955.0,448.4 958.0,447.7 961.0,447.0 964.0,446.3 967.0,445.6 970.0,444.8 973.0,444.1 976.0,443.4 979.0,442.7 982.0,442.0 985.0,441.3 988.0,440.6 991.0,439.9 994.0,439.2 997.0,438.5 1000.0,437.9 1003.0,437.2 1006.0,436.5 1009.0,435.8 1012.0,435.1 1015.0,434.5 1018.0,433.8 1021.0,433.2 1024.0,432.5 1027.0,431.9 1030.0,431.3 1033.0,430.7 1036.0,430.0 1039.0,429.4 1042.0,428.8 1045.0,428.2 1048.0,427.6 1051.0,427.0 1054.0,426.4 1057.0,425.8 1060.0,425.3 1063.0,424.7 1066.0,424.1 1069.0,423.5 1072.0,423.0 1075.0,422.4 1078.0,421.8 1081.0,421.3 1084.0,420.7 1087.0,420.2 1090.0,419.6 1093.0,419.1 1096.0,418.5 1099.0,418.0 1102.0,417.4 1105.0,416.9 1108.0,416.3 1111.0,415.8 1114.0,415.3 1117.0,414.7 1120.0,414.2 1123.0,413.6 1126.0,413.1 1129.0,412.6 1132.0,412.0 1135.0,411.5 1138.0,411.0 1141.0,410.4 1144.0,409.9 1147.0,409.3 1150.0,408.8 1153.0,408.2 1156.0,407.7 1159.0,407.2 1162.0,406.6 1165.0,406.1 1168.0,405.5 1171.0,405.0 1174.0,404.4 1177.0,403.8 1180.0,403.3 1183.0,402.7 1186.0,402.1 1189.0,401.6 1192.0,401.0 1195.0,400.4 1198.0,399.8 1201.0,399.2 1204.0,398.7 1207.0,398.1 1210.0,397.5 1213.0,396.9 1216.0,396.3 1219.0,395.7 1222.0,395.2 1225.0,394.6 1228.0,394.0 1231.0,393.4 1234.0,392.9 1237.0,392.3 1240.0,391.7 1243.0,391.2 1246.0,390.6 1249.0,390.0 1252.0,389.5 1255.0,388.9 1258.0,388.3 1261.0,387.8 1264.0,387.2 1267.0,386.6 1270.0,386.1 1273.0,385.5 1276.0,385.0 1279.0,384.4 1282.0,383.9 1285.0,383.3 1288.0,382.8 1291.0,382.2 1294.0,381.7 1297.0,381.1 1300.0,380.6 1303.0,380.0 1306.0,379.5 1309.0,378.9 1312.0,378.4 1315.0,377.9 1318.0,377.3 1321.0,376.8 1324.0,376.2 1327.0,375.7 1330.0,375.2 1333.0,374.6 1336.0,374.1 1339.0,373.6 1342.0,373.0 1345.0,372.5 1348.0,372.0 1351.0,371.5 1354.0,370.9 1357.0,370.4 1360.0,369.9 1363.0,369.4 1366.0,368.8 1369.0,368.3 1372.0,367.8 1375.0,367.3 1378.0,366.8 1381.0,366.2 1384.0,365.7 1387.0,365.2 1390.0,364.7 1393.0,364.2 1396.0,363.7 1399.0,363.2 1402.0,362.6 1405.0,362.1 1408.0,361.6 1411.0,361.1 1414.0,360.6 1417.0,360.1 1420.0,359.6 1423.0,359.1 1426.0,358.6 1429.0,358.1 1432.0,357.6 1435.0,357.1 1438.0,356.6 1441.0,356.1 1444.0,355.6 1447.0,355.1 1450.0,354.6 1453.0,354.1 1456.0,353.6 1459.0,353.1 1462.0,352.7 1465.0,352.2 1468.0,351.7 1471.0,351.2 1474.0,350.7 1477.0,350.2 1480.0,349.7 1483.0,349.3 1486.0,348.8 1489.0,348.3 1492.0,347.8 1495.0,347.3 1498.0,346.8 1501.0,346.4 1504.0,345.9 1507.0,345.4 1510.0,344.9 1513.0,344.5 1516.0,344.0 1519.0,343.5 1522.0,343.0 1525.0,342.6 1528.0,342.1 1531.0,341.6 1534.0,341.2 1537.0,340.7 1540.0,340.2 1543.0,339.8 1546.0,339.3 1549.0,338.8 1552.0,338.4 1555.0,337.9 1558.0,337.5 1561.0,337.0 1564.0,336.5 1567.0,336.1 1570.0,335.6 1573.0,335.2 1576.0,334.7 1579.0,334.2 1582.0,333.8 1585.0,333.3 1588.0,332.9 1591.0,332.4 1594.0,332.0 1597.0,331.5 1600.0,331.1 1603.0,330.6 1606.0,330.2 1609.0,329.7 1612.0,329.3 1615.0,328.8 1618.0,328.4 1621.0,327.9 1624.0,327.5 1627.0,327.1 1630.0,326.6 1633.0,326.2 1636.0,325.7 1639.0,325.3 1642.0,324.9 1645.0,324.4 1648.0,324.0 1651.0,323.6 1654.0,323.1 1657.0,322.7 1660.0,322.3 1663.0,321.8 1666.0,321.4 1669.0,321.0 1672.0,320.6 1675.0,320.1 1678.0,319.7 1681.0,319.3 1684.0,318.9 1687.0,318.4 1690.0,318.0 1693.0,317.6 1696.0,317.2 1699.0,316.8 1702.0,316.3 1705.0,315.9 1708.0,315.5 1711.0,315.1 1714.0,314.7 1717.0,314.3 1720.0,313.8 1723.0,313.4 1726.0,313.0 1729.0,312.6 1732.0,312.2 1735.0,311.8 1738.0,311.4 1741.0,311.0 1744.0,310.6 1747.0,310.2 1750.0,309.7 1753.0,309.3 1756.0,308.9 1759.0,308.5 1762.0,308.1 1765.0,307.7 1768.0,307.3 1771.0,306.9 1774.0,306.5 1777.0,306.1 1780.0,305.7 1783.0,305.3 1786.0,304.9 1789.0,304.5 1792.0,304.1 1795.0,303.8 1798.0,303.4 1801.0,303.0 1804.0,302.6 1807.0,302.2 1810.0,301.8 1813.0,301.4 1816.0,301.0 1819.0,300.6 1822.0,300.2 1825.0,299.8 1828.0,299.5 1831.0,299.1 1834.0,298.7 1837.0,298.3 1840.0,297.9 1843.0,297.5" fill="none" stroke="#ff0000" stroke-width="4.4" stroke-linejoin="round"/>
<polyline points="219.5,1097.0 220.5,1065.0 224.5,995.0 229.0,940.0 233.4,885.0 237.9,833.0 242.1,806.0 243.1,802.9 244.1,799.7 245.1,796.4 246.1,793.0 247.1,789.6 248.1,786.2 249.1,782.8 250.1,779.5 251.1,776.1 252.1,772.8 253.1,769.6 254.1,766.4 255.1,763.3 256.1,760.3 257.1,757.4 258.0,754.4 258.9,751.6 259.7,748.9 260.6,746.2 261.5,743.6 262.4,741.1 263.3,738.6 264.2,736.2 265.1,733.9 266.0,731.6 266.8,729.3 267.7,727.2 268.6,725.0 269.5,722.9 270.4,720.9 271.3,718.9 272.3,716.9 273.3,715.0 274.3,713.2 275.2,711.3 276.2,709.5 277.2,707.8 278.2,706.0 279.1,704.3 280.1,702.6 281.1,701.0 282.1,699.3 283.1,697.7 284.0,696.2 285.0,694.6 286.0,693.0 287.0,691.5 288.0,690.0 288.9,688.5 289.9,687.1 290.9,685.6 291.9,684.2 292.9,682.8 293.9,681.4 294.9,680.0 295.9,678.7 296.9,677.3 297.9,676.0 298.9,674.7 299.9,673.4 300.9,672.2 301.9,670.9 302.9,669.7 303.9,668.5 304.9,667.3 305.9,666.2 306.9,665.1 307.9,664.0 308.9,662.9 309.9,661.9 310.9,660.8 311.9,659.9 312.9,658.9 313.9,658.0 314.9,657.1 315.9,656.2 316.9,655.4 317.9,654.6 319.0,653.8 320.0,653.0 321.0,652.3 322.0,651.5 323.0,650.8 324.0,650.1 325.1,649.4 326.1,648.8 327.1,648.1 328.1,647.5 329.1,646.8 330.1,646.2 331.1,645.6 332.2,645.0 333.2,644.4 334.2,643.8 335.2,643.3 336.2,642.7 337.2,642.1 338.2,641.6 339.2,641.0 340.2,640.5 341.2,639.9 342.3,639.4 343.3,638.9 344.3,638.3 345.3,637.8 346.3,637.3 347.3,636.7 348.3,636.2 349.3,635.7 350.3,635.2 351.3,634.6 352.3,634.1 353.3,633.6 354.4,633.1 355.4,632.6 356.4,632.0 357.4,631.5 358.4,631.0 359.4,630.5 360.4,630.0 361.4,629.5 362.4,629.0 363.4,628.4 364.4,627.9 365.4,627.4 366.4,626.9 367.4,626.4 368.4,625.9 369.4,625.4 370.4,624.9 371.4,624.4 372.4,624.0 373.4,623.5 374.4,623.0 375.4,622.5 376.4,622.0 377.4,621.5 378.4,621.0 379.4,620.6 380.4,620.1 381.4,619.6 382.4,619.1 383.4,618.7 384.4,618.2 385.4,617.7 386.4,617.3 387.4,616.8 388.4,616.3 389.4,615.9 390.4,615.4 391.4,615.0 392.4,614.5 393.5,614.1 394.5,613.6 395.5,613.1 396.5,612.7 397.5,612.2 398.4,611.8 401.4,610.5 404.4,609.2 407.4,607.8 410.4,606.5 413.4,605.2 416.4,603.9 419.4,602.6 422.5,601.3 425.5,600.0 428.5,598.7 431.5,597.4 434.6,596.1 437.6,594.8 440.6,593.5 443.6,592.3 446.7,591.0 449.7,589.7 452.7,588.5 455.7,587.3 458.8,586.0 461.8,584.8 464.8,583.7 467.9,582.5 470.9,581.3 473.9,580.2 477.0,579.0 480.0,577.9 483.0,576.7 486.1,575.6 489.1,574.4 492.1,573.3 495.2,572.2 498.2,571.1 501.2,570.0 504.2,568.9 507.3,567.8 510.3,566.7 513.3,565.6 516.4,564.5 519.4,563.4 522.4,562.3 525.4,561.3 528.5,560.2 531.5,559.1 534.5,558.1 537.5,557.0 540.5,555.9 543.6,554.9 546.6,553.8 549.6,552.7 552.6,551.7 555.6,550.6 558.7,549.5 561.7,548.5 564.7,547.4 567.7,546.3 570.7,545.2 573.7,544.1 576.8,543.0 579.8,541.9 582.8,540.8 585.8,539.7 588.8,538.6 591.8,537.5 594.8,536.4 597.9,535.3 600.9,534.2 603.9,533.2 606.9,532.1 609.9,531.1 613.0,530.0 616.0,529.0 619.0,527.9 622.0,526.9 625.0,525.9 628.0,524.9 631.0,523.9 634.0,522.9 637.0,522.0 640.0,521.0 643.0,520.1 646.0,519.1 649.0,518.2 652.0,517.2 655.0,516.3 658.0,515.3 661.0,514.4 664.0,513.4 667.0,512.5 670.0,511.5 673.0,510.5 676.0,509.6 679.0,508.6 682.0,507.7 685.0,506.8 688.0,505.8 691.0,504.9 694.0,503.9 697.0,503.0 700.0,502.1 703.0,501.2 706.0,500.2 709.0,499.3 712.0,498.4 715.0,497.5 718.0,496.6 721.0,495.7 724.0,494.8 727.0,493.9 730.0,493.0 733.0,492.1 736.0,491.2 739.0,490.3 742.0,489.4 745.0,488.5 748.0,487.6 751.0,486.8 754.0,485.9 757.0,485.0 760.0,484.1 763.0,483.3 766.0,482.4 769.0,481.5 772.0,480.7 775.0,479.8 778.0,479.0 781.0,478.1 784.0,477.3 787.0,476.5 790.0,475.6 793.0,474.8 796.0,474.0 799.0,473.2 802.0,472.3 805.0,471.5 808.0,470.7 811.0,469.9 814.0,469.1 817.0,468.3 820.0,467.5 823.0,466.7 826.0,465.9 829.0,465.1 832.0,464.3 835.0,463.5 838.0,462.7 841.0,461.9 844.0,461.1 847.0,460.3 850.0,459.5 853.0,458.7 856.0,457.9 859.0,457.1 862.0,456.4 865.0,455.6 868.0,454.8 871.0,454.0 874.0,453.2 877.0,452.5 880.0,451.7 883.0,450.9 886.0,450.2 889.0,449.4 892.0,448.6 895.0,447.9 898.0,447.1 901.0,446.4 904.0,445.6 907.0,444.9 910.0,444.1 913.0,443.4 916.0,442.6 919.0,441.9 922.0,441.1 925.0,440.4 928.0,439.7 931.0,438.9 934.0,438.2 937.0,437.5 940.0,436.7 943.0,436.0 946.0,435.3 949.0,434.6 952.0,433.8 955.0,433.1 958.0,432.4 961.0,431.7 964.0,431.0 967.0,430.3 970.0,429.5 973.0,428.8 976.0,428.1 979.0,427.4 982.0,426.7 985.0,426.0 988.0,425.3 991.0,424.6 994.0,423.9 997.0,423.2 1000.0,422.6 1003.0,421.9 1006.0,421.2 1009.0,420.5 1012.0,419.8 1015.0,419.1 1018.0,418.4 1021.0,417.8 1024.0,417.1 1027.0,416.4 1030.0,415.7 1033.0,415.1 1036.0,414.4 1039.0,413.7 1042.0,413.0 1045.0,412.4 1048.0,411.7 1051.0,411.0 1054.0,410.4 1057.0,409.7 1060.0,409.1 1063.0,408.4 1066.0,407.7 1069.0,407.1 1072.0,406.4 1075.0,405.8 1078.0,405.1 1081.0,404.5 1084.0,403.8 1087.0,403.2 1090.0,402.5 1093.0,401.9 1096.0,401.2 1099.0,400.6 1102.0,399.9 1105.0,399.3 1108.0,398.7 1111.0,398.0 1114.0,397.4 1117.0,396.8 1120.0,396.1 1123.0,395.5 1126.0,394.9 1129.0,394.2 1132.0,393.6 1135.0,393.0 1138.0,392.4 1141.0,391.7 1144.0,391.1 1147.0,390.5 1150.0,389.9 1153.0,389.3 1156.0,388.6 1159.0,388.0 1162.0,387.4 1165.0,386.8 1168.0,386.2 1171.0,385.6 1174.0,385.0 1177.0,384.4 1180.0,383.8 1183.0,383.1 1186.0,382.5 1189.0,381.9 1192.0,381.3 1195.0,380.7 1198.0,380.1 1201.0,379.5 1204.0,378.9 1207.0,378.3 1210.0,377.8 1213.0,377.2 1216.0,376.6 1219.0,376.0 1222.0,375.4 1225.0,374.8 1228.0,374.2 1231.0,373.6 1234.0,373.0 1237.0,372.4 1240.0,371.8 1243.0,371.2 1246.0,370.6 1249.0,370.0 1252.0,369.4 1255.0,368.8 1258.0,368.2 1261.0,367.7 1264.0,367.1 1267.0,366.5 1270.0,365.9 1273.0,365.3 1276.0,364.7 1279.0,364.1 1282.0,363.5 1285.0,363.0 1288.0,362.4 1291.0,361.8 1294.0,361.2 1297.0,360.6 1300.0,360.0 1303.0,359.5 1306.0,358.9 1309.0,358.3 1312.0,357.7 1315.0,357.1 1318.0,356.6 1321.0,356.0 1324.0,355.4 1327.0,354.9 1330.0,354.3 1333.0,353.7 1336.0,353.1 1339.0,352.6 1342.0,352.0 1345.0,351.4 1348.0,350.9 1351.0,350.3 1354.0,349.7 1357.0,349.2 1360.0,348.6 1363.0,348.1 1366.0,347.5 1369.0,347.0 1372.0,346.4 1375.0,345.8 1378.0,345.3 1381.0,344.7 1384.0,344.2 1387.0,343.6 1390.0,343.1 1393.0,342.6 1396.0,342.0 1399.0,341.5 1402.0,340.9 1405.0,340.4 1408.0,339.8 1411.0,339.3 1414.0,338.8 1417.0,338.2 1420.0,337.7 1423.0,337.1 1426.0,336.6 1429.0,336.1 1432.0,335.5 1435.0,335.0 1438.0,334.5 1441.0,333.9 1444.0,333.4 1447.0,332.9 1450.0,332.3 1453.0,331.8 1456.0,331.3 1459.0,330.7 1462.0,330.2 1465.0,329.7 1468.0,329.1 1471.0,328.6 1474.0,328.1 1477.0,327.5 1480.0,327.0 1483.0,326.5 1486.0,326.0 1489.0,325.4 1492.0,324.9 1495.0,324.4 1498.0,323.9 1501.0,323.4 1504.0,322.9 1507.0,322.3 1510.0,321.8 1513.0,321.3 1516.0,320.8 1519.0,320.3 1522.0,319.8 1525.0,319.3 1528.0,318.8 1531.0,318.3 1534.0,317.8 1537.0,317.3 1540.0,316.8 1543.0,316.3 1546.0,315.8 1549.0,315.3 1552.0,314.8 1555.0,314.3 1558.0,313.8 1561.0,313.4 1564.0,312.9 1567.0,312.4 1570.0,311.9 1573.0,311.4 1576.0,311.0 1579.0,310.5 1582.0,310.0 1585.0,309.6 1588.0,309.1 1591.0,308.6 1594.0,308.2 1597.0,307.7 1600.0,307.3 1603.0,306.8 1606.0,306.4 1609.0,305.9 1612.0,305.5 1615.0,305.0 1618.0,304.6 1621.0,304.1 1624.0,303.7 1627.0,303.2 1630.0,302.8 1633.0,302.3 1636.0,301.9 1639.0,301.5 1642.0,301.0 1645.0,300.6 1648.0,300.1 1651.0,299.7 1654.0,299.3 1657.0,298.8 1660.0,298.4 1663.0,298.0 1666.0,297.5 1669.0,297.1 1672.0,296.6 1675.0,296.2 1678.0,295.8 1681.0,295.4 1684.0,294.9 1687.0,294.5 1690.0,294.1 1693.0,293.6 1696.0,293.2 1699.0,292.8 1702.0,292.4 1705.0,291.9 1708.0,291.5 1711.0,291.1 1714.0,290.7 1717.0,290.2 1720.0,289.8 1723.0,289.4 1726.0,289.0 1729.0,288.6 1732.0,288.1 1735.0,287.7 1738.0,287.3 1741.0,286.9 1744.0,286.5 1747.0,286.1 1750.0,285.6 1753.0,285.2 1756.0,284.8 1759.0,284.4 1762.0,284.0 1765.0,283.6 1768.0,283.2 1771.0,282.8 1774.0,282.3 1777.0,281.9 1780.0,281.5 1783.0,281.1 1786.0,280.7 1789.0,280.3 1792.0,279.9 1795.0,279.5 1798.0,279.1 1801.0,278.7 1804.0,278.3 1807.0,277.9 1810.0,277.5 1813.0,277.1 1816.0,276.7 1819.0,276.3 1822.0,275.9 1825.0,275.5 1828.0,275.1 1831.0,274.7 1834.0,274.3 1837.0,273.9 1840.0,273.5 1843.0,273.1" fill="none" stroke="#0000ff" stroke-width="4.4" stroke-linejoin="round"/>
<polyline points="219.5,1097.0 220.5,1065.0 224.6,995.0 229.2,940.0 233.7,885.0 238.3,833.0 242.6,806.1 243.7,803.1 244.8,799.9 245.9,796.6 247.0,793.3 248.1,789.9 249.2,786.5 250.3,783.2 251.4,779.8 252.4,776.5 253.5,773.3 254.6,770.1 255.7,767.0 256.8,763.9 257.9,760.9 259.0,758.0 260.0,755.2 261.0,752.4 262.1,749.7 263.1,747.1 264.1,744.6 265.1,742.2 266.1,739.8 267.2,737.5 268.2,735.3 269.2,733.1 270.2,730.9 271.2,728.8 272.3,726.8 273.3,724.8 274.3,722.8 275.3,720.9 276.3,719.1 277.3,717.2 278.3,715.4 279.3,713.6 280.3,711.9 281.3,710.2 282.3,708.5 283.3,706.8 284.3,705.2 285.3,703.6 286.3,702.0 287.3,700.4 288.3,698.9 289.3,697.4 290.3,695.9 291.3,694.4 292.2,693.0 293.3,691.5 294.3,690.1 295.3,688.7 296.3,687.3 297.3,686.0 298.3,684.6 299.3,683.3 300.3,682.0 301.3,680.7 302.3,679.4 303.4,678.3 304.5,677.1 305.6,676.0 306.6,674.9 307.7,673.9 308.8,672.9 309.9,671.9 311.0,670.9 312.0,670.0 313.1,669.1 314.2,668.3 315.2,667.5 316.3,666.7 317.3,665.9 318.3,665.2 319.3,664.5 320.4,663.8 321.4,663.1 322.4,662.5 323.4,661.8 324.4,661.2 325.4,660.6 326.4,660.0 327.4,659.5 328.4,658.9 329.4,658.3 330.4,657.8 331.4,657.2 332.4,656.7 333.4,656.2 334.4,655.6 335.4,655.1 336.4,654.5 337.3,654.0 338.3,653.4 339.3,652.9 340.3,652.4 341.3,651.8 342.3,651.3 343.3,650.7 344.2,650.2 345.2,649.6 346.2,649.1 347.2,648.5 348.2,648.0 349.1,647.4 350.1,646.9 351.1,646.3 352.1,645.8 353.1,645.2 354.0,644.7 355.0,644.1 356.0,643.6 357.0,643.1 358.0,642.5 358.9,642.0 359.9,641.4 360.9,640.9 361.8,640.3 362.8,639.7 363.7,639.2 364.7,638.6 365.7,638.0 366.6,637.4 367.6,636.9 368.5,636.3 369.5,635.7 370.4,635.1 371.4,634.6 372.3,634.0 373.3,633.4 374.2,632.9 375.2,632.3 376.2,631.8 377.1,631.2 378.1,630.7 379.1,630.2 380.1,629.7 381.0,629.2 382.0,628.7 383.0,628.2 384.0,627.7 385.0,627.2 386.0,626.8 387.0,626.3 388.0,625.8 389.0,625.3 389.9,624.9 390.9,624.4 391.9,623.9 392.9,623.4 393.9,623.0 394.9,622.5 395.9,622.0 396.9,621.6 397.9,621.1 398.9,620.7 399.9,620.2 400.9,619.7 401.7,619.3 404.7,618.0 407.7,616.6 410.7,615.3 413.7,613.9 416.7,612.6 419.6,611.3 422.6,610.0 425.6,608.7 428.5,607.4 431.5,606.2 434.5,604.9 437.4,603.7 440.4,602.4 443.4,601.2 446.3,599.9 449.3,598.7 452.3,597.5 455.2,596.3 458.2,595.1 461.2,593.9 464.2,592.7 467.2,591.6 470.2,590.5 473.2,589.5 476.2,588.4 479.2,587.3 482.1,586.1 485.1,585.0 488.1,583.8 491.0,582.7 494.0,581.5 497.0,580.4 500.0,579.3 502.9,578.1 505.9,577.0 508.9,575.9 511.8,574.8 514.8,573.6 517.8,572.5 520.8,571.4 523.7,570.3 526.7,569.2 529.7,568.1 532.7,567.0 535.6,565.9 538.6,564.8 541.6,563.7 544.6,562.6 547.5,561.6 550.5,560.5 553.5,559.4 556.5,558.3 559.4,557.3 562.4,556.2 565.4,555.2 568.4,554.1 571.3,553.1 574.3,552.0 577.3,551.0 580.3,549.9 583.3,548.9 586.2,547.9 589.2,546.8 592.2,545.8 595.2,544.8 598.1,543.8 601.1,542.8 604.1,541.8 607.1,540.8 610.1,539.8 613.0,538.8 616.0,537.8 619.0,536.8 622.0,535.8 625.0,534.8 628.0,533.8 631.0,532.8 634.0,531.8 637.0,530.8 640.0,529.9 643.0,528.9 646.0,528.0 649.0,527.0 652.0,526.0 655.0,525.1 658.0,524.1 661.0,523.2 664.0,522.2 667.0,521.3 670.0,520.3 673.0,519.4 676.0,518.4 679.0,517.5 682.0,516.5 685.0,515.6 688.0,514.7 691.0,513.7 694.0,512.8 697.0,511.9 700.0,511.0 703.0,510.1 706.0,509.2 709.0,508.4 712.0,507.6 715.0,506.9 718.0,506.1 721.0,505.4 724.0,504.7 727.0,504.1 730.0,503.4 733.0,502.8 736.0,502.1 739.0,501.5 742.0,500.9 745.0,500.2 748.0,499.6 751.0,498.9 754.0,498.2 757.0,497.5 760.0,496.8 763.0,496.1 766.0,495.3 769.0,494.5 772.0,493.7 775.0,492.9 778.0,492.1 781.0,491.3 784.0,490.4 787.0,489.6 790.0,488.8 793.0,488.0 796.0,487.2 799.0,486.4 802.0,485.6 805.0,484.8 808.0,484.0 811.0,483.2 814.0,482.4 817.0,481.6 820.0,480.8 823.0,480.0 826.0,479.2 829.0,478.4 832.0,477.6 835.0,476.8 838.0,476.0 841.0,475.2 844.0,474.4 847.0,473.6 850.0,472.8 853.0,472.0 856.0,471.2 859.0,470.4 862.0,469.7 865.0,468.9 868.0,468.1 871.0,467.3 874.0,466.5 877.0,465.8 880.0,465.0 883.0,464.2 886.0,463.4 889.0,462.7 892.0,461.9 895.0,461.1 898.0,460.4 901.0,459.6 904.0,458.9 907.0,458.1 910.0,457.3 913.0,456.6 916.0,455.8 919.0,455.1 922.0,454.3 925.0,453.6 928.0,452.9 931.0,452.1 934.0,451.4 937.0,450.6 940.0,449.9 943.0,449.2 946.0,448.4 949.0,447.7 952.0,447.0 955.0,446.3 958.0,445.5 961.0,444.8 964.0,444.1 967.0,443.4 970.0,442.7 973.0,442.0 976.0,441.2 979.0,440.5 982.0,439.8 985.0,439.1 988.0,438.4 991.0,437.7 994.0,437.0 997.0,436.3 1000.0,435.7 1003.0,435.0 1006.0,434.3 1009.0,433.6 1012.0,432.9 1015.0,432.3 1018.0,431.6 1021.0,431.0 1024.0,430.3 1027.0,429.7 1030.0,429.1 1033.0,428.5 1036.0,427.8 1039.0,427.2 1042.0,426.6 1045.0,426.0 1048.0,425.4 1051.0,424.8 1054.0,424.2 1057.0,423.7 1060.0,423.1 1063.0,422.5 1066.0,421.9 1069.0,421.3 1072.0,420.8 1075.0,420.2 1078.0,419.7 1081.0,419.1 1084.0,418.5 1087.0,418.0 1090.0,417.4 1093.0,416.9 1096.0,416.3 1099.0,415.8 1102.0,415.3 1105.0,414.7 1108.0,414.2 1111.0,413.6 1114.0,413.1 1117.0,412.6 1120.0,412.0 1123.0,411.5 1126.0,410.9 1129.0,410.4 1132.0,409.9 1135.0,409.3 1138.0,408.8 1141.0,408.3 1144.0,407.7 1147.0,407.2 1150.0,406.6 1153.0,406.1 1156.0,405.6 1159.0,405.0 1162.0,404.5 1165.0,403.9 1168.0,403.4 1171.0,402.8 1174.0,402.3 1177.0,401.7 1180.0,401.2 1183.0,400.6 1186.0,400.0 1189.0,399.5 1192.0,398.9 1195.0,398.3 1198.0,397.7 1201.0,397.1 1204.0,396.6 1207.0,396.0 1210.0,395.4 1213.0,394.8 1216.0,394.2 1219.0,393.7 1222.0,393.1 1225.0,392.5 1228.0,391.9 1231.0,391.4 1234.0,390.8 1237.0,390.2 1240.0,389.7 1243.0,389.1 1246.0,388.5 1249.0,388.0 1252.0,387.4 1255.0,386.8 1258.0,386.3 1261.0,385.7 1264.0,385.2 1267.0,384.6 1270.0,384.0 1273.0,383.5 1276.0,382.9 1279.0,382.4 1282.0,381.8 1285.0,381.3 1288.0,380.7 1291.0,380.2 1294.0,379.6 1297.0,379.1 1300.0,378.5 1303.0,378.0 1306.0,377.5 1309.0,376.9 1312.0,376.4 1315.0,375.8 1318.0,375.3 1321.0,374.8 1324.0,374.2 1327.0,373.7 1330.0,373.2 1333.0,372.6 1336.0,372.1 1339.0,371.6 1342.0,371.0 1345.0,370.5 1348.0,370.0 1351.0,369.4 1354.0,368.9 1357.0,368.4 1360.0,367.9 1363.0,367.3 1366.0,366.8 1369.0,366.3 1372.0,365.8 1375.0,365.3 1378.0,364.8 1381.0,364.2 1384.0,363.7 1387.0,363.2 1390.0,362.7 1393.0,362.2 1396.0,361.7 1399.0,361.2 1402.0,360.6 1405.0,360.1 1408.0,359.6 1411.0,359.1 1414.0,358.6 1417.0,358.1 1420.0,357.6 1423.0,357.1 1426.0,356.6 1429.0,356.1 1432.0,355.6 1435.0,355.1 1438.0,354.6 1441.0,354.1 1444.0,353.6 1447.0,353.1 1450.0,352.6 1453.0,352.1 1456.0,351.6 1459.0,351.1 1462.0,350.7 1465.0,350.2 1468.0,349.7 1471.0,349.2 1474.0,348.7 1477.0,348.2 1480.0,347.7 1483.0,347.3 1486.0,346.8 1489.0,346.3 1492.0,345.8 1495.0,345.3 1498.0,344.8 1501.0,344.4 1504.0,343.9 1507.0,343.4 1510.0,342.9 1513.0,342.5 1516.0,342.0 1519.0,341.5 1522.0,341.0 1525.0,340.6 1528.0,340.1 1531.0,339.6 1534.0,339.2 1537.0,338.7 1540.0,338.2 1543.0,337.8 1546.0,337.3 1549.0,336.8 1552.0,336.4 1555.0,335.9 1558.0,335.5 1561.0,335.0 1564.0,334.5 1567.0,334.1 1570.0,333.6 1573.0,333.2 1576.0,332.7 1579.0,332.2 1582.0,331.8 1585.0,331.3 1588.0,330.9 1591.0,330.4 1594.0,330.0 1597.0,329.5 1600.0,329.1 1603.0,328.6 1606.0,328.2 1609.0,327.7 1612.0,327.3 1615.0,326.8 1618.0,326.4 1621.0,325.9 1624.0,325.5 1627.0,325.1 1630.0,324.6 1633.0,324.2 1636.0,323.7 1639.0,323.3 1642.0,322.9 1645.0,322.4 1648.0,322.0 1651.0,321.5 1654.0,321.1 1657.0,320.7 1660.0,320.2 1663.0,319.8 1666.0,319.4 1669.0,318.9 1672.0,318.5 1675.0,318.1 1678.0,317.6 1681.0,317.2 1684.0,316.8 1687.0,316.4 1690.0,315.9 1693.0,315.5 1696.0,315.1 1699.0,314.6 1702.0,314.2 1705.0,313.8 1708.0,313.4 1711.0,313.0 1714.0,312.5 1717.0,312.1 1720.0,311.7 1723.0,311.3 1726.0,310.8 1729.0,310.4 1732.0,310.0 1735.0,309.6 1738.0,309.2 1741.0,308.8 1744.0,308.4 1747.0,307.9 1750.0,307.5 1753.0,307.1 1756.0,306.7 1759.0,306.3 1762.0,305.9 1765.0,305.5 1768.0,305.1 1771.0,304.6 1774.0,304.2 1777.0,303.8 1780.0,303.4 1783.0,303.0 1786.0,302.6 1789.0,302.2 1792.0,301.8 1795.0,301.4 1798.0,301.0 1801.0,300.6 1804.0,300.2 1807.0,299.8 1810.0,299.4 1813.0,299.0 1816.0,298.6 1819.0,298.2 1822.0,297.8 1825.0,297.4 1828.0,297.0 1831.0,296.6 1834.0,296.2 1837.0,295.8 1840.0,295.4 1843.0,295.0" fill="none" stroke="#0000ff" stroke-width="4.4" stroke-linejoin="round"/>
<defs><linearGradient id="fm" gradientUnits="userSpaceOnUse" x1="258" y1="0" x2="288" y2="0"><stop offset="0" stop-color="#b9527c" stop-opacity="1"/><stop offset="1" stop-color="#b9527c" stop-opacity="0"/></linearGradient><linearGradient id="fl" gradientUnits="userSpaceOnUse" x1="258" y1="0" x2="288" y2="0"><stop offset="0" stop-color="#d490b0" stop-opacity="1"/><stop offset="1" stop-color="#d490b0" stop-opacity="0"/></linearGradient></defs>
<polyline points="215.0,1096.9 216.0,1064.8 220.1,994.7 224.7,939.7 229.2,884.7 233.8,832.6 238.2,805.3 239.5,801.8 240.7,798.6 241.9,795.4 243.1,792.1 244.2,788.8 245.4,785.4 246.6,782.1 247.8,778.8 249.0,775.5 250.2,772.3 251.4,769.1 252.6,766.0 253.8,762.9 255.0,759.9 256.1,757.0 257.0,754.1 257.8,751.2 258.6,748.4 259.5,745.7 260.3,743.1 261.1,740.5 262.0,738.0 262.8,735.6 263.6,733.2 264.5,730.9 265.3,728.6 266.1,726.4 267.0,724.2 267.8,722.1 268.7,720.0 269.5,717.9 270.5,715.9 271.4,714.0 272.3,712.1 273.2,710.2 274.2,708.4 275.1,706.5 276.0,704.8 276.9,703.0 277.9,701.3 278.8,699.6 279.7,697.9 280.6,696.2 281.6,694.6 282.5,692.9 283.4,691.3 284.4,689.8" fill="none" stroke="url(#fm)" stroke-width="4.4" stroke-linejoin="round"/>
<polyline points="220.5,1097.0 221.5,1065.1 225.6,995.1 230.2,940.1 234.7,885.1 239.3,833.2 243.6,806.3 244.7,803.4 245.9,800.2 247.0,797.0 248.2,793.6 249.4,790.3 250.5,786.9 251.7,783.6 252.8,780.3 254.0,777.0 255.1,773.8 256.3,770.6 257.5,767.5 258.6,764.5 259.8,761.5 260.9,758.7 261.9,755.8 262.9,753.1 263.9,750.4 264.9,747.9 266.0,745.4 267.0,742.9 268.0,740.6 269.0,738.3 270.0,736.1 271.0,733.9 272.0,731.8 273.1,729.7 274.1,727.7 275.1,725.7 276.1,723.8 277.1,721.9 278.2,720.1 279.3,718.3 280.4,716.5 281.5,714.8 282.6,713.2 283.7,711.5 284.8,709.9 285.9,708.4 286.9,706.8 288.0,705.3 289.1,703.8 290.2,702.3 291.3,700.9 292.4,699.4 293.5,698.0 294.6,696.6" fill="none" stroke="url(#fl)" stroke-width="4.4" stroke-linejoin="round"/>
<polyline points="219.5,1097.0 220.5,1065.0 224.5,995.0 229.0,940.0 233.4,885.0 237.9,833.0 242.1,806.0 243.1,802.9 244.1,799.7 245.1,796.4 246.1,793.0 247.1,789.6 248.1,786.2 249.1,782.8 250.1,779.5 251.1,776.1 252.1,772.8 253.1,769.6 254.1,766.4 255.1,763.3 256.1,760.3 257.1,757.4 258.1,754.5 259.1,751.7 260.1,749.0 261.1,746.4 262.1,743.8 263.1,741.4 264.1,739.0 265.1,736.6 266.1,734.3 267.1,732.1 268.1,729.9 269.1,727.8 270.1,725.7 271.1,723.7 272.1,721.7 273.1,719.8 274.1,717.9 275.1,716.0 276.1,714.2 277.1,712.4 278.1,710.6 279.1,708.9 280.1,707.2 281.1,705.5 282.1,703.8 283.1,702.2 284.1,700.6 285.1,699.0 286.1,697.5 287.1,696.0 288.1,694.4 289.1,693.0 290.1,691.5 291.1,690.0 292.1,688.6 293.1,687.2 294.1,685.8 295.1,684.4 296.1,683.0 297.1,681.7 298.1,680.3 299.1,679.0 300.1,677.7 301.1,676.5 302.1,675.2 303.1,674.0 304.1,672.8 305.1,671.6 306.1,670.5 307.1,669.4 308.1,668.3 309.1,667.2 310.1,666.2 311.1,665.2 312.1,664.2 313.1,663.3 314.1,662.4 315.1,661.5 316.1,660.6 317.1,659.8 318.1,659.0 319.1,658.2 320.1,657.5 321.1,656.7 322.1,656.0 323.1,655.3 324.1,654.6 325.1,653.9 326.1,653.3 327.1,652.6 328.1,652.0 329.1,651.4 330.1,650.7 331.1,650.1 332.1,649.5 333.1,649.0 334.1,648.4 335.1,647.8 336.1,647.2 337.1,646.7 338.1,646.1 339.1,645.5 340.1,645.0 341.1,644.4 342.1,643.9 343.1,643.4 344.1,642.8 345.1,642.3 346.1,641.7 347.1,641.2 348.1,640.7 349.1,640.1 350.1,639.6 351.1,639.1 352.1,638.6 353.1,638.0 354.1,637.5 355.1,637.0 356.1,636.5 357.1,636.0 358.1,635.5 359.1,634.9 360.1,634.4 361.1,633.9 362.1,633.4 363.1,632.9 364.1,632.4 365.1,631.9 366.1,631.4 367.1,630.9 368.1,630.4 369.1,629.9 370.1,629.5 371.1,629.0 372.1,628.5 373.1,628.0 374.1,627.5 375.1,627.0 376.1,626.5 377.1,626.1 378.1,625.6 379.1,625.1 380.1,624.6 381.1,624.2 382.1,623.7 383.1,623.2 384.1,622.8 385.1,622.3 386.1,621.8 387.1,621.3 388.1,620.9 389.1,620.4 390.1,620.0 391.1,619.5 392.1,619.0 393.1,618.6 394.1,618.1 395.1,617.7 396.1,617.2 397.1,616.8 398.1,616.3 399.1,615.9 400.0,615.4 403.0,614.1 406.0,612.8 409.0,611.4 412.0,610.1 415.0,608.8 418.0,607.5 421.0,606.2 424.0,604.9 427.0,603.7 430.0,602.4 433.0,601.1 436.0,599.9 439.0,598.6 442.0,597.4 445.0,596.1 448.0,594.9 451.0,593.7 454.0,592.5 457.0,591.3 460.0,590.0 463.0,588.8 466.0,587.7 469.0,586.5 472.0,585.3 475.0,584.1 478.0,582.9 481.0,581.8 484.0,580.6 487.0,579.4 490.0,578.3 493.0,577.1 496.0,576.0 499.0,574.9 502.0,573.7 505.0,572.6 508.0,571.5 511.0,570.3 514.0,569.2 517.0,568.1 520.0,567.0 523.0,565.9 526.0,564.8 529.0,563.7 532.0,562.6 535.0,561.5 538.0,560.4 541.0,559.3 544.0,558.3 547.0,557.2 550.0,556.1 553.0,555.1 556.0,554.0 559.0,552.9 562.0,551.9 565.0,550.8 568.0,549.8 571.0,548.7 574.0,547.7 577.0,546.6 580.0,545.6 583.0,544.6 586.0,543.5 589.0,542.5 592.0,541.5 595.0,540.4 598.0,539.4 601.0,538.4 604.0,537.4 607.0,536.4 610.0,535.4 613.0,534.4 616.0,533.4 619.0,532.4 622.0,531.4 625.0,530.4 628.0,529.4 631.0,528.4 634.0,527.4 637.0,526.4 640.0,525.4 643.0,524.5 646.0,523.5 649.0,522.5 652.0,521.6 655.0,520.6 658.0,519.6 661.0,518.7 664.0,517.7 667.0,516.8 670.0,515.8 673.0,514.9 676.0,513.9 679.0,513.0 682.0,512.0 685.0,511.1 688.0,510.2 691.0,509.2 694.0,508.3 697.0,507.4 700.0,506.5 703.0,505.6 706.0,504.6 709.0,503.7 712.0,502.8 715.0,501.9 718.0,501.0 721.0,500.1 724.0,499.2 727.0,498.3 730.0,497.4 733.0,496.5 736.0,495.6 739.0,494.8 742.0,493.9 745.0,493.0 748.0,492.1 751.0,491.2 754.0,490.4 757.0,489.5 760.0,488.6 763.0,487.8 766.0,486.9 769.0,486.0 772.0,485.2 775.0,484.3 778.0,483.5 781.0,482.6 784.0,481.8 787.0,480.9 790.0,480.1 793.0,479.3 796.0,478.4 799.0,477.6 802.0,476.8 805.0,475.9 808.0,475.1 811.0,474.3 814.0,473.5 817.0,472.7 820.0,471.8 823.0,471.0 826.0,470.2 829.0,469.4 832.0,468.6 835.0,467.8 838.0,467.0 841.0,466.2 844.0,465.4 847.0,464.6 850.0,463.8 853.0,463.0 856.0,462.2 859.0,461.4 862.0,460.7 865.0,459.9 868.0,459.1 871.0,458.3 874.0,457.5 877.0,456.8 880.0,456.0 883.0,455.2 886.0,454.5 889.0,453.7 892.0,452.9 895.0,452.2 898.0,451.4 901.0,450.7 904.0,449.9 907.0,449.2 910.0,448.4 913.0,447.7 916.0,446.9 919.0,446.2 922.0,445.4 925.0,444.7 928.0,444.0 931.0,443.2 934.0,442.5 937.0,441.8 940.0,441.0 943.0,440.3 946.0,439.6 949.0,438.9 952.0,438.1 955.0,437.4 958.0,436.7 961.0,436.0 964.0,435.3 967.0,434.6 970.0,433.8 973.0,433.1 976.0,432.4 979.0,431.7 982.0,431.0 985.0,430.3 988.0,429.6 991.0,428.9 994.0,428.2 997.0,427.5 1000.0,426.9 1003.0,426.2 1006.0,425.5 1009.0,424.8 1012.0,424.1 1015.0,423.4 1018.0,422.7 1021.0,422.1 1024.0,421.4 1027.0,420.7 1030.0,420.0 1033.0,419.4 1036.0,418.7 1039.0,418.0 1042.0,417.4 1045.0,416.7 1048.0,416.0 1051.0,415.4 1054.0,414.7 1057.0,414.1 1060.0,413.4 1063.0,412.7 1066.0,412.1 1069.0,411.4 1072.0,410.8 1075.0,410.1 1078.0,409.5 1081.0,408.8 1084.0,408.2 1087.0,407.6 1090.0,406.9 1093.0,406.3 1096.0,405.6 1099.0,405.0 1102.0,404.4 1105.0,403.7 1108.0,403.1 1111.0,402.5 1114.0,401.8 1117.0,401.2 1120.0,400.6 1123.0,400.0 1126.0,399.3 1129.0,398.7 1132.0,398.1 1135.0,397.5 1138.0,396.9 1141.0,396.3 1144.0,395.6 1147.0,395.0 1150.0,394.4 1153.0,393.8 1156.0,393.2 1159.0,392.6 1162.0,392.0 1165.0,391.4 1168.0,390.8 1171.0,390.2 1174.0,389.6 1177.0,389.0 1180.0,388.4 1183.0,387.8 1186.0,387.2 1189.0,386.6 1192.0,386.0 1195.0,385.4 1198.0,384.8 1201.0,384.2 1204.0,383.7 1207.0,383.1 1210.0,382.5 1213.0,381.9 1216.0,381.3 1219.0,380.7 1222.0,380.2 1225.0,379.6 1228.0,379.0 1231.0,378.4 1234.0,377.9 1237.0,377.3 1240.0,376.7 1243.0,376.2 1246.0,375.6 1249.0,375.0 1252.0,374.5 1255.0,373.9 1258.0,373.3 1261.0,372.8 1264.0,372.2 1267.0,371.6 1270.0,371.1 1273.0,370.5 1276.0,370.0 1279.0,369.4 1282.0,368.9 1285.0,368.3 1288.0,367.8 1291.0,367.2 1294.0,366.7 1297.0,366.1 1300.0,365.6 1303.0,365.0 1306.0,364.5 1309.0,363.9 1312.0,363.4 1315.0,362.9 1318.0,362.3 1321.0,361.8 1324.0,361.2 1327.0,360.7 1330.0,360.2 1333.0,359.6 1336.0,359.1 1339.0,358.6 1342.0,358.0 1345.0,357.5 1348.0,357.0 1351.0,356.5 1354.0,355.9 1357.0,355.4 1360.0,354.9 1363.0,354.4 1366.0,353.8 1369.0,353.3 1372.0,352.8 1375.0,352.3 1378.0,351.8 1381.0,351.2 1384.0,350.7 1387.0,350.2 1390.0,349.7 1393.0,349.2 1396.0,348.7 1399.0,348.2 1402.0,347.6 1405.0,347.1 1408.0,346.6 1411.0,346.1 1414.0,345.6 1417.0,345.1 1420.0,344.6 1423.0,344.1 1426.0,343.6 1429.0,343.1 1432.0,342.6 1435.0,342.1 1438.0,341.6 1441.0,341.1 1444.0,340.6 1447.0,340.1 1450.0,339.6 1453.0,339.1 1456.0,338.6 1459.0,338.1 1462.0,337.7 1465.0,337.2 1468.0,336.7 1471.0,336.2 1474.0,335.7 1477.0,335.2 1480.0,334.7 1483.0,334.3 1486.0,333.8 1489.0,333.3 1492.0,332.8 1495.0,332.3 1498.0,331.8 1501.0,331.4 1504.0,330.9 1507.0,330.4 1510.0,329.9 1513.0,329.5 1516.0,329.0 1519.0,328.5 1522.0,328.0 1525.0,327.6 1528.0,327.1 1531.0,326.6 1534.0,326.2 1537.0,325.7 1540.0,325.2 1543.0,324.8 1546.0,324.3 1549.0,323.8 1552.0,323.4 1555.0,322.9 1558.0,322.5 1561.0,322.0 1564.0,321.5 1567.0,321.1 1570.0,320.6 1573.0,320.2 1576.0,319.7 1579.0,319.2 1582.0,318.8 1585.0,318.3 1588.0,317.9 1591.0,317.4 1594.0,317.0 1597.0,316.5 1600.0,316.1 1603.0,315.6 1606.0,315.2 1609.0,314.7 1612.0,314.3 1615.0,313.8 1618.0,313.4 1621.0,312.9 1624.0,312.5 1627.0,312.1 1630.0,311.6 1633.0,311.2 1636.0,310.7 1639.0,310.3 1642.0,309.9 1645.0,309.4 1648.0,309.0 1651.0,308.5 1654.0,308.1 1657.0,307.7 1660.0,307.2 1663.0,306.8 1666.0,306.4 1669.0,305.9 1672.0,305.5 1675.0,305.1 1678.0,304.6 1681.0,304.2 1684.0,303.8 1687.0,303.4 1690.0,302.9 1693.0,302.5 1696.0,302.1 1699.0,301.6 1702.0,301.2 1705.0,300.8 1708.0,300.4 1711.0,300.0 1714.0,299.5 1717.0,299.1 1720.0,298.7 1723.0,298.3 1726.0,297.8 1729.0,297.4 1732.0,297.0 1735.0,296.6 1738.0,296.2 1741.0,295.8 1744.0,295.4 1747.0,294.9 1750.0,294.5 1753.0,294.1 1756.0,293.7 1759.0,293.3 1762.0,292.9 1765.0,292.5 1768.0,292.1 1771.0,291.6 1774.0,291.2 1777.0,290.8 1780.0,290.4 1783.0,290.0 1786.0,289.6 1789.0,289.2 1792.0,288.8 1795.0,288.4 1798.0,288.0 1801.0,287.6 1804.0,287.2 1807.0,286.8 1810.0,286.4 1813.0,286.0 1816.0,285.6 1819.0,285.2 1822.0,284.8 1825.0,284.4 1828.0,284.0 1831.0,283.6 1834.0,283.2 1837.0,282.8 1840.0,282.4 1843.0,282.0" fill="none" stroke="#ff8000" stroke-width="4.4" stroke-linejoin="round"/>
</g>
<rect x="213" y="103" width="5" height="1191" fill="#8e8e8e"/>
<rect x="213" y="1292" width="1636" height="4.4" fill="#666666"/>
<g shape-rendering="crispEdges">
<rect x="492.1" y="1477.6" width="30.8" height="30.8" fill="#e6e6ff"/>
<rect x="487.7" y="1468.8" width="39.6" height="4.4" fill="#8080ff"/>
<rect x="492.1" y="1473.2" width="35.2" height="4.4" fill="#7070ff"/>
<rect x="487.7" y="1512.8" width="39.6" height="4.4" fill="#8080ff"/>
<rect x="492.1" y="1508.4" width="35.2" height="4.4" fill="#7070ff"/>
<rect x="483.3" y="1473.2" width="4.4" height="39.6" fill="#bfbfff"/>
<rect x="487.7" y="1473.2" width="4.4" height="39.6" fill="#3333ff"/>
<rect x="522.9" y="1477.6" width="4.4" height="30.8" fill="#ababff"/>
<rect x="527.3" y="1473.2" width="4.4" height="39.6" fill="#3333ff"/>
<rect x="527.3" y="1468.8" width="4.4" height="4.4" fill="#ccccff"/>
<rect x="527.3" y="1512.8" width="4.4" height="4.4" fill="#b2b2ff"/>
<rect x="1066.5" y="1477.6" width="30.8" height="30.8" fill="#ffe6e6"/>
<rect x="1062.1" y="1468.8" width="39.6" height="4.4" fill="#ff8080"/>
<rect x="1066.5" y="1473.2" width="35.2" height="4.4" fill="#ff7070"/>
<rect x="1062.1" y="1512.8" width="39.6" height="4.4" fill="#ff8080"/>
<rect x="1066.5" y="1508.4" width="35.2" height="4.4" fill="#ff7070"/>
<rect x="1057.7" y="1473.2" width="4.4" height="39.6" fill="#ffbfbf"/>
<rect x="1062.1" y="1473.2" width="4.4" height="39.6" fill="#ff3333"/>
<rect x="1097.3" y="1477.6" width="4.4" height="30.8" fill="#ffabab"/>
<rect x="1101.7" y="1473.2" width="4.4" height="39.6" fill="#ff3333"/>
<rect x="1101.7" y="1468.8" width="4.4" height="4.4" fill="#ffcccc"/>
<rect x="1101.7" y="1512.8" width="4.4" height="4.4" fill="#ffb2b2"/>
<rect x="492.1" y="1557.1" width="30.8" height="30.8" fill="#ffe6ff"/>
<rect x="487.7" y="1548.3" width="39.6" height="4.4" fill="#ff80ff"/>
<rect x="492.1" y="1552.7" width="35.2" height="4.4" fill="#ff70ff"/>
<rect x="487.7" y="1592.3" width="39.6" height="4.4" fill="#ff80ff"/>
<rect x="492.1" y="1587.9" width="35.2" height="4.4" fill="#ff70ff"/>
<rect x="483.3" y="1552.7" width="4.4" height="39.6" fill="#ffbfff"/>
<rect x="487.7" y="1552.7" width="4.4" height="39.6" fill="#ff33ff"/>
<rect x="522.9" y="1557.1" width="4.4" height="30.8" fill="#ffabff"/>
<rect x="527.3" y="1552.7" width="4.4" height="39.6" fill="#ff33ff"/>
<rect x="527.3" y="1548.3" width="4.4" height="4.4" fill="#ffccff"/>
<rect x="527.3" y="1592.3" width="4.4" height="4.4" fill="#ffb2ff"/>
<rect x="1066.5" y="1557.0" width="30.8" height="30.8" fill="#e5f4ec"/>
<rect x="1062.1" y="1548.2" width="39.6" height="4.4" fill="#80caa4"/>
<rect x="1066.5" y="1552.6" width="35.2" height="4.4" fill="#70c399"/>
<rect x="1062.1" y="1592.2" width="39.6" height="4.4" fill="#80caa4"/>
<rect x="1066.5" y="1587.8" width="35.2" height="4.4" fill="#70c399"/>
<rect x="1057.7" y="1552.6" width="4.4" height="39.6" fill="#bfe4d1"/>
<rect x="1062.1" y="1552.6" width="4.4" height="39.6" fill="#33a96d"/>
<rect x="1097.3" y="1557.0" width="4.4" height="30.8" fill="#abdcc3"/>
<rect x="1101.7" y="1552.6" width="4.4" height="39.6" fill="#33a96d"/>
<rect x="1101.7" y="1548.2" width="4.4" height="4.4" fill="#cceada"/>
<rect x="1101.7" y="1592.2" width="4.4" height="4.4" fill="#b2dfc8"/>
<rect x="452" y="1649.8" width="111" height="4.8" fill="#ff8000"/>
<rect x="563" y="1649.8" width="4" height="4.8" fill="#ffc080"/>
</g>
<g font-family="'Liberation Sans', Arial, sans-serif" font-size="50" fill="#262626">
<text x="582" y="1499.5" textLength="106" lengthAdjust="spacing">50%</text>
<text x="1153" y="1499.5" textLength="109" lengthAdjust="spacing">75%</text>
<text x="582" y="1579.5" textLength="106" lengthAdjust="spacing">95%</text>
<text x="1155" y="1579.5" textLength="137" lengthAdjust="spacing">100%</text>
<text x="580.5" y="1658.5" textLength="127" lengthAdjust="spacing">Mean</text>
</g>
</svg>
</body></html>
